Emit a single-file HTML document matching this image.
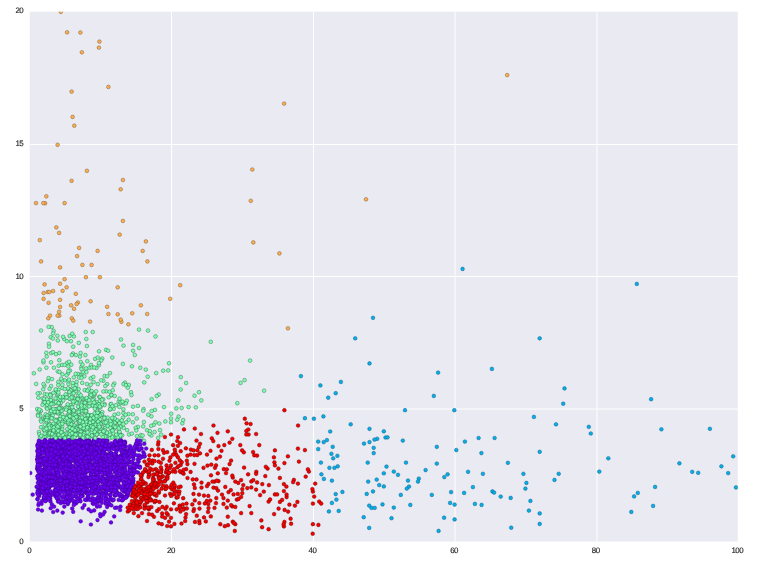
<!DOCTYPE html>
<html><head><meta charset="utf-8"><title>scatter</title>
<style>
html,body{margin:0;padding:0;background:#fff}
svg{display:block}
text{font-family:"Liberation Sans",sans-serif;font-size:7.9px;text-rendering:geometricPrecision;letter-spacing:-0.45px;stroke:#262626;stroke-width:.15px;fill:#262626}
.grid line{stroke:#fff;stroke-width:1}
circle{r:1.85px;stroke-width:.45}
.p{fill:#6e00f4;stroke:#38008c}
.b{fill:#08aee8;stroke:#0a5c82}
.g{fill:#80ffb4;stroke:#256a44}
.o{fill:#ffae4e;stroke:#6e5634}
.r{fill:#fa0000;stroke:#640000}
</style></head><body>
<svg width="763" height="571" viewBox="0 0 763 571">
<rect x="0" y="0" width="763" height="571" fill="#fff"/>
<rect x="29.8" y="11.7" width="708.0" height="529.8" fill="#eaeaf2"/>
<g class="grid"><line x1="171.5" y1="11.7" x2="171.5" y2="541.5"/><line x1="313.5" y1="11.7" x2="313.5" y2="541.5"/><line x1="455.0" y1="11.7" x2="455.0" y2="541.5"/><line x1="597.0" y1="11.7" x2="597.0" y2="541.5"/><line x1="29.8" y1="409.0" x2="737.8" y2="409.0"/><line x1="29.8" y1="276.5" x2="737.8" y2="276.5"/><line x1="29.8" y1="144.5" x2="737.8" y2="144.5"/></g>
<clipPath id="c"><rect x="29.8" y="11.7" width="708.0" height="529.8"/></clipPath>
<g clip-path="url(#c)">
<circle class="p" cx="68.7" cy="477.4" r="1.85"/>
<circle class="p" cx="61.2" cy="466.3" r="1.85"/>
<circle class="p" cx="89.6" cy="441.1" r="1.85"/>
<circle class="g" cx="73.6" cy="413.1" r="1.85"/>
<circle class="g" cx="99.2" cy="416.3" r="1.85"/>
<circle class="r" cx="211.8" cy="438.3" r="1.85"/>
<circle class="o" cx="82.4" cy="264.9" r="1.85"/>
<circle class="p" cx="91.8" cy="465.5" r="1.85"/>
<circle class="p" cx="68.0" cy="469.4" r="1.85"/>
<circle class="p" cx="75.6" cy="486.1" r="1.85"/>
<circle class="p" cx="81.9" cy="443.9" r="1.85"/>
<circle class="p" cx="119.8" cy="446.9" r="1.85"/>
<circle class="p" cx="38.5" cy="487.7" r="1.85"/>
<circle class="g" cx="83.3" cy="398.6" r="1.85"/>
<circle class="g" cx="79.0" cy="413.8" r="1.85"/>
<circle class="g" cx="56.6" cy="419.8" r="1.85"/>
<circle class="p" cx="96.3" cy="479.3" r="1.85"/>
<circle class="r" cx="162.4" cy="476.3" r="1.85"/>
<circle class="p" cx="51.0" cy="453.1" r="1.85"/>
<circle class="r" cx="274.9" cy="494.4" r="1.85"/>
<circle class="r" cx="168.8" cy="472.7" r="1.85"/>
<circle class="p" cx="93.9" cy="480.9" r="1.85"/>
<circle class="p" cx="99.3" cy="448.5" r="1.85"/>
<circle class="p" cx="132.2" cy="474.5" r="1.85"/>
<circle class="g" cx="81.4" cy="405.8" r="1.85"/>
<circle class="r" cx="196.8" cy="515.7" r="1.85"/>
<circle class="g" cx="70.6" cy="437.6" r="1.85"/>
<circle class="p" cx="133.5" cy="467.6" r="1.85"/>
<circle class="p" cx="63.5" cy="478.2" r="1.85"/>
<circle class="p" cx="105.5" cy="490.1" r="1.85"/>
<circle class="g" cx="99.3" cy="396.9" r="1.85"/>
<circle class="p" cx="71.9" cy="482.9" r="1.85"/>
<circle class="p" cx="58.8" cy="499.7" r="1.85"/>
<circle class="p" cx="64.8" cy="479.5" r="1.85"/>
<circle class="p" cx="37.2" cy="468.9" r="1.85"/>
<circle class="p" cx="64.2" cy="482.8" r="1.85"/>
<circle class="g" cx="57.8" cy="371.5" r="1.85"/>
<circle class="p" cx="48.5" cy="496.0" r="1.85"/>
<circle class="p" cx="41.9" cy="442.4" r="1.85"/>
<circle class="p" cx="95.1" cy="459.2" r="1.85"/>
<circle class="g" cx="83.0" cy="417.8" r="1.85"/>
<circle class="p" cx="59.8" cy="442.5" r="1.85"/>
<circle class="g" cx="75.4" cy="430.4" r="1.85"/>
<circle class="o" cx="60.1" cy="267.4" r="1.85"/>
<circle class="p" cx="84.9" cy="477.6" r="1.85"/>
<circle class="r" cx="141.2" cy="488.0" r="1.85"/>
<circle class="r" cx="235.3" cy="524.2" r="1.85"/>
<circle class="p" cx="54.3" cy="466.8" r="1.85"/>
<circle class="p" cx="116.4" cy="481.2" r="1.85"/>
<circle class="p" cx="112.2" cy="446.4" r="1.85"/>
<circle class="g" cx="66.3" cy="434.6" r="1.85"/>
<circle class="g" cx="95.3" cy="426.2" r="1.85"/>
<circle class="p" cx="53.5" cy="454.5" r="1.85"/>
<circle class="o" cx="74.3" cy="125.7" r="1.85"/>
<circle class="r" cx="134.0" cy="508.4" r="1.85"/>
<circle class="g" cx="73.3" cy="427.9" r="1.85"/>
<circle class="g" cx="52.0" cy="379.1" r="1.85"/>
<circle class="p" cx="60.9" cy="486.1" r="1.85"/>
<circle class="p" cx="107.5" cy="464.1" r="1.85"/>
<circle class="g" cx="140.3" cy="367.8" r="1.85"/>
<circle class="p" cx="54.8" cy="441.0" r="1.85"/>
<circle class="g" cx="48.9" cy="423.0" r="1.85"/>
<circle class="p" cx="69.8" cy="483.3" r="1.85"/>
<circle class="p" cx="84.7" cy="487.0" r="1.85"/>
<circle class="p" cx="123.6" cy="464.1" r="1.85"/>
<circle class="p" cx="69.0" cy="478.3" r="1.85"/>
<circle class="p" cx="135.9" cy="464.4" r="1.85"/>
<circle class="r" cx="132.6" cy="492.7" r="1.85"/>
<circle class="p" cx="56.2" cy="486.7" r="1.85"/>
<circle class="r" cx="194.3" cy="455.1" r="1.85"/>
<circle class="r" cx="155.8" cy="469.2" r="1.85"/>
<circle class="g" cx="103.4" cy="380.7" r="1.85"/>
<circle class="g" cx="156.2" cy="373.1" r="1.85"/>
<circle class="g" cx="94.7" cy="394.7" r="1.85"/>
<circle class="o" cx="44.6" cy="284.4" r="1.85"/>
<circle class="p" cx="64.6" cy="497.6" r="1.85"/>
<circle class="p" cx="100.1" cy="440.4" r="1.85"/>
<circle class="p" cx="68.6" cy="449.8" r="1.85"/>
<circle class="g" cx="51.7" cy="327.1" r="1.85"/>
<circle class="g" cx="48.9" cy="435.8" r="1.85"/>
<circle class="p" cx="103.0" cy="455.5" r="1.85"/>
<circle class="p" cx="58.5" cy="462.4" r="1.85"/>
<circle class="p" cx="79.8" cy="480.9" r="1.85"/>
<circle class="g" cx="89.3" cy="428.5" r="1.85"/>
<circle class="p" cx="72.4" cy="457.1" r="1.85"/>
<circle class="p" cx="120.8" cy="443.0" r="1.85"/>
<circle class="g" cx="46.5" cy="407.7" r="1.85"/>
<circle class="g" cx="101.2" cy="380.3" r="1.85"/>
<circle class="o" cx="170.2" cy="298.8" r="1.85"/>
<circle class="p" cx="53.1" cy="474.7" r="1.85"/>
<circle class="p" cx="115.0" cy="507.8" r="1.85"/>
<circle class="p" cx="107.7" cy="476.6" r="1.85"/>
<circle class="g" cx="58.7" cy="428.3" r="1.85"/>
<circle class="p" cx="49.0" cy="487.6" r="1.85"/>
<circle class="g" cx="118.7" cy="401.6" r="1.85"/>
<circle class="g" cx="79.8" cy="436.5" r="1.85"/>
<circle class="p" cx="76.0" cy="447.4" r="1.85"/>
<circle class="r" cx="179.6" cy="505.6" r="1.85"/>
<circle class="g" cx="44.0" cy="436.8" r="1.85"/>
<circle class="p" cx="69.4" cy="478.6" r="1.85"/>
<circle class="p" cx="132.7" cy="451.7" r="1.85"/>
<circle class="p" cx="117.4" cy="486.8" r="1.85"/>
<circle class="g" cx="45.8" cy="436.3" r="1.85"/>
<circle class="r" cx="304.9" cy="450.1" r="1.85"/>
<circle class="p" cx="41.7" cy="458.8" r="1.85"/>
<circle class="g" cx="64.8" cy="380.3" r="1.85"/>
<circle class="p" cx="71.6" cy="444.7" r="1.85"/>
<circle class="p" cx="127.5" cy="478.1" r="1.85"/>
<circle class="g" cx="68.1" cy="373.4" r="1.85"/>
<circle class="p" cx="65.0" cy="483.5" r="1.85"/>
<circle class="g" cx="86.3" cy="339.0" r="1.85"/>
<circle class="p" cx="121.5" cy="446.8" r="1.85"/>
<circle class="g" cx="113.1" cy="419.4" r="1.85"/>
<circle class="p" cx="76.9" cy="446.9" r="1.85"/>
<circle class="g" cx="128.7" cy="419.7" r="1.85"/>
<circle class="g" cx="53.3" cy="423.7" r="1.85"/>
<circle class="p" cx="112.0" cy="477.3" r="1.85"/>
<circle class="p" cx="82.0" cy="483.7" r="1.85"/>
<circle class="p" cx="70.3" cy="442.8" r="1.85"/>
<circle class="p" cx="45.2" cy="471.9" r="1.85"/>
<circle class="g" cx="95.3" cy="429.4" r="1.85"/>
<circle class="g" cx="67.9" cy="424.2" r="1.85"/>
<circle class="p" cx="43.9" cy="457.4" r="1.85"/>
<circle class="r" cx="241.1" cy="496.9" r="1.85"/>
<circle class="r" cx="238.3" cy="482.9" r="1.85"/>
<circle class="p" cx="49.7" cy="486.8" r="1.85"/>
<circle class="p" cx="120.1" cy="494.3" r="1.85"/>
<circle class="r" cx="140.9" cy="491.2" r="1.85"/>
<circle class="p" cx="94.6" cy="453.7" r="1.85"/>
<circle class="r" cx="147.4" cy="502.3" r="1.85"/>
<circle class="b" cx="558.7" cy="473.8" r="1.85"/>
<circle class="p" cx="84.4" cy="443.6" r="1.85"/>
<circle class="g" cx="151.4" cy="416.3" r="1.85"/>
<circle class="p" cx="81.5" cy="447.5" r="1.85"/>
<circle class="p" cx="81.6" cy="459.2" r="1.85"/>
<circle class="p" cx="114.6" cy="454.4" r="1.85"/>
<circle class="p" cx="102.6" cy="463.8" r="1.85"/>
<circle class="b" cx="526.4" cy="482.9" r="1.85"/>
<circle class="p" cx="95.1" cy="442.5" r="1.85"/>
<circle class="p" cx="78.1" cy="500.1" r="1.85"/>
<circle class="p" cx="71.5" cy="453.6" r="1.85"/>
<circle class="g" cx="71.4" cy="405.3" r="1.85"/>
<circle class="g" cx="49.8" cy="408.1" r="1.85"/>
<circle class="b" cx="373.7" cy="453.1" r="1.85"/>
<circle class="p" cx="51.1" cy="447.7" r="1.85"/>
<circle class="p" cx="81.9" cy="469.7" r="1.85"/>
<circle class="r" cx="152.5" cy="460.5" r="1.85"/>
<circle class="p" cx="73.2" cy="511.8" r="1.85"/>
<circle class="g" cx="171.2" cy="413.7" r="1.85"/>
<circle class="g" cx="59.7" cy="418.5" r="1.85"/>
<circle class="p" cx="108.7" cy="504.8" r="1.85"/>
<circle class="r" cx="176.7" cy="509.3" r="1.85"/>
<circle class="g" cx="82.4" cy="421.8" r="1.85"/>
<circle class="o" cx="287.9" cy="328.3" r="1.85"/>
<circle class="p" cx="39.2" cy="441.4" r="1.85"/>
<circle class="r" cx="170.0" cy="467.9" r="1.85"/>
<circle class="r" cx="150.0" cy="498.9" r="1.85"/>
<circle class="p" cx="81.6" cy="491.0" r="1.85"/>
<circle class="r" cx="230.8" cy="490.1" r="1.85"/>
<circle class="r" cx="156.6" cy="487.2" r="1.85"/>
<circle class="g" cx="40.4" cy="411.4" r="1.85"/>
<circle class="p" cx="53.1" cy="477.8" r="1.85"/>
<circle class="r" cx="186.5" cy="503.6" r="1.85"/>
<circle class="g" cx="113.4" cy="433.3" r="1.85"/>
<circle class="p" cx="138.7" cy="444.2" r="1.85"/>
<circle class="p" cx="82.5" cy="481.1" r="1.85"/>
<circle class="p" cx="94.4" cy="467.4" r="1.85"/>
<circle class="g" cx="40.5" cy="415.7" r="1.85"/>
<circle class="p" cx="63.5" cy="442.3" r="1.85"/>
<circle class="p" cx="92.5" cy="449.7" r="1.85"/>
<circle class="p" cx="88.2" cy="498.8" r="1.85"/>
<circle class="p" cx="130.2" cy="489.6" r="1.85"/>
<circle class="p" cx="44.3" cy="481.4" r="1.85"/>
<circle class="p" cx="123.4" cy="496.6" r="1.85"/>
<circle class="r" cx="167.2" cy="452.1" r="1.85"/>
<circle class="g" cx="76.8" cy="430.5" r="1.85"/>
<circle class="p" cx="110.0" cy="447.1" r="1.85"/>
<circle class="p" cx="95.4" cy="479.5" r="1.85"/>
<circle class="g" cx="131.0" cy="392.2" r="1.85"/>
<circle class="r" cx="149.4" cy="486.7" r="1.85"/>
<circle class="p" cx="100.3" cy="468.6" r="1.85"/>
<circle class="g" cx="42.8" cy="419.0" r="1.85"/>
<circle class="p" cx="112.2" cy="482.1" r="1.85"/>
<circle class="p" cx="97.6" cy="466.7" r="1.85"/>
<circle class="p" cx="108.1" cy="503.8" r="1.85"/>
<circle class="b" cx="431.8" cy="494.9" r="1.85"/>
<circle class="p" cx="90.7" cy="470.4" r="1.85"/>
<circle class="b" cx="450.1" cy="502.9" r="1.85"/>
<circle class="g" cx="62.5" cy="388.1" r="1.85"/>
<circle class="p" cx="61.6" cy="482.9" r="1.85"/>
<circle class="p" cx="48.9" cy="467.1" r="1.85"/>
<circle class="p" cx="66.4" cy="478.0" r="1.85"/>
<circle class="g" cx="62.3" cy="429.2" r="1.85"/>
<circle class="g" cx="62.3" cy="426.2" r="1.85"/>
<circle class="r" cx="157.1" cy="470.4" r="1.85"/>
<circle class="g" cx="98.6" cy="418.9" r="1.85"/>
<circle class="p" cx="92.8" cy="503.5" r="1.85"/>
<circle class="p" cx="100.1" cy="466.0" r="1.85"/>
<circle class="g" cx="43.2" cy="389.3" r="1.85"/>
<circle class="p" cx="51.4" cy="478.6" r="1.85"/>
<circle class="p" cx="118.6" cy="447.4" r="1.85"/>
<circle class="g" cx="69.9" cy="389.2" r="1.85"/>
<circle class="g" cx="68.2" cy="414.4" r="1.85"/>
<circle class="g" cx="89.2" cy="424.8" r="1.85"/>
<circle class="p" cx="87.3" cy="461.9" r="1.85"/>
<circle class="g" cx="155.5" cy="336.4" r="1.85"/>
<circle class="g" cx="52.5" cy="431.9" r="1.85"/>
<circle class="p" cx="108.4" cy="481.6" r="1.85"/>
<circle class="p" cx="105.0" cy="479.1" r="1.85"/>
<circle class="r" cx="186.8" cy="508.4" r="1.85"/>
<circle class="g" cx="178.2" cy="400.4" r="1.85"/>
<circle class="p" cx="80.5" cy="487.5" r="1.85"/>
<circle class="g" cx="89.1" cy="426.4" r="1.85"/>
<circle class="p" cx="82.1" cy="472.4" r="1.85"/>
<circle class="r" cx="178.0" cy="437.2" r="1.85"/>
<circle class="g" cx="44.5" cy="430.5" r="1.85"/>
<circle class="r" cx="152.9" cy="482.3" r="1.85"/>
<circle class="r" cx="180.7" cy="465.0" r="1.85"/>
<circle class="p" cx="66.5" cy="488.5" r="1.85"/>
<circle class="p" cx="98.6" cy="468.6" r="1.85"/>
<circle class="p" cx="68.1" cy="454.9" r="1.85"/>
<circle class="p" cx="78.6" cy="470.7" r="1.85"/>
<circle class="o" cx="79.1" cy="247.9" r="1.85"/>
<circle class="p" cx="73.8" cy="502.1" r="1.85"/>
<circle class="p" cx="44.7" cy="442.3" r="1.85"/>
<circle class="p" cx="74.1" cy="475.2" r="1.85"/>
<circle class="g" cx="111.6" cy="395.3" r="1.85"/>
<circle class="p" cx="84.0" cy="454.9" r="1.85"/>
<circle class="r" cx="170.1" cy="487.4" r="1.85"/>
<circle class="p" cx="70.3" cy="443.4" r="1.85"/>
<circle class="g" cx="107.0" cy="434.2" r="1.85"/>
<circle class="p" cx="125.4" cy="485.5" r="1.85"/>
<circle class="p" cx="119.0" cy="459.1" r="1.85"/>
<circle class="p" cx="96.5" cy="499.3" r="1.85"/>
<circle class="p" cx="116.6" cy="491.6" r="1.85"/>
<circle class="r" cx="150.2" cy="468.5" r="1.85"/>
<circle class="p" cx="51.9" cy="448.1" r="1.85"/>
<circle class="p" cx="105.2" cy="488.9" r="1.85"/>
<circle class="p" cx="104.0" cy="468.6" r="1.85"/>
<circle class="p" cx="92.1" cy="489.1" r="1.85"/>
<circle class="p" cx="77.8" cy="480.5" r="1.85"/>
<circle class="p" cx="52.2" cy="485.1" r="1.85"/>
<circle class="p" cx="47.7" cy="465.2" r="1.85"/>
<circle class="r" cx="293.9" cy="479.9" r="1.85"/>
<circle class="p" cx="114.8" cy="461.1" r="1.85"/>
<circle class="p" cx="85.2" cy="482.6" r="1.85"/>
<circle class="r" cx="201.5" cy="482.6" r="1.85"/>
<circle class="p" cx="94.2" cy="510.4" r="1.85"/>
<circle class="p" cx="67.1" cy="451.0" r="1.85"/>
<circle class="r" cx="283.9" cy="484.1" r="1.85"/>
<circle class="r" cx="214.5" cy="481.6" r="1.85"/>
<circle class="b" cx="474.9" cy="503.9" r="1.85"/>
<circle class="p" cx="41.6" cy="444.0" r="1.85"/>
<circle class="o" cx="279.4" cy="253.4" r="1.85"/>
<circle class="o" cx="77.1" cy="256.1" r="1.85"/>
<circle class="b" cx="383.8" cy="486.4" r="1.85"/>
<circle class="p" cx="93.1" cy="443.8" r="1.85"/>
<circle class="p" cx="37.3" cy="468.1" r="1.85"/>
<circle class="g" cx="123.4" cy="413.1" r="1.85"/>
<circle class="p" cx="73.4" cy="481.8" r="1.85"/>
<circle class="p" cx="82.9" cy="459.8" r="1.85"/>
<circle class="r" cx="228.0" cy="525.2" r="1.85"/>
<circle class="p" cx="64.8" cy="454.0" r="1.85"/>
<circle class="g" cx="153.7" cy="424.8" r="1.85"/>
<circle class="g" cx="46.7" cy="416.6" r="1.85"/>
<circle class="p" cx="123.5" cy="474.3" r="1.85"/>
<circle class="p" cx="138.1" cy="472.6" r="1.85"/>
<circle class="p" cx="83.5" cy="478.2" r="1.85"/>
<circle class="g" cx="49.7" cy="424.2" r="1.85"/>
<circle class="o" cx="98.9" cy="47.6" r="1.85"/>
<circle class="p" cx="53.6" cy="454.9" r="1.85"/>
<circle class="p" cx="81.0" cy="448.0" r="1.85"/>
<circle class="p" cx="58.7" cy="453.3" r="1.85"/>
<circle class="r" cx="134.9" cy="501.0" r="1.85"/>
<circle class="p" cx="63.3" cy="449.7" r="1.85"/>
<circle class="p" cx="50.8" cy="475.4" r="1.85"/>
<circle class="g" cx="77.5" cy="416.8" r="1.85"/>
<circle class="p" cx="85.9" cy="491.6" r="1.85"/>
<circle class="p" cx="64.4" cy="442.0" r="1.85"/>
<circle class="p" cx="102.6" cy="487.3" r="1.85"/>
<circle class="g" cx="132.9" cy="422.3" r="1.85"/>
<circle class="p" cx="78.0" cy="447.3" r="1.85"/>
<circle class="r" cx="268.6" cy="529.2" r="1.85"/>
<circle class="r" cx="131.3" cy="505.5" r="1.85"/>
<circle class="g" cx="182.3" cy="423.3" r="1.85"/>
<circle class="p" cx="62.8" cy="467.6" r="1.85"/>
<circle class="r" cx="236.8" cy="499.6" r="1.85"/>
<circle class="p" cx="129.4" cy="480.3" r="1.85"/>
<circle class="r" cx="177.9" cy="457.2" r="1.85"/>
<circle class="b" cx="539.7" cy="513.4" r="1.85"/>
<circle class="p" cx="106.6" cy="448.6" r="1.85"/>
<circle class="p" cx="102.8" cy="464.0" r="1.85"/>
<circle class="p" cx="136.3" cy="444.9" r="1.85"/>
<circle class="p" cx="116.9" cy="463.4" r="1.85"/>
<circle class="r" cx="175.1" cy="452.1" r="1.85"/>
<circle class="r" cx="206.8" cy="500.9" r="1.85"/>
<circle class="p" cx="48.5" cy="487.8" r="1.85"/>
<circle class="p" cx="114.9" cy="495.6" r="1.85"/>
<circle class="p" cx="120.2" cy="480.4" r="1.85"/>
<circle class="p" cx="107.4" cy="448.0" r="1.85"/>
<circle class="p" cx="78.0" cy="486.5" r="1.85"/>
<circle class="r" cx="170.1" cy="493.8" r="1.85"/>
<circle class="b" cx="406.0" cy="462.6" r="1.85"/>
<circle class="p" cx="44.1" cy="499.6" r="1.85"/>
<circle class="p" cx="130.2" cy="448.2" r="1.85"/>
<circle class="g" cx="58.3" cy="381.9" r="1.85"/>
<circle class="g" cx="178.6" cy="416.6" r="1.85"/>
<circle class="r" cx="176.4" cy="454.9" r="1.85"/>
<circle class="r" cx="158.1" cy="444.6" r="1.85"/>
<circle class="p" cx="65.2" cy="477.9" r="1.85"/>
<circle class="p" cx="38.1" cy="444.5" r="1.85"/>
<circle class="g" cx="56.0" cy="390.4" r="1.85"/>
<circle class="p" cx="67.1" cy="482.1" r="1.85"/>
<circle class="p" cx="40.4" cy="449.8" r="1.85"/>
<circle class="p" cx="80.2" cy="443.1" r="1.85"/>
<circle class="r" cx="173.9" cy="503.3" r="1.85"/>
<circle class="g" cx="143.2" cy="426.4" r="1.85"/>
<circle class="p" cx="55.3" cy="450.4" r="1.85"/>
<circle class="r" cx="160.9" cy="462.8" r="1.85"/>
<circle class="p" cx="52.9" cy="440.3" r="1.85"/>
<circle class="p" cx="97.2" cy="461.5" r="1.85"/>
<circle class="p" cx="93.5" cy="441.6" r="1.85"/>
<circle class="g" cx="95.3" cy="402.9" r="1.85"/>
<circle class="g" cx="53.6" cy="418.8" r="1.85"/>
<circle class="p" cx="47.2" cy="452.9" r="1.85"/>
<circle class="p" cx="136.5" cy="472.2" r="1.85"/>
<circle class="p" cx="105.0" cy="440.7" r="1.85"/>
<circle class="b" cx="588.8" cy="426.8" r="1.85"/>
<circle class="p" cx="61.8" cy="440.0" r="1.85"/>
<circle class="r" cx="148.9" cy="509.3" r="1.85"/>
<circle class="p" cx="117.8" cy="442.9" r="1.85"/>
<circle class="b" cx="377.2" cy="438.8" r="1.85"/>
<circle class="p" cx="56.2" cy="458.9" r="1.85"/>
<circle class="g" cx="101.7" cy="429.5" r="1.85"/>
<circle class="p" cx="82.0" cy="468.4" r="1.85"/>
<circle class="p" cx="108.6" cy="487.5" r="1.85"/>
<circle class="r" cx="164.0" cy="452.8" r="1.85"/>
<circle class="p" cx="73.0" cy="466.3" r="1.85"/>
<circle class="p" cx="120.9" cy="440.0" r="1.85"/>
<circle class="p" cx="131.3" cy="470.9" r="1.85"/>
<circle class="g" cx="78.3" cy="433.3" r="1.85"/>
<circle class="g" cx="69.1" cy="410.6" r="1.85"/>
<circle class="g" cx="45.9" cy="418.1" r="1.85"/>
<circle class="p" cx="44.2" cy="469.0" r="1.85"/>
<circle class="p" cx="106.6" cy="482.6" r="1.85"/>
<circle class="o" cx="60.1" cy="307.0" r="1.85"/>
<circle class="p" cx="133.2" cy="456.6" r="1.85"/>
<circle class="b" cx="350.7" cy="424.3" r="1.85"/>
<circle class="r" cx="218.5" cy="446.1" r="1.85"/>
<circle class="r" cx="227.8" cy="516.7" r="1.85"/>
<circle class="r" cx="312.9" cy="491.6" r="1.85"/>
<circle class="g" cx="97.8" cy="429.6" r="1.85"/>
<circle class="p" cx="120.7" cy="443.9" r="1.85"/>
<circle class="p" cx="44.6" cy="464.2" r="1.85"/>
<circle class="p" cx="67.6" cy="493.0" r="1.85"/>
<circle class="p" cx="67.3" cy="469.0" r="1.85"/>
<circle class="g" cx="84.9" cy="425.8" r="1.85"/>
<circle class="p" cx="65.1" cy="458.7" r="1.85"/>
<circle class="p" cx="46.2" cy="483.0" r="1.85"/>
<circle class="p" cx="49.9" cy="442.9" r="1.85"/>
<circle class="p" cx="115.5" cy="486.9" r="1.85"/>
<circle class="g" cx="112.3" cy="357.5" r="1.85"/>
<circle class="p" cx="49.5" cy="486.7" r="1.85"/>
<circle class="p" cx="124.0" cy="491.4" r="1.85"/>
<circle class="p" cx="135.4" cy="448.5" r="1.85"/>
<circle class="r" cx="168.4" cy="473.4" r="1.85"/>
<circle class="g" cx="63.7" cy="422.3" r="1.85"/>
<circle class="p" cx="59.9" cy="463.4" r="1.85"/>
<circle class="p" cx="95.4" cy="477.2" r="1.85"/>
<circle class="g" cx="68.4" cy="384.1" r="1.85"/>
<circle class="p" cx="74.7" cy="441.2" r="1.85"/>
<circle class="p" cx="74.8" cy="472.4" r="1.85"/>
<circle class="g" cx="89.8" cy="415.6" r="1.85"/>
<circle class="g" cx="70.0" cy="370.5" r="1.85"/>
<circle class="o" cx="36.0" cy="203.1" r="1.85"/>
<circle class="p" cx="57.9" cy="464.9" r="1.85"/>
<circle class="p" cx="112.6" cy="500.4" r="1.85"/>
<circle class="p" cx="90.5" cy="492.6" r="1.85"/>
<circle class="p" cx="111.0" cy="488.7" r="1.85"/>
<circle class="g" cx="107.1" cy="432.6" r="1.85"/>
<circle class="p" cx="40.0" cy="479.7" r="1.85"/>
<circle class="b" cx="385.5" cy="437.5" r="1.85"/>
<circle class="p" cx="41.7" cy="462.9" r="1.85"/>
<circle class="p" cx="55.5" cy="475.7" r="1.85"/>
<circle class="p" cx="76.7" cy="443.2" r="1.85"/>
<circle class="p" cx="47.9" cy="479.8" r="1.85"/>
<circle class="o" cx="48.3" cy="318.3" r="1.85"/>
<circle class="g" cx="155.5" cy="422.3" r="1.85"/>
<circle class="g" cx="72.6" cy="438.0" r="1.85"/>
<circle class="g" cx="56.0" cy="428.8" r="1.85"/>
<circle class="p" cx="64.4" cy="465.7" r="1.85"/>
<circle class="p" cx="108.8" cy="489.8" r="1.85"/>
<circle class="g" cx="163.2" cy="370.7" r="1.85"/>
<circle class="p" cx="92.1" cy="498.1" r="1.85"/>
<circle class="r" cx="142.6" cy="491.6" r="1.85"/>
<circle class="p" cx="49.4" cy="484.0" r="1.85"/>
<circle class="p" cx="86.2" cy="479.4" r="1.85"/>
<circle class="p" cx="134.3" cy="451.0" r="1.85"/>
<circle class="r" cx="154.0" cy="516.8" r="1.85"/>
<circle class="p" cx="47.4" cy="480.3" r="1.85"/>
<circle class="p" cx="81.0" cy="444.9" r="1.85"/>
<circle class="p" cx="120.8" cy="455.7" r="1.85"/>
<circle class="b" cx="728.2" cy="473.1" r="1.85"/>
<circle class="p" cx="117.4" cy="473.4" r="1.85"/>
<circle class="r" cx="190.9" cy="449.6" r="1.85"/>
<circle class="p" cx="83.8" cy="478.4" r="1.85"/>
<circle class="b" cx="363.7" cy="517.2" r="1.85"/>
<circle class="p" cx="102.0" cy="450.5" r="1.85"/>
<circle class="p" cx="44.2" cy="460.6" r="1.85"/>
<circle class="p" cx="39.0" cy="459.1" r="1.85"/>
<circle class="p" cx="81.8" cy="488.6" r="1.85"/>
<circle class="p" cx="41.1" cy="450.9" r="1.85"/>
<circle class="p" cx="97.7" cy="451.7" r="1.85"/>
<circle class="o" cx="45.1" cy="203.3" r="1.85"/>
<circle class="p" cx="100.7" cy="449.1" r="1.85"/>
<circle class="p" cx="69.0" cy="500.3" r="1.85"/>
<circle class="p" cx="54.4" cy="464.7" r="1.85"/>
<circle class="r" cx="284.4" cy="410.2" r="1.85"/>
<circle class="g" cx="70.7" cy="423.2" r="1.85"/>
<circle class="g" cx="105.0" cy="426.3" r="1.85"/>
<circle class="p" cx="52.7" cy="440.8" r="1.85"/>
<circle class="r" cx="150.3" cy="486.8" r="1.85"/>
<circle class="p" cx="62.5" cy="482.2" r="1.85"/>
<circle class="p" cx="97.1" cy="478.2" r="1.85"/>
<circle class="b" cx="383.8" cy="431.3" r="1.85"/>
<circle class="g" cx="83.2" cy="408.1" r="1.85"/>
<circle class="p" cx="38.1" cy="509.5" r="1.85"/>
<circle class="p" cx="51.9" cy="474.9" r="1.85"/>
<circle class="p" cx="114.8" cy="476.6" r="1.85"/>
<circle class="r" cx="229.6" cy="464.1" r="1.85"/>
<circle class="p" cx="48.8" cy="462.3" r="1.85"/>
<circle class="p" cx="59.7" cy="456.1" r="1.85"/>
<circle class="g" cx="91.1" cy="405.4" r="1.85"/>
<circle class="p" cx="45.5" cy="484.0" r="1.85"/>
<circle class="p" cx="121.9" cy="445.3" r="1.85"/>
<circle class="p" cx="143.3" cy="452.1" r="1.85"/>
<circle class="p" cx="60.9" cy="449.0" r="1.85"/>
<circle class="p" cx="76.2" cy="469.2" r="1.85"/>
<circle class="p" cx="117.7" cy="473.1" r="1.85"/>
<circle class="g" cx="53.4" cy="392.8" r="1.85"/>
<circle class="g" cx="71.1" cy="426.5" r="1.85"/>
<circle class="g" cx="56.8" cy="412.9" r="1.85"/>
<circle class="p" cx="47.5" cy="486.0" r="1.85"/>
<circle class="g" cx="147.0" cy="430.2" r="1.85"/>
<circle class="r" cx="183.6" cy="473.7" r="1.85"/>
<circle class="p" cx="76.1" cy="490.4" r="1.85"/>
<circle class="g" cx="43.5" cy="402.0" r="1.85"/>
<circle class="g" cx="51.8" cy="415.1" r="1.85"/>
<circle class="p" cx="88.5" cy="446.2" r="1.85"/>
<circle class="p" cx="44.9" cy="440.9" r="1.85"/>
<circle class="g" cx="57.4" cy="335.8" r="1.85"/>
<circle class="p" cx="71.1" cy="473.9" r="1.85"/>
<circle class="p" cx="66.5" cy="457.1" r="1.85"/>
<circle class="p" cx="99.8" cy="494.7" r="1.85"/>
<circle class="g" cx="42.7" cy="398.3" r="1.85"/>
<circle class="b" cx="599.3" cy="471.6" r="1.85"/>
<circle class="p" cx="57.0" cy="462.5" r="1.85"/>
<circle class="g" cx="81.4" cy="367.1" r="1.85"/>
<circle class="p" cx="51.4" cy="477.9" r="1.85"/>
<circle class="b" cx="379.2" cy="485.1" r="1.85"/>
<circle class="g" cx="88.1" cy="425.4" r="1.85"/>
<circle class="p" cx="144.4" cy="456.4" r="1.85"/>
<circle class="p" cx="37.7" cy="462.4" r="1.85"/>
<circle class="g" cx="51.1" cy="353.2" r="1.85"/>
<circle class="p" cx="67.0" cy="449.0" r="1.85"/>
<circle class="p" cx="51.9" cy="504.4" r="1.85"/>
<circle class="g" cx="194.5" cy="395.7" r="1.85"/>
<circle class="p" cx="87.3" cy="493.0" r="1.85"/>
<circle class="g" cx="45.6" cy="415.8" r="1.85"/>
<circle class="p" cx="78.4" cy="444.0" r="1.85"/>
<circle class="p" cx="111.1" cy="453.1" r="1.85"/>
<circle class="g" cx="70.7" cy="413.0" r="1.85"/>
<circle class="r" cx="147.7" cy="496.3" r="1.85"/>
<circle class="p" cx="50.6" cy="484.3" r="1.85"/>
<circle class="g" cx="91.5" cy="427.0" r="1.85"/>
<circle class="p" cx="65.9" cy="491.4" r="1.85"/>
<circle class="g" cx="47.9" cy="400.1" r="1.85"/>
<circle class="g" cx="104.6" cy="404.1" r="1.85"/>
<circle class="r" cx="145.1" cy="483.4" r="1.85"/>
<circle class="p" cx="121.4" cy="456.7" r="1.85"/>
<circle class="p" cx="61.6" cy="458.5" r="1.85"/>
<circle class="o" cx="108.4" cy="314.0" r="1.85"/>
<circle class="p" cx="38.0" cy="449.0" r="1.85"/>
<circle class="r" cx="149.5" cy="455.3" r="1.85"/>
<circle class="p" cx="65.7" cy="484.3" r="1.85"/>
<circle class="p" cx="47.5" cy="443.4" r="1.85"/>
<circle class="p" cx="89.3" cy="442.1" r="1.85"/>
<circle class="p" cx="39.6" cy="442.3" r="1.85"/>
<circle class="p" cx="113.7" cy="499.7" r="1.85"/>
<circle class="p" cx="82.7" cy="475.1" r="1.85"/>
<circle class="p" cx="124.4" cy="472.5" r="1.85"/>
<circle class="p" cx="67.8" cy="457.2" r="1.85"/>
<circle class="p" cx="76.1" cy="496.7" r="1.85"/>
<circle class="p" cx="107.3" cy="464.0" r="1.85"/>
<circle class="p" cx="82.0" cy="485.0" r="1.85"/>
<circle class="p" cx="53.2" cy="512.0" r="1.85"/>
<circle class="p" cx="59.6" cy="463.2" r="1.85"/>
<circle class="p" cx="98.3" cy="500.2" r="1.85"/>
<circle class="g" cx="199.0" cy="392.2" r="1.85"/>
<circle class="p" cx="40.5" cy="442.9" r="1.85"/>
<circle class="p" cx="105.4" cy="456.6" r="1.85"/>
<circle class="g" cx="84.6" cy="434.6" r="1.85"/>
<circle class="g" cx="62.7" cy="432.8" r="1.85"/>
<circle class="p" cx="45.2" cy="468.6" r="1.85"/>
<circle class="p" cx="134.3" cy="454.4" r="1.85"/>
<circle class="g" cx="43.4" cy="362.4" r="1.85"/>
<circle class="g" cx="73.0" cy="422.3" r="1.85"/>
<circle class="r" cx="294.9" cy="505.6" r="1.85"/>
<circle class="g" cx="84.5" cy="431.8" r="1.85"/>
<circle class="p" cx="123.3" cy="443.4" r="1.85"/>
<circle class="p" cx="101.4" cy="469.9" r="1.85"/>
<circle class="p" cx="73.6" cy="480.7" r="1.85"/>
<circle class="g" cx="70.5" cy="430.0" r="1.85"/>
<circle class="p" cx="124.4" cy="446.6" r="1.85"/>
<circle class="g" cx="69.9" cy="420.1" r="1.85"/>
<circle class="p" cx="98.7" cy="497.0" r="1.85"/>
<circle class="r" cx="136.2" cy="502.2" r="1.85"/>
<circle class="r" cx="141.6" cy="498.2" r="1.85"/>
<circle class="g" cx="81.8" cy="423.6" r="1.85"/>
<circle class="g" cx="93.3" cy="395.5" r="1.85"/>
<circle class="p" cx="40.8" cy="470.4" r="1.85"/>
<circle class="g" cx="52.1" cy="426.7" r="1.85"/>
<circle class="p" cx="71.7" cy="445.0" r="1.85"/>
<circle class="p" cx="48.7" cy="480.5" r="1.85"/>
<circle class="p" cx="40.0" cy="449.4" r="1.85"/>
<circle class="g" cx="56.5" cy="390.6" r="1.85"/>
<circle class="b" cx="454.6" cy="504.6" r="1.85"/>
<circle class="p" cx="119.5" cy="460.0" r="1.85"/>
<circle class="p" cx="82.7" cy="473.1" r="1.85"/>
<circle class="g" cx="149.9" cy="431.1" r="1.85"/>
<circle class="g" cx="97.0" cy="415.6" r="1.85"/>
<circle class="p" cx="51.9" cy="457.6" r="1.85"/>
<circle class="g" cx="76.6" cy="381.9" r="1.85"/>
<circle class="p" cx="83.9" cy="466.1" r="1.85"/>
<circle class="p" cx="58.4" cy="456.0" r="1.85"/>
<circle class="p" cx="85.2" cy="466.5" r="1.85"/>
<circle class="r" cx="155.4" cy="482.5" r="1.85"/>
<circle class="r" cx="175.3" cy="471.8" r="1.85"/>
<circle class="p" cx="121.7" cy="452.1" r="1.85"/>
<circle class="p" cx="65.2" cy="446.7" r="1.85"/>
<circle class="g" cx="76.2" cy="428.3" r="1.85"/>
<circle class="r" cx="208.0" cy="511.9" r="1.85"/>
<circle class="g" cx="69.1" cy="423.7" r="1.85"/>
<circle class="p" cx="64.7" cy="457.7" r="1.85"/>
<circle class="p" cx="116.8" cy="477.6" r="1.85"/>
<circle class="g" cx="119.5" cy="426.0" r="1.85"/>
<circle class="p" cx="37.9" cy="482.8" r="1.85"/>
<circle class="p" cx="58.0" cy="501.6" r="1.85"/>
<circle class="r" cx="163.0" cy="450.2" r="1.85"/>
<circle class="p" cx="79.1" cy="450.4" r="1.85"/>
<circle class="p" cx="53.2" cy="453.2" r="1.85"/>
<circle class="p" cx="39.3" cy="496.0" r="1.85"/>
<circle class="g" cx="48.6" cy="326.8" r="1.85"/>
<circle class="p" cx="103.0" cy="456.0" r="1.85"/>
<circle class="g" cx="195.8" cy="407.4" r="1.85"/>
<circle class="p" cx="88.8" cy="457.1" r="1.85"/>
<circle class="r" cx="314.2" cy="496.6" r="1.85"/>
<circle class="g" cx="151.7" cy="399.2" r="1.85"/>
<circle class="p" cx="81.7" cy="466.9" r="1.85"/>
<circle class="r" cx="312.4" cy="489.1" r="1.85"/>
<circle class="g" cx="95.1" cy="430.1" r="1.85"/>
<circle class="p" cx="65.6" cy="481.2" r="1.85"/>
<circle class="o" cx="48.6" cy="302.8" r="1.85"/>
<circle class="r" cx="186.1" cy="469.2" r="1.85"/>
<circle class="r" cx="231.1" cy="460.6" r="1.85"/>
<circle class="p" cx="53.3" cy="441.9" r="1.85"/>
<circle class="p" cx="43.1" cy="461.2" r="1.85"/>
<circle class="g" cx="56.7" cy="433.4" r="1.85"/>
<circle class="p" cx="98.4" cy="478.7" r="1.85"/>
<circle class="r" cx="137.8" cy="490.5" r="1.85"/>
<circle class="g" cx="113.8" cy="429.1" r="1.85"/>
<circle class="g" cx="99.9" cy="413.3" r="1.85"/>
<circle class="g" cx="73.0" cy="353.5" r="1.85"/>
<circle class="p" cx="68.0" cy="493.9" r="1.85"/>
<circle class="p" cx="132.5" cy="475.2" r="1.85"/>
<circle class="p" cx="100.1" cy="471.4" r="1.85"/>
<circle class="g" cx="78.4" cy="421.3" r="1.85"/>
<circle class="p" cx="132.9" cy="481.8" r="1.85"/>
<circle class="g" cx="45.7" cy="414.3" r="1.85"/>
<circle class="b" cx="655.1" cy="486.9" r="1.85"/>
<circle class="p" cx="125.1" cy="487.5" r="1.85"/>
<circle class="p" cx="42.7" cy="457.9" r="1.85"/>
<circle class="p" cx="105.1" cy="457.4" r="1.85"/>
<circle class="g" cx="56.4" cy="428.8" r="1.85"/>
<circle class="p" cx="132.9" cy="483.1" r="1.85"/>
<circle class="g" cx="78.2" cy="395.3" r="1.85"/>
<circle class="g" cx="52.9" cy="352.1" r="1.85"/>
<circle class="p" cx="131.2" cy="486.6" r="1.85"/>
<circle class="p" cx="105.4" cy="453.8" r="1.85"/>
<circle class="p" cx="79.3" cy="454.4" r="1.85"/>
<circle class="o" cx="71.8" cy="318.3" r="1.85"/>
<circle class="p" cx="65.6" cy="462.2" r="1.85"/>
<circle class="g" cx="180.7" cy="389.5" r="1.85"/>
<circle class="g" cx="118.7" cy="430.5" r="1.85"/>
<circle class="o" cx="117.7" cy="287.3" r="1.85"/>
<circle class="g" cx="33.9" cy="373.3" r="1.85"/>
<circle class="p" cx="116.0" cy="442.3" r="1.85"/>
<circle class="g" cx="108.5" cy="424.0" r="1.85"/>
<circle class="r" cx="187.4" cy="464.1" r="1.85"/>
<circle class="r" cx="144.5" cy="490.4" r="1.85"/>
<circle class="p" cx="111.9" cy="491.3" r="1.85"/>
<circle class="r" cx="243.8" cy="452.3" r="1.85"/>
<circle class="p" cx="73.4" cy="467.1" r="1.85"/>
<circle class="p" cx="81.6" cy="488.2" r="1.85"/>
<circle class="r" cx="174.4" cy="523.9" r="1.85"/>
<circle class="p" cx="47.1" cy="447.4" r="1.85"/>
<circle class="r" cx="157.1" cy="510.9" r="1.85"/>
<circle class="g" cx="137.9" cy="405.9" r="1.85"/>
<circle class="p" cx="78.9" cy="489.0" r="1.85"/>
<circle class="p" cx="86.4" cy="500.0" r="1.85"/>
<circle class="g" cx="50.7" cy="337.2" r="1.85"/>
<circle class="p" cx="55.3" cy="459.2" r="1.85"/>
<circle class="p" cx="72.3" cy="483.3" r="1.85"/>
<circle class="r" cx="251.3" cy="481.4" r="1.85"/>
<circle class="p" cx="60.5" cy="453.2" r="1.85"/>
<circle class="g" cx="52.9" cy="412.0" r="1.85"/>
<circle class="g" cx="127.1" cy="430.2" r="1.85"/>
<circle class="r" cx="149.8" cy="492.8" r="1.85"/>
<circle class="r" cx="286.4" cy="486.6" r="1.85"/>
<circle class="p" cx="61.1" cy="444.5" r="1.85"/>
<circle class="g" cx="69.6" cy="335.9" r="1.85"/>
<circle class="g" cx="80.7" cy="362.0" r="1.85"/>
<circle class="g" cx="144.2" cy="382.4" r="1.85"/>
<circle class="p" cx="100.2" cy="458.3" r="1.85"/>
<circle class="p" cx="39.5" cy="465.1" r="1.85"/>
<circle class="g" cx="89.1" cy="415.1" r="1.85"/>
<circle class="g" cx="38.9" cy="432.0" r="1.85"/>
<circle class="g" cx="65.9" cy="395.5" r="1.85"/>
<circle class="p" cx="38.4" cy="504.9" r="1.85"/>
<circle class="p" cx="71.2" cy="481.9" r="1.85"/>
<circle class="p" cx="113.6" cy="462.6" r="1.85"/>
<circle class="p" cx="132.8" cy="463.1" r="1.85"/>
<circle class="g" cx="110.0" cy="373.1" r="1.85"/>
<circle class="g" cx="94.2" cy="421.9" r="1.85"/>
<circle class="p" cx="92.8" cy="450.9" r="1.85"/>
<circle class="p" cx="72.6" cy="480.3" r="1.85"/>
<circle class="p" cx="43.6" cy="471.2" r="1.85"/>
<circle class="g" cx="73.0" cy="404.1" r="1.85"/>
<circle class="p" cx="86.8" cy="453.1" r="1.85"/>
<circle class="r" cx="279.9" cy="477.9" r="1.85"/>
<circle class="p" cx="37.7" cy="476.1" r="1.85"/>
<circle class="g" cx="90.7" cy="378.4" r="1.85"/>
<circle class="g" cx="81.0" cy="374.7" r="1.85"/>
<circle class="p" cx="55.9" cy="443.5" r="1.85"/>
<circle class="r" cx="144.2" cy="489.0" r="1.85"/>
<circle class="p" cx="119.5" cy="444.5" r="1.85"/>
<circle class="p" cx="99.1" cy="493.6" r="1.85"/>
<circle class="p" cx="42.0" cy="500.9" r="1.85"/>
<circle class="g" cx="75.3" cy="434.1" r="1.85"/>
<circle class="p" cx="50.3" cy="463.7" r="1.85"/>
<circle class="r" cx="152.3" cy="463.4" r="1.85"/>
<circle class="p" cx="41.3" cy="449.9" r="1.85"/>
<circle class="p" cx="61.2" cy="452.9" r="1.85"/>
<circle class="p" cx="78.6" cy="485.8" r="1.85"/>
<circle class="g" cx="51.3" cy="432.0" r="1.85"/>
<circle class="p" cx="90.0" cy="465.0" r="1.85"/>
<circle class="g" cx="66.4" cy="416.6" r="1.85"/>
<circle class="o" cx="66.6" cy="287.3" r="1.85"/>
<circle class="g" cx="112.1" cy="429.9" r="1.85"/>
<circle class="p" cx="40.1" cy="493.5" r="1.85"/>
<circle class="r" cx="186.8" cy="460.7" r="1.85"/>
<circle class="b" cx="481.6" cy="504.9" r="1.85"/>
<circle class="p" cx="54.4" cy="464.9" r="1.85"/>
<circle class="p" cx="89.7" cy="462.0" r="1.85"/>
<circle class="r" cx="185.9" cy="448.3" r="1.85"/>
<circle class="r" cx="171.6" cy="484.8" r="1.85"/>
<circle class="p" cx="140.4" cy="444.7" r="1.85"/>
<circle class="p" cx="60.8" cy="503.1" r="1.85"/>
<circle class="p" cx="89.0" cy="445.6" r="1.85"/>
<circle class="p" cx="77.7" cy="479.3" r="1.85"/>
<circle class="g" cx="59.9" cy="434.8" r="1.85"/>
<circle class="p" cx="56.7" cy="448.5" r="1.85"/>
<circle class="g" cx="50.0" cy="431.8" r="1.85"/>
<circle class="g" cx="80.1" cy="430.6" r="1.85"/>
<circle class="g" cx="58.4" cy="413.3" r="1.85"/>
<circle class="p" cx="124.9" cy="442.6" r="1.85"/>
<circle class="r" cx="278.4" cy="468.6" r="1.85"/>
<circle class="p" cx="39.3" cy="470.7" r="1.85"/>
<circle class="p" cx="80.4" cy="467.4" r="1.85"/>
<circle class="p" cx="40.0" cy="457.2" r="1.85"/>
<circle class="p" cx="121.4" cy="473.1" r="1.85"/>
<circle class="p" cx="76.2" cy="449.3" r="1.85"/>
<circle class="p" cx="66.7" cy="450.3" r="1.85"/>
<circle class="p" cx="95.2" cy="442.5" r="1.85"/>
<circle class="r" cx="141.0" cy="479.4" r="1.85"/>
<circle class="g" cx="89.4" cy="367.8" r="1.85"/>
<circle class="g" cx="83.9" cy="424.5" r="1.85"/>
<circle class="p" cx="94.1" cy="498.9" r="1.85"/>
<circle class="p" cx="96.5" cy="487.2" r="1.85"/>
<circle class="r" cx="146.8" cy="464.7" r="1.85"/>
<circle class="p" cx="130.1" cy="483.7" r="1.85"/>
<circle class="p" cx="42.5" cy="448.9" r="1.85"/>
<circle class="r" cx="177.3" cy="491.5" r="1.85"/>
<circle class="g" cx="55.8" cy="435.8" r="1.85"/>
<circle class="p" cx="49.2" cy="455.9" r="1.85"/>
<circle class="g" cx="139.0" cy="348.0" r="1.85"/>
<circle class="p" cx="83.5" cy="472.9" r="1.85"/>
<circle class="p" cx="71.5" cy="499.6" r="1.85"/>
<circle class="p" cx="36.6" cy="486.8" r="1.85"/>
<circle class="p" cx="108.6" cy="454.2" r="1.85"/>
<circle class="g" cx="50.2" cy="394.2" r="1.85"/>
<circle class="p" cx="41.8" cy="448.6" r="1.85"/>
<circle class="p" cx="77.4" cy="446.1" r="1.85"/>
<circle class="g" cx="90.3" cy="395.1" r="1.85"/>
<circle class="r" cx="166.4" cy="486.2" r="1.85"/>
<circle class="p" cx="99.9" cy="459.3" r="1.85"/>
<circle class="g" cx="60.2" cy="431.9" r="1.85"/>
<circle class="r" cx="166.0" cy="472.4" r="1.85"/>
<circle class="p" cx="133.1" cy="469.8" r="1.85"/>
<circle class="p" cx="103.2" cy="493.0" r="1.85"/>
<circle class="g" cx="62.4" cy="384.8" r="1.85"/>
<circle class="p" cx="70.4" cy="443.0" r="1.85"/>
<circle class="r" cx="141.9" cy="474.3" r="1.85"/>
<circle class="g" cx="58.1" cy="421.9" r="1.85"/>
<circle class="g" cx="86.6" cy="423.5" r="1.85"/>
<circle class="g" cx="46.1" cy="430.3" r="1.85"/>
<circle class="p" cx="63.6" cy="444.1" r="1.85"/>
<circle class="g" cx="118.1" cy="421.8" r="1.85"/>
<circle class="r" cx="227.8" cy="431.3" r="1.85"/>
<circle class="g" cx="94.9" cy="432.2" r="1.85"/>
<circle class="g" cx="85.5" cy="430.3" r="1.85"/>
<circle class="p" cx="82.1" cy="457.1" r="1.85"/>
<circle class="g" cx="169.0" cy="363.3" r="1.85"/>
<circle class="p" cx="103.2" cy="451.4" r="1.85"/>
<circle class="b" cx="472.9" cy="487.1" r="1.85"/>
<circle class="g" cx="72.7" cy="429.5" r="1.85"/>
<circle class="g" cx="65.3" cy="437.9" r="1.85"/>
<circle class="g" cx="171.0" cy="418.5" r="1.85"/>
<circle class="p" cx="56.3" cy="457.6" r="1.85"/>
<circle class="p" cx="98.8" cy="501.6" r="1.85"/>
<circle class="p" cx="78.4" cy="492.1" r="1.85"/>
<circle class="p" cx="85.9" cy="492.8" r="1.85"/>
<circle class="p" cx="89.7" cy="482.8" r="1.85"/>
<circle class="g" cx="67.9" cy="435.8" r="1.85"/>
<circle class="r" cx="135.0" cy="505.4" r="1.85"/>
<circle class="r" cx="166.7" cy="506.8" r="1.85"/>
<circle class="p" cx="50.3" cy="463.9" r="1.85"/>
<circle class="g" cx="79.0" cy="421.6" r="1.85"/>
<circle class="g" cx="90.0" cy="418.2" r="1.85"/>
<circle class="p" cx="75.7" cy="469.1" r="1.85"/>
<circle class="p" cx="67.6" cy="485.1" r="1.85"/>
<circle class="p" cx="121.7" cy="496.1" r="1.85"/>
<circle class="g" cx="91.8" cy="434.5" r="1.85"/>
<circle class="p" cx="85.0" cy="499.7" r="1.85"/>
<circle class="g" cx="70.4" cy="420.3" r="1.85"/>
<circle class="p" cx="78.1" cy="491.3" r="1.85"/>
<circle class="g" cx="90.9" cy="435.2" r="1.85"/>
<circle class="p" cx="146.2" cy="448.5" r="1.85"/>
<circle class="p" cx="119.4" cy="473.0" r="1.85"/>
<circle class="p" cx="84.4" cy="485.1" r="1.85"/>
<circle class="g" cx="86.4" cy="430.7" r="1.85"/>
<circle class="r" cx="145.8" cy="483.6" r="1.85"/>
<circle class="p" cx="53.6" cy="478.7" r="1.85"/>
<circle class="p" cx="115.3" cy="485.1" r="1.85"/>
<circle class="o" cx="250.8" cy="200.8" r="1.85"/>
<circle class="g" cx="73.8" cy="410.8" r="1.85"/>
<circle class="b" cx="523.4" cy="473.8" r="1.85"/>
<circle class="p" cx="106.2" cy="480.8" r="1.85"/>
<circle class="p" cx="49.2" cy="486.9" r="1.85"/>
<circle class="r" cx="154.7" cy="494.7" r="1.85"/>
<circle class="g" cx="53.0" cy="431.9" r="1.85"/>
<circle class="r" cx="127.7" cy="507.7" r="1.85"/>
<circle class="g" cx="107.2" cy="384.1" r="1.85"/>
<circle class="g" cx="101.1" cy="414.5" r="1.85"/>
<circle class="r" cx="152.2" cy="493.5" r="1.85"/>
<circle class="r" cx="154.5" cy="502.0" r="1.85"/>
<circle class="p" cx="73.6" cy="484.2" r="1.85"/>
<circle class="p" cx="82.6" cy="463.0" r="1.85"/>
<circle class="r" cx="167.5" cy="471.8" r="1.85"/>
<circle class="p" cx="111.7" cy="483.7" r="1.85"/>
<circle class="p" cx="63.6" cy="443.3" r="1.85"/>
<circle class="p" cx="75.9" cy="441.3" r="1.85"/>
<circle class="g" cx="119.9" cy="421.6" r="1.85"/>
<circle class="p" cx="92.0" cy="483.4" r="1.85"/>
<circle class="g" cx="123.0" cy="417.6" r="1.85"/>
<circle class="g" cx="105.4" cy="428.0" r="1.85"/>
<circle class="p" cx="58.4" cy="451.5" r="1.85"/>
<circle class="r" cx="267.6" cy="468.6" r="1.85"/>
<circle class="p" cx="76.9" cy="482.3" r="1.85"/>
<circle class="g" cx="56.1" cy="409.0" r="1.85"/>
<circle class="g" cx="109.9" cy="409.6" r="1.85"/>
<circle class="g" cx="61.5" cy="398.7" r="1.85"/>
<circle class="p" cx="46.5" cy="475.9" r="1.85"/>
<circle class="r" cx="263.8" cy="491.6" r="1.85"/>
<circle class="g" cx="176.3" cy="408.4" r="1.85"/>
<circle class="p" cx="134.6" cy="467.9" r="1.85"/>
<circle class="p" cx="82.4" cy="481.0" r="1.85"/>
<circle class="p" cx="72.3" cy="451.8" r="1.85"/>
<circle class="g" cx="58.3" cy="434.7" r="1.85"/>
<circle class="p" cx="55.1" cy="479.9" r="1.85"/>
<circle class="p" cx="129.3" cy="488.4" r="1.85"/>
<circle class="p" cx="142.9" cy="456.2" r="1.85"/>
<circle class="p" cx="105.7" cy="449.2" r="1.85"/>
<circle class="r" cx="298.9" cy="461.6" r="1.85"/>
<circle class="r" cx="204.0" cy="517.4" r="1.85"/>
<circle class="p" cx="51.2" cy="440.8" r="1.85"/>
<circle class="p" cx="117.7" cy="480.6" r="1.85"/>
<circle class="r" cx="152.0" cy="491.0" r="1.85"/>
<circle class="p" cx="102.6" cy="476.7" r="1.85"/>
<circle class="p" cx="97.3" cy="447.3" r="1.85"/>
<circle class="p" cx="120.9" cy="467.8" r="1.85"/>
<circle class="g" cx="145.8" cy="369.6" r="1.85"/>
<circle class="p" cx="74.5" cy="470.0" r="1.85"/>
<circle class="r" cx="131.2" cy="505.4" r="1.85"/>
<circle class="g" cx="71.5" cy="413.6" r="1.85"/>
<circle class="p" cx="59.0" cy="479.6" r="1.85"/>
<circle class="g" cx="90.1" cy="424.0" r="1.85"/>
<circle class="p" cx="72.9" cy="447.6" r="1.85"/>
<circle class="p" cx="40.1" cy="455.1" r="1.85"/>
<circle class="p" cx="67.7" cy="471.1" r="1.85"/>
<circle class="p" cx="67.9" cy="446.0" r="1.85"/>
<circle class="p" cx="107.5" cy="490.1" r="1.85"/>
<circle class="o" cx="145.9" cy="241.4" r="1.85"/>
<circle class="p" cx="56.2" cy="488.3" r="1.85"/>
<circle class="g" cx="128.8" cy="385.0" r="1.85"/>
<circle class="g" cx="41.0" cy="410.6" r="1.85"/>
<circle class="p" cx="87.5" cy="454.1" r="1.85"/>
<circle class="g" cx="87.3" cy="361.2" r="1.85"/>
<circle class="g" cx="104.3" cy="417.1" r="1.85"/>
<circle class="r" cx="156.4" cy="495.7" r="1.85"/>
<circle class="r" cx="135.1" cy="485.6" r="1.85"/>
<circle class="p" cx="88.9" cy="462.4" r="1.85"/>
<circle class="r" cx="220.3" cy="524.2" r="1.85"/>
<circle class="b" cx="692.2" cy="471.8" r="1.85"/>
<circle class="p" cx="86.9" cy="440.0" r="1.85"/>
<circle class="p" cx="90.4" cy="446.3" r="1.85"/>
<circle class="g" cx="68.4" cy="366.5" r="1.85"/>
<circle class="g" cx="95.1" cy="407.4" r="1.85"/>
<circle class="b" cx="323.9" cy="478.9" r="1.85"/>
<circle class="o" cx="119.7" cy="234.6" r="1.85"/>
<circle class="p" cx="97.0" cy="457.2" r="1.85"/>
<circle class="p" cx="103.8" cy="440.6" r="1.85"/>
<circle class="r" cx="207.0" cy="454.6" r="1.85"/>
<circle class="p" cx="55.2" cy="449.7" r="1.85"/>
<circle class="r" cx="220.0" cy="456.6" r="1.85"/>
<circle class="p" cx="84.7" cy="485.7" r="1.85"/>
<circle class="p" cx="56.7" cy="490.5" r="1.85"/>
<circle class="p" cx="30.3" cy="473.0" r="1.85"/>
<circle class="p" cx="100.0" cy="459.9" r="1.85"/>
<circle class="p" cx="101.3" cy="459.5" r="1.85"/>
<circle class="p" cx="54.2" cy="469.0" r="1.85"/>
<circle class="p" cx="37.2" cy="451.0" r="1.85"/>
<circle class="p" cx="129.6" cy="470.5" r="1.85"/>
<circle class="p" cx="115.2" cy="457.1" r="1.85"/>
<circle class="g" cx="45.2" cy="418.0" r="1.85"/>
<circle class="p" cx="48.9" cy="469.1" r="1.85"/>
<circle class="p" cx="64.2" cy="475.8" r="1.85"/>
<circle class="g" cx="53.9" cy="432.1" r="1.85"/>
<circle class="g" cx="61.8" cy="417.0" r="1.85"/>
<circle class="p" cx="126.8" cy="492.7" r="1.85"/>
<circle class="p" cx="88.4" cy="467.0" r="1.85"/>
<circle class="p" cx="50.4" cy="501.3" r="1.85"/>
<circle class="p" cx="43.0" cy="464.5" r="1.85"/>
<circle class="p" cx="73.5" cy="449.0" r="1.85"/>
<circle class="p" cx="89.8" cy="469.1" r="1.85"/>
<circle class="p" cx="64.0" cy="454.9" r="1.85"/>
<circle class="g" cx="102.2" cy="358.6" r="1.85"/>
<circle class="g" cx="88.3" cy="420.8" r="1.85"/>
<circle class="p" cx="122.0" cy="500.3" r="1.85"/>
<circle class="g" cx="60.7" cy="435.0" r="1.85"/>
<circle class="r" cx="286.6" cy="497.1" r="1.85"/>
<circle class="r" cx="274.4" cy="462.3" r="1.85"/>
<circle class="p" cx="56.6" cy="483.3" r="1.85"/>
<circle class="p" cx="130.9" cy="489.2" r="1.85"/>
<circle class="p" cx="80.7" cy="521.3" r="1.85"/>
<circle class="p" cx="72.4" cy="491.8" r="1.85"/>
<circle class="p" cx="110.2" cy="494.6" r="1.85"/>
<circle class="p" cx="87.3" cy="463.4" r="1.85"/>
<circle class="r" cx="187.4" cy="455.7" r="1.85"/>
<circle class="p" cx="115.6" cy="462.0" r="1.85"/>
<circle class="g" cx="104.5" cy="405.0" r="1.85"/>
<circle class="p" cx="97.5" cy="457.4" r="1.85"/>
<circle class="p" cx="107.7" cy="478.9" r="1.85"/>
<circle class="p" cx="74.4" cy="454.5" r="1.85"/>
<circle class="g" cx="56.2" cy="425.6" r="1.85"/>
<circle class="p" cx="63.5" cy="454.4" r="1.85"/>
<circle class="g" cx="71.3" cy="415.9" r="1.85"/>
<circle class="p" cx="44.0" cy="477.4" r="1.85"/>
<circle class="p" cx="68.0" cy="466.9" r="1.85"/>
<circle class="p" cx="79.7" cy="457.5" r="1.85"/>
<circle class="r" cx="192.3" cy="504.4" r="1.85"/>
<circle class="p" cx="60.0" cy="491.9" r="1.85"/>
<circle class="g" cx="86.9" cy="384.1" r="1.85"/>
<circle class="g" cx="64.8" cy="389.1" r="1.85"/>
<circle class="p" cx="121.9" cy="475.9" r="1.85"/>
<circle class="p" cx="56.1" cy="446.1" r="1.85"/>
<circle class="b" cx="564.5" cy="388.4" r="1.85"/>
<circle class="g" cx="76.3" cy="385.1" r="1.85"/>
<circle class="r" cx="226.0" cy="473.1" r="1.85"/>
<circle class="p" cx="133.4" cy="480.8" r="1.85"/>
<circle class="g" cx="82.0" cy="412.7" r="1.85"/>
<circle class="p" cx="106.4" cy="462.0" r="1.85"/>
<circle class="p" cx="112.9" cy="468.9" r="1.85"/>
<circle class="r" cx="218.5" cy="481.1" r="1.85"/>
<circle class="p" cx="76.0" cy="472.1" r="1.85"/>
<circle class="p" cx="78.1" cy="465.7" r="1.85"/>
<circle class="p" cx="102.3" cy="492.6" r="1.85"/>
<circle class="p" cx="94.5" cy="477.9" r="1.85"/>
<circle class="r" cx="131.9" cy="501.1" r="1.85"/>
<circle class="b" cx="653.1" cy="505.9" r="1.85"/>
<circle class="p" cx="50.7" cy="459.1" r="1.85"/>
<circle class="g" cx="50.9" cy="426.3" r="1.85"/>
<circle class="g" cx="59.6" cy="437.5" r="1.85"/>
<circle class="p" cx="65.4" cy="463.9" r="1.85"/>
<circle class="p" cx="101.0" cy="467.2" r="1.85"/>
<circle class="p" cx="125.8" cy="474.7" r="1.85"/>
<circle class="p" cx="57.3" cy="491.4" r="1.85"/>
<circle class="g" cx="49.7" cy="417.1" r="1.85"/>
<circle class="r" cx="283.9" cy="491.1" r="1.85"/>
<circle class="g" cx="86.4" cy="408.1" r="1.85"/>
<circle class="p" cx="90.5" cy="460.2" r="1.85"/>
<circle class="p" cx="112.3" cy="467.4" r="1.85"/>
<circle class="p" cx="122.1" cy="447.3" r="1.85"/>
<circle class="g" cx="45.0" cy="402.9" r="1.85"/>
<circle class="g" cx="48.3" cy="428.6" r="1.85"/>
<circle class="o" cx="60.8" cy="11.8" r="1.85"/>
<circle class="r" cx="253.1" cy="452.1" r="1.85"/>
<circle class="p" cx="128.4" cy="462.6" r="1.85"/>
<circle class="g" cx="83.3" cy="420.9" r="1.85"/>
<circle class="p" cx="65.1" cy="445.2" r="1.85"/>
<circle class="b" cx="418.8" cy="478.6" r="1.85"/>
<circle class="p" cx="67.3" cy="482.4" r="1.85"/>
<circle class="p" cx="63.1" cy="458.5" r="1.85"/>
<circle class="g" cx="91.6" cy="421.6" r="1.85"/>
<circle class="p" cx="86.2" cy="453.6" r="1.85"/>
<circle class="p" cx="128.4" cy="451.4" r="1.85"/>
<circle class="p" cx="141.4" cy="457.1" r="1.85"/>
<circle class="g" cx="107.6" cy="435.2" r="1.85"/>
<circle class="p" cx="73.4" cy="482.0" r="1.85"/>
<circle class="g" cx="89.7" cy="437.0" r="1.85"/>
<circle class="r" cx="167.8" cy="514.7" r="1.85"/>
<circle class="g" cx="104.9" cy="436.5" r="1.85"/>
<circle class="p" cx="111.1" cy="447.7" r="1.85"/>
<circle class="p" cx="117.4" cy="468.4" r="1.85"/>
<circle class="g" cx="129.1" cy="434.5" r="1.85"/>
<circle class="p" cx="64.3" cy="506.6" r="1.85"/>
<circle class="p" cx="53.5" cy="465.3" r="1.85"/>
<circle class="g" cx="73.8" cy="392.7" r="1.85"/>
<circle class="g" cx="107.6" cy="422.9" r="1.85"/>
<circle class="r" cx="201.0" cy="434.0" r="1.85"/>
<circle class="r" cx="148.9" cy="473.1" r="1.85"/>
<circle class="p" cx="58.7" cy="449.9" r="1.85"/>
<circle class="r" cx="274.9" cy="465.3" r="1.85"/>
<circle class="g" cx="115.3" cy="436.8" r="1.85"/>
<circle class="p" cx="79.7" cy="479.7" r="1.85"/>
<circle class="g" cx="136.7" cy="418.5" r="1.85"/>
<circle class="b" cx="393.8" cy="471.6" r="1.85"/>
<circle class="r" cx="157.4" cy="473.4" r="1.85"/>
<circle class="g" cx="183.2" cy="420.1" r="1.85"/>
<circle class="g" cx="95.9" cy="414.6" r="1.85"/>
<circle class="r" cx="256.3" cy="471.8" r="1.85"/>
<circle class="p" cx="66.2" cy="471.2" r="1.85"/>
<circle class="p" cx="64.9" cy="442.9" r="1.85"/>
<circle class="b" cx="332.7" cy="446.8" r="1.85"/>
<circle class="b" cx="408.0" cy="480.6" r="1.85"/>
<circle class="p" cx="66.0" cy="498.9" r="1.85"/>
<circle class="p" cx="88.1" cy="457.0" r="1.85"/>
<circle class="p" cx="101.3" cy="499.0" r="1.85"/>
<circle class="o" cx="121.4" cy="321.8" r="1.85"/>
<circle class="p" cx="42.3" cy="479.2" r="1.85"/>
<circle class="p" cx="79.7" cy="492.6" r="1.85"/>
<circle class="g" cx="72.1" cy="436.9" r="1.85"/>
<circle class="p" cx="83.5" cy="468.4" r="1.85"/>
<circle class="p" cx="119.8" cy="441.3" r="1.85"/>
<circle class="p" cx="88.1" cy="454.0" r="1.85"/>
<circle class="g" cx="136.9" cy="436.1" r="1.85"/>
<circle class="p" cx="101.0" cy="466.4" r="1.85"/>
<circle class="r" cx="185.2" cy="521.0" r="1.85"/>
<circle class="p" cx="61.9" cy="466.0" r="1.85"/>
<circle class="p" cx="43.7" cy="450.5" r="1.85"/>
<circle class="p" cx="66.4" cy="445.3" r="1.85"/>
<circle class="p" cx="106.0" cy="455.6" r="1.85"/>
<circle class="g" cx="84.8" cy="416.0" r="1.85"/>
<circle class="p" cx="121.7" cy="446.1" r="1.85"/>
<circle class="p" cx="60.7" cy="464.7" r="1.85"/>
<circle class="g" cx="72.3" cy="411.5" r="1.85"/>
<circle class="p" cx="39.1" cy="448.0" r="1.85"/>
<circle class="p" cx="71.1" cy="457.6" r="1.85"/>
<circle class="p" cx="133.2" cy="478.3" r="1.85"/>
<circle class="r" cx="143.0" cy="493.8" r="1.85"/>
<circle class="b" cx="320.4" cy="385.4" r="1.85"/>
<circle class="p" cx="62.0" cy="483.2" r="1.85"/>
<circle class="p" cx="120.8" cy="441.2" r="1.85"/>
<circle class="g" cx="78.1" cy="429.9" r="1.85"/>
<circle class="g" cx="95.1" cy="358.9" r="1.85"/>
<circle class="p" cx="68.3" cy="474.4" r="1.85"/>
<circle class="r" cx="129.8" cy="504.7" r="1.85"/>
<circle class="p" cx="70.7" cy="461.2" r="1.85"/>
<circle class="p" cx="66.7" cy="484.3" r="1.85"/>
<circle class="b" cx="376.7" cy="479.6" r="1.85"/>
<circle class="p" cx="58.9" cy="443.5" r="1.85"/>
<circle class="r" cx="138.6" cy="485.8" r="1.85"/>
<circle class="p" cx="44.5" cy="457.5" r="1.85"/>
<circle class="g" cx="93.0" cy="419.8" r="1.85"/>
<circle class="g" cx="99.6" cy="401.2" r="1.85"/>
<circle class="g" cx="88.3" cy="424.9" r="1.85"/>
<circle class="p" cx="94.1" cy="469.1" r="1.85"/>
<circle class="p" cx="55.1" cy="462.5" r="1.85"/>
<circle class="p" cx="113.5" cy="444.7" r="1.85"/>
<circle class="r" cx="177.3" cy="467.3" r="1.85"/>
<circle class="p" cx="98.8" cy="491.7" r="1.85"/>
<circle class="r" cx="152.1" cy="514.7" r="1.85"/>
<circle class="p" cx="91.1" cy="511.3" r="1.85"/>
<circle class="p" cx="80.1" cy="465.0" r="1.85"/>
<circle class="g" cx="52.3" cy="433.1" r="1.85"/>
<circle class="p" cx="128.3" cy="490.3" r="1.85"/>
<circle class="g" cx="60.0" cy="411.3" r="1.85"/>
<circle class="p" cx="70.5" cy="472.9" r="1.85"/>
<circle class="p" cx="60.1" cy="483.7" r="1.85"/>
<circle class="r" cx="208.3" cy="495.9" r="1.85"/>
<circle class="p" cx="115.7" cy="440.7" r="1.85"/>
<circle class="g" cx="39.3" cy="434.3" r="1.85"/>
<circle class="p" cx="62.7" cy="512.6" r="1.85"/>
<circle class="g" cx="71.9" cy="435.6" r="1.85"/>
<circle class="r" cx="204.8" cy="503.4" r="1.85"/>
<circle class="g" cx="82.7" cy="430.5" r="1.85"/>
<circle class="g" cx="52.5" cy="401.2" r="1.85"/>
<circle class="p" cx="47.6" cy="469.4" r="1.85"/>
<circle class="g" cx="96.6" cy="402.3" r="1.85"/>
<circle class="p" cx="75.4" cy="445.1" r="1.85"/>
<circle class="p" cx="37.4" cy="466.0" r="1.85"/>
<circle class="r" cx="171.0" cy="517.8" r="1.85"/>
<circle class="r" cx="149.5" cy="462.8" r="1.85"/>
<circle class="g" cx="58.8" cy="432.9" r="1.85"/>
<circle class="p" cx="110.9" cy="445.8" r="1.85"/>
<circle class="g" cx="85.2" cy="424.9" r="1.85"/>
<circle class="p" cx="126.9" cy="450.0" r="1.85"/>
<circle class="p" cx="66.6" cy="442.6" r="1.85"/>
<circle class="p" cx="58.4" cy="453.6" r="1.85"/>
<circle class="p" cx="77.7" cy="453.7" r="1.85"/>
<circle class="p" cx="97.7" cy="440.8" r="1.85"/>
<circle class="p" cx="138.8" cy="458.8" r="1.85"/>
<circle class="p" cx="132.3" cy="451.7" r="1.85"/>
<circle class="g" cx="91.9" cy="429.3" r="1.85"/>
<circle class="r" cx="284.4" cy="521.9" r="1.85"/>
<circle class="g" cx="82.0" cy="398.4" r="1.85"/>
<circle class="p" cx="92.3" cy="455.9" r="1.85"/>
<circle class="p" cx="114.2" cy="516.4" r="1.85"/>
<circle class="p" cx="45.4" cy="486.7" r="1.85"/>
<circle class="p" cx="53.7" cy="457.1" r="1.85"/>
<circle class="o" cx="122.9" cy="220.9" r="1.85"/>
<circle class="r" cx="142.8" cy="483.9" r="1.85"/>
<circle class="p" cx="86.5" cy="471.1" r="1.85"/>
<circle class="g" cx="67.9" cy="405.2" r="1.85"/>
<circle class="p" cx="124.9" cy="474.7" r="1.85"/>
<circle class="p" cx="93.7" cy="467.2" r="1.85"/>
<circle class="r" cx="160.9" cy="472.3" r="1.85"/>
<circle class="g" cx="98.9" cy="365.2" r="1.85"/>
<circle class="r" cx="246.3" cy="431.0" r="1.85"/>
<circle class="p" cx="75.0" cy="458.2" r="1.85"/>
<circle class="p" cx="39.1" cy="464.2" r="1.85"/>
<circle class="p" cx="93.8" cy="483.1" r="1.85"/>
<circle class="p" cx="76.3" cy="444.1" r="1.85"/>
<circle class="r" cx="143.2" cy="498.9" r="1.85"/>
<circle class="p" cx="67.3" cy="471.1" r="1.85"/>
<circle class="b" cx="371.5" cy="507.9" r="1.85"/>
<circle class="p" cx="71.4" cy="490.5" r="1.85"/>
<circle class="p" cx="49.8" cy="481.6" r="1.85"/>
<circle class="o" cx="60.1" cy="283.7" r="1.85"/>
<circle class="p" cx="43.6" cy="490.3" r="1.85"/>
<circle class="p" cx="42.2" cy="477.5" r="1.85"/>
<circle class="r" cx="318.4" cy="524.9" r="1.85"/>
<circle class="g" cx="80.0" cy="356.6" r="1.85"/>
<circle class="p" cx="79.6" cy="499.3" r="1.85"/>
<circle class="g" cx="51.1" cy="386.0" r="1.85"/>
<circle class="g" cx="78.2" cy="410.3" r="1.85"/>
<circle class="p" cx="88.0" cy="447.8" r="1.85"/>
<circle class="p" cx="47.3" cy="497.5" r="1.85"/>
<circle class="g" cx="86.0" cy="368.4" r="1.85"/>
<circle class="r" cx="235.3" cy="481.6" r="1.85"/>
<circle class="p" cx="126.1" cy="482.1" r="1.85"/>
<circle class="p" cx="109.4" cy="488.3" r="1.85"/>
<circle class="p" cx="88.1" cy="469.3" r="1.85"/>
<circle class="g" cx="109.3" cy="432.3" r="1.85"/>
<circle class="g" cx="41.0" cy="427.2" r="1.85"/>
<circle class="p" cx="97.9" cy="483.1" r="1.85"/>
<circle class="p" cx="63.9" cy="502.4" r="1.85"/>
<circle class="g" cx="97.4" cy="412.9" r="1.85"/>
<circle class="g" cx="133.1" cy="344.9" r="1.85"/>
<circle class="p" cx="99.2" cy="477.4" r="1.85"/>
<circle class="p" cx="106.4" cy="493.9" r="1.85"/>
<circle class="p" cx="38.8" cy="463.6" r="1.85"/>
<circle class="g" cx="47.7" cy="435.5" r="1.85"/>
<circle class="p" cx="73.5" cy="441.9" r="1.85"/>
<circle class="p" cx="115.6" cy="445.2" r="1.85"/>
<circle class="g" cx="37.2" cy="409.0" r="1.85"/>
<circle class="r" cx="142.0" cy="513.1" r="1.85"/>
<circle class="p" cx="66.6" cy="446.8" r="1.85"/>
<circle class="o" cx="97.6" cy="250.9" r="1.85"/>
<circle class="b" cx="436.8" cy="446.8" r="1.85"/>
<circle class="p" cx="103.2" cy="488.1" r="1.85"/>
<circle class="p" cx="87.1" cy="446.6" r="1.85"/>
<circle class="g" cx="57.2" cy="395.2" r="1.85"/>
<circle class="p" cx="97.2" cy="440.2" r="1.85"/>
<circle class="p" cx="52.9" cy="460.4" r="1.85"/>
<circle class="p" cx="108.0" cy="485.6" r="1.85"/>
<circle class="p" cx="94.7" cy="443.5" r="1.85"/>
<circle class="g" cx="81.1" cy="423.3" r="1.85"/>
<circle class="o" cx="43.6" cy="298.8" r="1.85"/>
<circle class="o" cx="71.1" cy="305.3" r="1.85"/>
<circle class="p" cx="46.0" cy="482.1" r="1.85"/>
<circle class="p" cx="81.3" cy="450.5" r="1.85"/>
<circle class="g" cx="87.9" cy="415.2" r="1.85"/>
<circle class="g" cx="89.4" cy="433.9" r="1.85"/>
<circle class="r" cx="282.1" cy="499.9" r="1.85"/>
<circle class="r" cx="148.3" cy="493.7" r="1.85"/>
<circle class="r" cx="150.3" cy="490.2" r="1.85"/>
<circle class="p" cx="37.6" cy="456.3" r="1.85"/>
<circle class="g" cx="70.2" cy="425.7" r="1.85"/>
<circle class="p" cx="74.1" cy="471.8" r="1.85"/>
<circle class="p" cx="130.8" cy="448.4" r="1.85"/>
<circle class="r" cx="134.3" cy="488.4" r="1.85"/>
<circle class="g" cx="70.6" cy="405.2" r="1.85"/>
<circle class="g" cx="48.2" cy="426.1" r="1.85"/>
<circle class="p" cx="121.0" cy="477.6" r="1.85"/>
<circle class="p" cx="104.8" cy="483.5" r="1.85"/>
<circle class="p" cx="64.8" cy="450.4" r="1.85"/>
<circle class="r" cx="185.5" cy="517.5" r="1.85"/>
<circle class="p" cx="60.1" cy="486.1" r="1.85"/>
<circle class="p" cx="124.0" cy="491.4" r="1.85"/>
<circle class="p" cx="120.8" cy="447.4" r="1.85"/>
<circle class="r" cx="283.9" cy="526.4" r="1.85"/>
<circle class="r" cx="194.8" cy="500.4" r="1.85"/>
<circle class="p" cx="46.5" cy="490.8" r="1.85"/>
<circle class="g" cx="94.0" cy="399.1" r="1.85"/>
<circle class="p" cx="97.1" cy="506.6" r="1.85"/>
<circle class="p" cx="59.1" cy="447.3" r="1.85"/>
<circle class="p" cx="117.8" cy="484.0" r="1.85"/>
<circle class="p" cx="63.1" cy="444.6" r="1.85"/>
<circle class="p" cx="61.1" cy="490.3" r="1.85"/>
<circle class="p" cx="125.6" cy="484.3" r="1.85"/>
<circle class="p" cx="79.7" cy="454.5" r="1.85"/>
<circle class="p" cx="84.9" cy="470.0" r="1.85"/>
<circle class="p" cx="103.7" cy="470.3" r="1.85"/>
<circle class="r" cx="158.6" cy="461.6" r="1.85"/>
<circle class="p" cx="117.9" cy="459.3" r="1.85"/>
<circle class="g" cx="53.6" cy="330.9" r="1.85"/>
<circle class="g" cx="45.1" cy="420.4" r="1.85"/>
<circle class="p" cx="96.5" cy="444.6" r="1.85"/>
<circle class="p" cx="85.4" cy="442.3" r="1.85"/>
<circle class="o" cx="507.2" cy="75.1" r="1.85"/>
<circle class="g" cx="84.7" cy="390.2" r="1.85"/>
<circle class="p" cx="104.2" cy="456.0" r="1.85"/>
<circle class="p" cx="67.5" cy="502.8" r="1.85"/>
<circle class="p" cx="123.2" cy="453.1" r="1.85"/>
<circle class="p" cx="63.4" cy="463.9" r="1.85"/>
<circle class="g" cx="91.7" cy="395.7" r="1.85"/>
<circle class="p" cx="38.9" cy="480.7" r="1.85"/>
<circle class="p" cx="104.0" cy="443.3" r="1.85"/>
<circle class="b" cx="335.7" cy="393.2" r="1.85"/>
<circle class="p" cx="76.9" cy="459.4" r="1.85"/>
<circle class="p" cx="85.9" cy="477.3" r="1.85"/>
<circle class="g" cx="59.3" cy="360.2" r="1.85"/>
<circle class="p" cx="70.5" cy="447.2" r="1.85"/>
<circle class="p" cx="43.1" cy="463.1" r="1.85"/>
<circle class="g" cx="102.3" cy="412.1" r="1.85"/>
<circle class="p" cx="49.1" cy="450.1" r="1.85"/>
<circle class="p" cx="81.6" cy="448.9" r="1.85"/>
<circle class="g" cx="62.1" cy="380.3" r="1.85"/>
<circle class="g" cx="90.4" cy="422.5" r="1.85"/>
<circle class="g" cx="84.4" cy="429.6" r="1.85"/>
<circle class="p" cx="45.1" cy="466.6" r="1.85"/>
<circle class="r" cx="221.5" cy="450.8" r="1.85"/>
<circle class="g" cx="68.4" cy="381.2" r="1.85"/>
<circle class="r" cx="149.2" cy="487.7" r="1.85"/>
<circle class="p" cx="89.2" cy="459.7" r="1.85"/>
<circle class="p" cx="32.7" cy="494.6" r="1.85"/>
<circle class="p" cx="54.2" cy="480.1" r="1.85"/>
<circle class="g" cx="90.1" cy="392.2" r="1.85"/>
<circle class="g" cx="63.2" cy="400.6" r="1.85"/>
<circle class="p" cx="67.9" cy="456.5" r="1.85"/>
<circle class="g" cx="58.1" cy="413.2" r="1.85"/>
<circle class="p" cx="113.1" cy="467.2" r="1.85"/>
<circle class="g" cx="82.2" cy="382.9" r="1.85"/>
<circle class="p" cx="50.2" cy="442.4" r="1.85"/>
<circle class="p" cx="41.9" cy="510.6" r="1.85"/>
<circle class="p" cx="84.9" cy="451.4" r="1.85"/>
<circle class="p" cx="87.5" cy="468.8" r="1.85"/>
<circle class="p" cx="65.0" cy="488.0" r="1.85"/>
<circle class="r" cx="195.0" cy="521.9" r="1.85"/>
<circle class="g" cx="95.1" cy="403.7" r="1.85"/>
<circle class="p" cx="59.2" cy="449.6" r="1.85"/>
<circle class="b" cx="337.4" cy="455.8" r="1.85"/>
<circle class="p" cx="72.9" cy="471.6" r="1.85"/>
<circle class="o" cx="59.3" cy="315.6" r="1.85"/>
<circle class="b" cx="634.1" cy="496.4" r="1.85"/>
<circle class="p" cx="51.3" cy="477.0" r="1.85"/>
<circle class="p" cx="119.7" cy="461.7" r="1.85"/>
<circle class="p" cx="58.4" cy="482.6" r="1.85"/>
<circle class="p" cx="69.4" cy="470.6" r="1.85"/>
<circle class="g" cx="115.8" cy="422.9" r="1.85"/>
<circle class="p" cx="92.4" cy="456.2" r="1.85"/>
<circle class="p" cx="86.2" cy="479.9" r="1.85"/>
<circle class="p" cx="107.0" cy="465.5" r="1.85"/>
<circle class="p" cx="48.2" cy="495.5" r="1.85"/>
<circle class="g" cx="46.0" cy="425.8" r="1.85"/>
<circle class="b" cx="444.1" cy="517.7" r="1.85"/>
<circle class="b" cx="369.5" cy="428.8" r="1.85"/>
<circle class="b" cx="318.2" cy="441.6" r="1.85"/>
<circle class="b" cx="335.7" cy="494.1" r="1.85"/>
<circle class="p" cx="102.2" cy="448.5" r="1.85"/>
<circle class="r" cx="162.2" cy="513.4" r="1.85"/>
<circle class="p" cx="124.1" cy="497.0" r="1.85"/>
<circle class="g" cx="50.9" cy="400.8" r="1.85"/>
<circle class="p" cx="48.1" cy="481.8" r="1.85"/>
<circle class="p" cx="39.2" cy="490.0" r="1.85"/>
<circle class="p" cx="62.9" cy="488.6" r="1.85"/>
<circle class="p" cx="70.6" cy="486.6" r="1.85"/>
<circle class="g" cx="50.7" cy="399.9" r="1.85"/>
<circle class="p" cx="101.2" cy="454.7" r="1.85"/>
<circle class="p" cx="123.8" cy="469.3" r="1.85"/>
<circle class="p" cx="126.4" cy="463.8" r="1.85"/>
<circle class="g" cx="155.0" cy="409.9" r="1.85"/>
<circle class="p" cx="93.1" cy="489.1" r="1.85"/>
<circle class="g" cx="73.8" cy="416.3" r="1.85"/>
<circle class="p" cx="59.5" cy="483.0" r="1.85"/>
<circle class="g" cx="120.6" cy="435.2" r="1.85"/>
<circle class="g" cx="102.1" cy="404.6" r="1.85"/>
<circle class="p" cx="93.2" cy="449.2" r="1.85"/>
<circle class="g" cx="250.1" cy="360.6" r="1.85"/>
<circle class="p" cx="124.5" cy="476.9" r="1.85"/>
<circle class="g" cx="90.9" cy="420.5" r="1.85"/>
<circle class="p" cx="71.8" cy="485.0" r="1.85"/>
<circle class="p" cx="57.1" cy="472.7" r="1.85"/>
<circle class="g" cx="59.3" cy="353.0" r="1.85"/>
<circle class="p" cx="80.5" cy="501.3" r="1.85"/>
<circle class="o" cx="43.6" cy="293.0" r="1.85"/>
<circle class="p" cx="78.6" cy="456.4" r="1.85"/>
<circle class="p" cx="53.5" cy="450.7" r="1.85"/>
<circle class="p" cx="64.3" cy="484.0" r="1.85"/>
<circle class="o" cx="140.9" cy="305.3" r="1.85"/>
<circle class="g" cx="63.2" cy="409.2" r="1.85"/>
<circle class="g" cx="86.3" cy="418.3" r="1.85"/>
<circle class="g" cx="48.6" cy="378.1" r="1.85"/>
<circle class="g" cx="119.3" cy="432.7" r="1.85"/>
<circle class="g" cx="100.5" cy="414.8" r="1.85"/>
<circle class="g" cx="99.9" cy="407.3" r="1.85"/>
<circle class="p" cx="56.6" cy="476.2" r="1.85"/>
<circle class="b" cx="528.9" cy="510.6" r="1.85"/>
<circle class="g" cx="55.2" cy="411.6" r="1.85"/>
<circle class="r" cx="144.7" cy="505.7" r="1.85"/>
<circle class="p" cx="67.6" cy="463.0" r="1.85"/>
<circle class="g" cx="168.2" cy="370.4" r="1.85"/>
<circle class="g" cx="84.9" cy="435.5" r="1.85"/>
<circle class="r" cx="193.5" cy="493.9" r="1.85"/>
<circle class="g" cx="114.5" cy="421.6" r="1.85"/>
<circle class="g" cx="52.7" cy="415.2" r="1.85"/>
<circle class="p" cx="84.2" cy="457.4" r="1.85"/>
<circle class="r" cx="196.5" cy="479.4" r="1.85"/>
<circle class="p" cx="53.1" cy="448.8" r="1.85"/>
<circle class="p" cx="92.4" cy="464.5" r="1.85"/>
<circle class="g" cx="114.8" cy="422.7" r="1.85"/>
<circle class="g" cx="58.1" cy="436.1" r="1.85"/>
<circle class="g" cx="49.4" cy="406.9" r="1.85"/>
<circle class="p" cx="97.7" cy="463.6" r="1.85"/>
<circle class="g" cx="59.5" cy="433.3" r="1.85"/>
<circle class="g" cx="74.4" cy="432.1" r="1.85"/>
<circle class="p" cx="50.9" cy="495.4" r="1.85"/>
<circle class="p" cx="45.2" cy="478.3" r="1.85"/>
<circle class="p" cx="49.5" cy="445.0" r="1.85"/>
<circle class="p" cx="115.9" cy="487.4" r="1.85"/>
<circle class="r" cx="183.8" cy="508.3" r="1.85"/>
<circle class="p" cx="82.8" cy="478.8" r="1.85"/>
<circle class="b" cx="481.4" cy="453.1" r="1.85"/>
<circle class="g" cx="71.5" cy="390.8" r="1.85"/>
<circle class="g" cx="73.1" cy="397.2" r="1.85"/>
<circle class="p" cx="90.9" cy="524.5" r="1.85"/>
<circle class="p" cx="59.8" cy="486.9" r="1.85"/>
<circle class="p" cx="108.6" cy="447.2" r="1.85"/>
<circle class="p" cx="96.9" cy="453.7" r="1.85"/>
<circle class="p" cx="144.6" cy="456.2" r="1.85"/>
<circle class="r" cx="173.3" cy="482.6" r="1.85"/>
<circle class="g" cx="240.6" cy="382.9" r="1.85"/>
<circle class="g" cx="68.3" cy="430.5" r="1.85"/>
<circle class="p" cx="137.9" cy="459.6" r="1.85"/>
<circle class="p" cx="40.5" cy="456.1" r="1.85"/>
<circle class="b" cx="391.5" cy="518.2" r="1.85"/>
<circle class="r" cx="197.3" cy="455.1" r="1.85"/>
<circle class="g" cx="69.4" cy="398.6" r="1.85"/>
<circle class="p" cx="85.8" cy="483.0" r="1.85"/>
<circle class="p" cx="61.2" cy="441.5" r="1.85"/>
<circle class="p" cx="118.1" cy="471.6" r="1.85"/>
<circle class="r" cx="144.5" cy="508.6" r="1.85"/>
<circle class="p" cx="54.7" cy="494.4" r="1.85"/>
<circle class="p" cx="85.1" cy="465.8" r="1.85"/>
<circle class="p" cx="70.9" cy="480.2" r="1.85"/>
<circle class="p" cx="68.0" cy="490.1" r="1.85"/>
<circle class="p" cx="41.4" cy="472.4" r="1.85"/>
<circle class="r" cx="287.9" cy="456.3" r="1.85"/>
<circle class="p" cx="102.8" cy="486.4" r="1.85"/>
<circle class="p" cx="86.4" cy="450.6" r="1.85"/>
<circle class="g" cx="40.0" cy="437.5" r="1.85"/>
<circle class="o" cx="72.6" cy="116.9" r="1.85"/>
<circle class="b" cx="313.9" cy="418.7" r="1.85"/>
<circle class="p" cx="106.1" cy="497.3" r="1.85"/>
<circle class="b" cx="608.3" cy="458.3" r="1.85"/>
<circle class="p" cx="48.1" cy="483.3" r="1.85"/>
<circle class="p" cx="109.9" cy="486.3" r="1.85"/>
<circle class="p" cx="76.4" cy="444.4" r="1.85"/>
<circle class="p" cx="137.0" cy="446.5" r="1.85"/>
<circle class="p" cx="69.3" cy="501.4" r="1.85"/>
<circle class="b" cx="320.9" cy="462.6" r="1.85"/>
<circle class="p" cx="52.1" cy="441.1" r="1.85"/>
<circle class="g" cx="78.9" cy="406.7" r="1.85"/>
<circle class="p" cx="128.8" cy="482.5" r="1.85"/>
<circle class="p" cx="109.8" cy="473.4" r="1.85"/>
<circle class="p" cx="110.1" cy="495.0" r="1.85"/>
<circle class="p" cx="66.2" cy="447.3" r="1.85"/>
<circle class="p" cx="71.1" cy="460.5" r="1.85"/>
<circle class="p" cx="94.9" cy="466.8" r="1.85"/>
<circle class="p" cx="76.2" cy="472.6" r="1.85"/>
<circle class="r" cx="149.3" cy="507.6" r="1.85"/>
<circle class="p" cx="65.9" cy="482.6" r="1.85"/>
<circle class="b" cx="398.0" cy="474.8" r="1.85"/>
<circle class="g" cx="48.9" cy="425.5" r="1.85"/>
<circle class="g" cx="113.7" cy="408.8" r="1.85"/>
<circle class="r" cx="151.4" cy="507.1" r="1.85"/>
<circle class="g" cx="91.8" cy="432.3" r="1.85"/>
<circle class="p" cx="116.6" cy="466.7" r="1.85"/>
<circle class="p" cx="112.5" cy="455.2" r="1.85"/>
<circle class="p" cx="51.4" cy="467.5" r="1.85"/>
<circle class="g" cx="95.9" cy="422.8" r="1.85"/>
<circle class="g" cx="99.9" cy="431.8" r="1.85"/>
<circle class="g" cx="50.2" cy="412.7" r="1.85"/>
<circle class="p" cx="127.2" cy="474.8" r="1.85"/>
<circle class="p" cx="115.1" cy="495.1" r="1.85"/>
<circle class="g" cx="67.1" cy="362.9" r="1.85"/>
<circle class="g" cx="85.7" cy="426.8" r="1.85"/>
<circle class="g" cx="123.7" cy="403.7" r="1.85"/>
<circle class="g" cx="55.6" cy="409.4" r="1.85"/>
<circle class="p" cx="98.2" cy="439.8" r="1.85"/>
<circle class="p" cx="79.0" cy="474.5" r="1.85"/>
<circle class="p" cx="73.9" cy="450.6" r="1.85"/>
<circle class="p" cx="79.7" cy="457.9" r="1.85"/>
<circle class="p" cx="83.7" cy="459.4" r="1.85"/>
<circle class="p" cx="42.0" cy="481.5" r="1.85"/>
<circle class="p" cx="54.1" cy="460.8" r="1.85"/>
<circle class="p" cx="90.2" cy="457.4" r="1.85"/>
<circle class="r" cx="134.9" cy="487.0" r="1.85"/>
<circle class="p" cx="122.2" cy="500.1" r="1.85"/>
<circle class="p" cx="101.5" cy="498.0" r="1.85"/>
<circle class="g" cx="65.3" cy="407.8" r="1.85"/>
<circle class="g" cx="98.7" cy="404.3" r="1.85"/>
<circle class="p" cx="77.9" cy="470.4" r="1.85"/>
<circle class="p" cx="80.4" cy="494.6" r="1.85"/>
<circle class="p" cx="123.7" cy="487.4" r="1.85"/>
<circle class="p" cx="128.9" cy="475.4" r="1.85"/>
<circle class="p" cx="45.4" cy="463.8" r="1.85"/>
<circle class="g" cx="49.6" cy="388.8" r="1.85"/>
<circle class="p" cx="50.7" cy="467.0" r="1.85"/>
<circle class="p" cx="88.4" cy="452.9" r="1.85"/>
<circle class="g" cx="102.9" cy="422.1" r="1.85"/>
<circle class="p" cx="65.3" cy="456.2" r="1.85"/>
<circle class="p" cx="56.2" cy="461.7" r="1.85"/>
<circle class="p" cx="125.4" cy="491.2" r="1.85"/>
<circle class="p" cx="93.1" cy="464.8" r="1.85"/>
<circle class="g" cx="43.5" cy="360.5" r="1.85"/>
<circle class="g" cx="110.6" cy="404.2" r="1.85"/>
<circle class="p" cx="38.2" cy="470.6" r="1.85"/>
<circle class="g" cx="72.2" cy="431.0" r="1.85"/>
<circle class="b" cx="464.9" cy="441.6" r="1.85"/>
<circle class="g" cx="77.2" cy="425.6" r="1.85"/>
<circle class="o" cx="64.6" cy="203.1" r="1.85"/>
<circle class="p" cx="98.9" cy="470.1" r="1.85"/>
<circle class="p" cx="65.1" cy="502.1" r="1.85"/>
<circle class="r" cx="138.6" cy="506.3" r="1.85"/>
<circle class="p" cx="120.8" cy="487.8" r="1.85"/>
<circle class="p" cx="37.8" cy="490.5" r="1.85"/>
<circle class="p" cx="123.4" cy="499.3" r="1.85"/>
<circle class="r" cx="158.4" cy="449.0" r="1.85"/>
<circle class="g" cx="67.1" cy="421.1" r="1.85"/>
<circle class="p" cx="93.6" cy="449.9" r="1.85"/>
<circle class="p" cx="124.0" cy="488.0" r="1.85"/>
<circle class="p" cx="61.3" cy="459.3" r="1.85"/>
<circle class="p" cx="70.3" cy="458.9" r="1.85"/>
<circle class="p" cx="38.5" cy="467.4" r="1.85"/>
<circle class="r" cx="180.6" cy="486.6" r="1.85"/>
<circle class="g" cx="88.7" cy="403.4" r="1.85"/>
<circle class="p" cx="117.8" cy="449.1" r="1.85"/>
<circle class="p" cx="94.9" cy="489.8" r="1.85"/>
<circle class="g" cx="53.4" cy="428.9" r="1.85"/>
<circle class="p" cx="45.9" cy="487.1" r="1.85"/>
<circle class="p" cx="66.5" cy="441.6" r="1.85"/>
<circle class="g" cx="101.8" cy="414.5" r="1.85"/>
<circle class="g" cx="125.0" cy="382.6" r="1.85"/>
<circle class="p" cx="109.7" cy="464.6" r="1.85"/>
<circle class="p" cx="112.2" cy="462.0" r="1.85"/>
<circle class="g" cx="131.9" cy="433.6" r="1.85"/>
<circle class="g" cx="120.4" cy="403.2" r="1.85"/>
<circle class="p" cx="110.1" cy="488.6" r="1.85"/>
<circle class="p" cx="63.1" cy="453.3" r="1.85"/>
<circle class="p" cx="124.4" cy="466.8" r="1.85"/>
<circle class="p" cx="105.3" cy="481.0" r="1.85"/>
<circle class="p" cx="41.2" cy="474.3" r="1.85"/>
<circle class="p" cx="114.6" cy="455.5" r="1.85"/>
<circle class="p" cx="83.5" cy="477.8" r="1.85"/>
<circle class="p" cx="38.7" cy="486.3" r="1.85"/>
<circle class="p" cx="53.3" cy="476.4" r="1.85"/>
<circle class="p" cx="89.2" cy="483.7" r="1.85"/>
<circle class="p" cx="44.8" cy="470.5" r="1.85"/>
<circle class="p" cx="95.0" cy="487.0" r="1.85"/>
<circle class="p" cx="37.9" cy="459.0" r="1.85"/>
<circle class="p" cx="40.6" cy="473.9" r="1.85"/>
<circle class="p" cx="107.6" cy="477.4" r="1.85"/>
<circle class="p" cx="97.0" cy="452.8" r="1.85"/>
<circle class="g" cx="82.3" cy="428.7" r="1.85"/>
<circle class="r" cx="173.8" cy="489.7" r="1.85"/>
<circle class="p" cx="60.1" cy="463.6" r="1.85"/>
<circle class="r" cx="140.2" cy="491.7" r="1.85"/>
<circle class="g" cx="57.4" cy="411.8" r="1.85"/>
<circle class="p" cx="105.7" cy="503.7" r="1.85"/>
<circle class="b" cx="409.0" cy="486.6" r="1.85"/>
<circle class="r" cx="277.1" cy="494.4" r="1.85"/>
<circle class="p" cx="103.7" cy="478.8" r="1.85"/>
<circle class="p" cx="114.0" cy="481.7" r="1.85"/>
<circle class="o" cx="117.7" cy="314.3" r="1.85"/>
<circle class="r" cx="148.5" cy="488.6" r="1.85"/>
<circle class="g" cx="104.6" cy="376.0" r="1.85"/>
<circle class="p" cx="80.6" cy="466.0" r="1.85"/>
<circle class="g" cx="82.9" cy="434.6" r="1.85"/>
<circle class="p" cx="110.7" cy="474.6" r="1.85"/>
<circle class="r" cx="140.3" cy="485.6" r="1.85"/>
<circle class="p" cx="61.2" cy="447.3" r="1.85"/>
<circle class="p" cx="62.4" cy="497.8" r="1.85"/>
<circle class="p" cx="89.5" cy="466.4" r="1.85"/>
<circle class="p" cx="87.3" cy="443.5" r="1.85"/>
<circle class="g" cx="60.8" cy="402.9" r="1.85"/>
<circle class="r" cx="158.6" cy="523.3" r="1.85"/>
<circle class="p" cx="39.8" cy="465.9" r="1.85"/>
<circle class="p" cx="84.1" cy="491.5" r="1.85"/>
<circle class="g" cx="81.9" cy="405.7" r="1.85"/>
<circle class="p" cx="85.2" cy="443.2" r="1.85"/>
<circle class="o" cx="132.2" cy="313.3" r="1.85"/>
<circle class="g" cx="95.1" cy="424.5" r="1.85"/>
<circle class="p" cx="109.5" cy="474.8" r="1.85"/>
<circle class="g" cx="62.9" cy="435.4" r="1.85"/>
<circle class="p" cx="39.9" cy="452.0" r="1.85"/>
<circle class="r" cx="171.1" cy="495.9" r="1.85"/>
<circle class="r" cx="165.3" cy="480.4" r="1.85"/>
<circle class="r" cx="147.2" cy="491.2" r="1.85"/>
<circle class="p" cx="110.1" cy="470.8" r="1.85"/>
<circle class="r" cx="232.3" cy="438.8" r="1.85"/>
<circle class="p" cx="63.4" cy="482.3" r="1.85"/>
<circle class="p" cx="84.2" cy="445.4" r="1.85"/>
<circle class="p" cx="126.4" cy="492.0" r="1.85"/>
<circle class="r" cx="312.9" cy="524.2" r="1.85"/>
<circle class="g" cx="86.9" cy="346.0" r="1.85"/>
<circle class="g" cx="92.8" cy="400.0" r="1.85"/>
<circle class="g" cx="99.4" cy="425.6" r="1.85"/>
<circle class="p" cx="88.5" cy="481.6" r="1.85"/>
<circle class="p" cx="53.9" cy="448.5" r="1.85"/>
<circle class="b" cx="525.4" cy="488.6" r="1.85"/>
<circle class="b" cx="507.9" cy="462.8" r="1.85"/>
<circle class="g" cx="141.1" cy="438.7" r="1.85"/>
<circle class="p" cx="79.7" cy="483.0" r="1.85"/>
<circle class="g" cx="84.5" cy="422.5" r="1.85"/>
<circle class="p" cx="107.6" cy="455.6" r="1.85"/>
<circle class="r" cx="167.1" cy="477.2" r="1.85"/>
<circle class="p" cx="115.8" cy="480.3" r="1.85"/>
<circle class="p" cx="46.2" cy="443.8" r="1.85"/>
<circle class="p" cx="60.9" cy="462.9" r="1.85"/>
<circle class="r" cx="262.1" cy="527.2" r="1.85"/>
<circle class="p" cx="89.6" cy="456.6" r="1.85"/>
<circle class="p" cx="125.4" cy="464.5" r="1.85"/>
<circle class="r" cx="181.7" cy="462.2" r="1.85"/>
<circle class="p" cx="92.3" cy="488.4" r="1.85"/>
<circle class="p" cx="82.6" cy="452.5" r="1.85"/>
<circle class="p" cx="64.7" cy="483.4" r="1.85"/>
<circle class="g" cx="119.7" cy="437.8" r="1.85"/>
<circle class="p" cx="121.1" cy="443.8" r="1.85"/>
<circle class="g" cx="121.0" cy="339.5" r="1.85"/>
<circle class="g" cx="143.6" cy="409.0" r="1.85"/>
<circle class="g" cx="72.0" cy="399.9" r="1.85"/>
<circle class="g" cx="62.3" cy="414.4" r="1.85"/>
<circle class="g" cx="151.1" cy="425.8" r="1.85"/>
<circle class="p" cx="52.6" cy="466.6" r="1.85"/>
<circle class="r" cx="210.8" cy="516.4" r="1.85"/>
<circle class="g" cx="57.5" cy="430.5" r="1.85"/>
<circle class="p" cx="70.1" cy="455.7" r="1.85"/>
<circle class="b" cx="383.8" cy="473.3" r="1.85"/>
<circle class="r" cx="153.3" cy="487.0" r="1.85"/>
<circle class="p" cx="132.2" cy="469.9" r="1.85"/>
<circle class="p" cx="78.4" cy="469.6" r="1.85"/>
<circle class="o" cx="74.1" cy="308.8" r="1.85"/>
<circle class="p" cx="73.7" cy="455.3" r="1.85"/>
<circle class="p" cx="95.1" cy="453.0" r="1.85"/>
<circle class="g" cx="111.8" cy="423.4" r="1.85"/>
<circle class="g" cx="64.8" cy="421.6" r="1.85"/>
<circle class="p" cx="81.7" cy="480.8" r="1.85"/>
<circle class="r" cx="194.5" cy="463.8" r="1.85"/>
<circle class="p" cx="47.7" cy="474.1" r="1.85"/>
<circle class="p" cx="47.9" cy="478.7" r="1.85"/>
<circle class="p" cx="95.7" cy="441.3" r="1.85"/>
<circle class="p" cx="66.6" cy="494.9" r="1.85"/>
<circle class="p" cx="53.5" cy="493.1" r="1.85"/>
<circle class="p" cx="110.7" cy="498.0" r="1.85"/>
<circle class="p" cx="80.5" cy="474.2" r="1.85"/>
<circle class="p" cx="68.0" cy="477.7" r="1.85"/>
<circle class="r" cx="170.4" cy="457.4" r="1.85"/>
<circle class="g" cx="58.7" cy="408.3" r="1.85"/>
<circle class="o" cx="147.2" cy="314.0" r="1.85"/>
<circle class="p" cx="41.7" cy="464.7" r="1.85"/>
<circle class="r" cx="183.2" cy="498.2" r="1.85"/>
<circle class="r" cx="165.4" cy="508.7" r="1.85"/>
<circle class="p" cx="80.2" cy="483.9" r="1.85"/>
<circle class="g" cx="97.8" cy="357.6" r="1.85"/>
<circle class="p" cx="129.6" cy="468.9" r="1.85"/>
<circle class="r" cx="289.4" cy="504.6" r="1.85"/>
<circle class="p" cx="114.2" cy="460.3" r="1.85"/>
<circle class="p" cx="68.7" cy="455.5" r="1.85"/>
<circle class="g" cx="140.7" cy="435.1" r="1.85"/>
<circle class="p" cx="67.2" cy="460.3" r="1.85"/>
<circle class="p" cx="106.4" cy="448.2" r="1.85"/>
<circle class="p" cx="109.3" cy="503.7" r="1.85"/>
<circle class="p" cx="123.1" cy="452.4" r="1.85"/>
<circle class="r" cx="154.4" cy="485.1" r="1.85"/>
<circle class="p" cx="69.2" cy="478.0" r="1.85"/>
<circle class="g" cx="92.4" cy="423.6" r="1.85"/>
<circle class="r" cx="154.3" cy="474.4" r="1.85"/>
<circle class="p" cx="127.1" cy="462.7" r="1.85"/>
<circle class="p" cx="68.3" cy="489.7" r="1.85"/>
<circle class="p" cx="59.0" cy="453.3" r="1.85"/>
<circle class="p" cx="76.6" cy="443.7" r="1.85"/>
<circle class="b" cx="539.7" cy="338.3" r="1.85"/>
<circle class="p" cx="67.1" cy="473.5" r="1.85"/>
<circle class="g" cx="95.4" cy="415.6" r="1.85"/>
<circle class="b" cx="369.2" cy="527.9" r="1.85"/>
<circle class="r" cx="257.1" cy="482.4" r="1.85"/>
<circle class="g" cx="60.2" cy="407.0" r="1.85"/>
<circle class="g" cx="72.0" cy="438.0" r="1.85"/>
<circle class="g" cx="106.0" cy="349.8" r="1.85"/>
<circle class="p" cx="53.0" cy="485.3" r="1.85"/>
<circle class="p" cx="69.4" cy="467.3" r="1.85"/>
<circle class="p" cx="119.9" cy="476.1" r="1.85"/>
<circle class="p" cx="96.0" cy="442.6" r="1.85"/>
<circle class="p" cx="40.8" cy="487.9" r="1.85"/>
<circle class="g" cx="48.7" cy="433.3" r="1.85"/>
<circle class="g" cx="119.0" cy="433.9" r="1.85"/>
<circle class="r" cx="217.5" cy="432.8" r="1.85"/>
<circle class="o" cx="57.6" cy="144.8" r="1.85"/>
<circle class="g" cx="126.8" cy="400.8" r="1.85"/>
<circle class="p" cx="136.5" cy="467.1" r="1.85"/>
<circle class="p" cx="81.0" cy="467.5" r="1.85"/>
<circle class="g" cx="74.9" cy="433.9" r="1.85"/>
<circle class="g" cx="119.4" cy="407.1" r="1.85"/>
<circle class="b" cx="331.9" cy="480.6" r="1.85"/>
<circle class="p" cx="116.2" cy="454.5" r="1.85"/>
<circle class="p" cx="76.3" cy="471.0" r="1.85"/>
<circle class="p" cx="44.2" cy="472.1" r="1.85"/>
<circle class="p" cx="63.0" cy="472.4" r="1.85"/>
<circle class="r" cx="174.4" cy="486.9" r="1.85"/>
<circle class="p" cx="104.5" cy="456.1" r="1.85"/>
<circle class="r" cx="161.7" cy="481.8" r="1.85"/>
<circle class="p" cx="69.1" cy="443.4" r="1.85"/>
<circle class="p" cx="47.5" cy="487.9" r="1.85"/>
<circle class="b" cx="482.9" cy="473.8" r="1.85"/>
<circle class="r" cx="138.5" cy="502.6" r="1.85"/>
<circle class="g" cx="76.6" cy="402.8" r="1.85"/>
<circle class="p" cx="68.6" cy="491.8" r="1.85"/>
<circle class="g" cx="47.3" cy="415.6" r="1.85"/>
<circle class="p" cx="110.6" cy="480.1" r="1.85"/>
<circle class="p" cx="105.6" cy="472.1" r="1.85"/>
<circle class="g" cx="109.2" cy="436.5" r="1.85"/>
<circle class="p" cx="60.2" cy="440.9" r="1.85"/>
<circle class="g" cx="48.8" cy="436.8" r="1.85"/>
<circle class="r" cx="138.6" cy="494.1" r="1.85"/>
<circle class="p" cx="106.8" cy="445.8" r="1.85"/>
<circle class="p" cx="84.6" cy="491.0" r="1.85"/>
<circle class="r" cx="133.8" cy="513.1" r="1.85"/>
<circle class="r" cx="136.1" cy="508.9" r="1.85"/>
<circle class="p" cx="128.5" cy="492.8" r="1.85"/>
<circle class="p" cx="73.3" cy="449.0" r="1.85"/>
<circle class="p" cx="39.7" cy="454.1" r="1.85"/>
<circle class="r" cx="213.5" cy="425.5" r="1.85"/>
<circle class="p" cx="76.4" cy="472.4" r="1.85"/>
<circle class="p" cx="126.6" cy="477.5" r="1.85"/>
<circle class="g" cx="101.1" cy="424.5" r="1.85"/>
<circle class="g" cx="64.3" cy="418.0" r="1.85"/>
<circle class="g" cx="58.2" cy="432.6" r="1.85"/>
<circle class="p" cx="81.3" cy="441.1" r="1.85"/>
<circle class="g" cx="144.1" cy="440.9" r="1.85"/>
<circle class="p" cx="98.6" cy="479.7" r="1.85"/>
<circle class="p" cx="53.7" cy="456.2" r="1.85"/>
<circle class="p" cx="118.3" cy="484.1" r="1.85"/>
<circle class="p" cx="93.9" cy="471.5" r="1.85"/>
<circle class="p" cx="96.9" cy="458.7" r="1.85"/>
<circle class="p" cx="98.6" cy="489.3" r="1.85"/>
<circle class="p" cx="95.7" cy="477.8" r="1.85"/>
<circle class="r" cx="179.9" cy="507.7" r="1.85"/>
<circle class="g" cx="73.9" cy="336.4" r="1.85"/>
<circle class="b" cx="328.2" cy="397.7" r="1.85"/>
<circle class="p" cx="56.9" cy="449.2" r="1.85"/>
<circle class="g" cx="40.8" cy="420.0" r="1.85"/>
<circle class="b" cx="492.4" cy="491.4" r="1.85"/>
<circle class="r" cx="213.5" cy="487.6" r="1.85"/>
<circle class="p" cx="95.5" cy="493.2" r="1.85"/>
<circle class="o" cx="47.6" cy="292.0" r="1.85"/>
<circle class="r" cx="238.6" cy="498.9" r="1.85"/>
<circle class="p" cx="66.3" cy="471.7" r="1.85"/>
<circle class="p" cx="123.6" cy="442.2" r="1.85"/>
<circle class="p" cx="104.1" cy="466.5" r="1.85"/>
<circle class="p" cx="122.8" cy="451.5" r="1.85"/>
<circle class="p" cx="45.4" cy="452.0" r="1.85"/>
<circle class="p" cx="109.4" cy="475.3" r="1.85"/>
<circle class="p" cx="37.3" cy="459.0" r="1.85"/>
<circle class="p" cx="38.8" cy="465.2" r="1.85"/>
<circle class="g" cx="116.6" cy="437.3" r="1.85"/>
<circle class="g" cx="75.7" cy="391.1" r="1.85"/>
<circle class="p" cx="66.9" cy="442.1" r="1.85"/>
<circle class="p" cx="55.9" cy="455.2" r="1.85"/>
<circle class="r" cx="133.8" cy="504.2" r="1.85"/>
<circle class="g" cx="105.2" cy="436.6" r="1.85"/>
<circle class="p" cx="79.2" cy="460.7" r="1.85"/>
<circle class="p" cx="63.5" cy="481.7" r="1.85"/>
<circle class="p" cx="117.7" cy="483.9" r="1.85"/>
<circle class="p" cx="47.9" cy="493.0" r="1.85"/>
<circle class="r" cx="208.3" cy="504.1" r="1.85"/>
<circle class="p" cx="120.2" cy="456.4" r="1.85"/>
<circle class="g" cx="53.9" cy="367.7" r="1.85"/>
<circle class="p" cx="84.7" cy="450.4" r="1.85"/>
<circle class="p" cx="47.4" cy="458.0" r="1.85"/>
<circle class="p" cx="46.1" cy="500.5" r="1.85"/>
<circle class="p" cx="72.0" cy="489.8" r="1.85"/>
<circle class="p" cx="58.2" cy="464.4" r="1.85"/>
<circle class="g" cx="99.7" cy="419.9" r="1.85"/>
<circle class="g" cx="109.8" cy="434.7" r="1.85"/>
<circle class="g" cx="66.7" cy="436.9" r="1.85"/>
<circle class="p" cx="67.6" cy="472.0" r="1.85"/>
<circle class="p" cx="91.4" cy="442.9" r="1.85"/>
<circle class="p" cx="50.1" cy="498.5" r="1.85"/>
<circle class="r" cx="166.6" cy="513.1" r="1.85"/>
<circle class="g" cx="98.8" cy="422.2" r="1.85"/>
<circle class="r" cx="216.3" cy="488.1" r="1.85"/>
<circle class="p" cx="63.1" cy="440.4" r="1.85"/>
<circle class="g" cx="64.2" cy="339.0" r="1.85"/>
<circle class="g" cx="69.0" cy="361.8" r="1.85"/>
<circle class="b" cx="340.9" cy="381.9" r="1.85"/>
<circle class="r" cx="171.0" cy="434.5" r="1.85"/>
<circle class="p" cx="97.7" cy="482.9" r="1.85"/>
<circle class="r" cx="143.0" cy="481.6" r="1.85"/>
<circle class="r" cx="171.0" cy="526.3" r="1.85"/>
<circle class="p" cx="110.1" cy="469.1" r="1.85"/>
<circle class="p" cx="77.4" cy="466.8" r="1.85"/>
<circle class="p" cx="81.8" cy="461.5" r="1.85"/>
<circle class="r" cx="286.6" cy="494.6" r="1.85"/>
<circle class="g" cx="82.9" cy="371.9" r="1.85"/>
<circle class="r" cx="153.1" cy="478.1" r="1.85"/>
<circle class="r" cx="251.3" cy="513.1" r="1.85"/>
<circle class="p" cx="55.4" cy="496.2" r="1.85"/>
<circle class="p" cx="43.5" cy="477.2" r="1.85"/>
<circle class="p" cx="86.1" cy="457.4" r="1.85"/>
<circle class="r" cx="179.8" cy="460.3" r="1.85"/>
<circle class="r" cx="216.8" cy="480.6" r="1.85"/>
<circle class="g" cx="55.5" cy="436.5" r="1.85"/>
<circle class="g" cx="131.9" cy="366.3" r="1.85"/>
<circle class="r" cx="228.5" cy="492.1" r="1.85"/>
<circle class="g" cx="127.8" cy="387.7" r="1.85"/>
<circle class="g" cx="51.8" cy="412.4" r="1.85"/>
<circle class="g" cx="72.6" cy="429.8" r="1.85"/>
<circle class="b" cx="369.5" cy="363.4" r="1.85"/>
<circle class="p" cx="124.7" cy="468.0" r="1.85"/>
<circle class="p" cx="124.9" cy="451.1" r="1.85"/>
<circle class="p" cx="105.1" cy="471.5" r="1.85"/>
<circle class="g" cx="78.6" cy="389.1" r="1.85"/>
<circle class="p" cx="91.8" cy="450.3" r="1.85"/>
<circle class="p" cx="88.0" cy="448.4" r="1.85"/>
<circle class="g" cx="93.3" cy="376.9" r="1.85"/>
<circle class="p" cx="93.5" cy="481.9" r="1.85"/>
<circle class="p" cx="65.9" cy="452.0" r="1.85"/>
<circle class="r" cx="315.2" cy="483.6" r="1.85"/>
<circle class="b" cx="333.2" cy="458.3" r="1.85"/>
<circle class="o" cx="284.1" cy="103.6" r="1.85"/>
<circle class="p" cx="41.6" cy="443.4" r="1.85"/>
<circle class="p" cx="48.5" cy="476.4" r="1.85"/>
<circle class="r" cx="177.3" cy="441.0" r="1.85"/>
<circle class="g" cx="55.1" cy="435.0" r="1.85"/>
<circle class="g" cx="79.6" cy="430.7" r="1.85"/>
<circle class="r" cx="140.9" cy="497.9" r="1.85"/>
<circle class="p" cx="115.9" cy="480.9" r="1.85"/>
<circle class="b" cx="330.2" cy="431.5" r="1.85"/>
<circle class="g" cx="66.7" cy="417.4" r="1.85"/>
<circle class="p" cx="77.4" cy="450.2" r="1.85"/>
<circle class="g" cx="110.7" cy="406.5" r="1.85"/>
<circle class="r" cx="134.3" cy="492.8" r="1.85"/>
<circle class="r" cx="133.4" cy="509.0" r="1.85"/>
<circle class="p" cx="44.0" cy="472.9" r="1.85"/>
<circle class="g" cx="78.8" cy="342.9" r="1.85"/>
<circle class="g" cx="119.4" cy="423.1" r="1.85"/>
<circle class="p" cx="74.0" cy="455.0" r="1.85"/>
<circle class="p" cx="96.4" cy="477.3" r="1.85"/>
<circle class="p" cx="56.0" cy="453.2" r="1.85"/>
<circle class="g" cx="70.4" cy="431.1" r="1.85"/>
<circle class="r" cx="180.7" cy="451.2" r="1.85"/>
<circle class="g" cx="161.1" cy="434.6" r="1.85"/>
<circle class="p" cx="49.3" cy="475.1" r="1.85"/>
<circle class="g" cx="81.4" cy="402.8" r="1.85"/>
<circle class="g" cx="80.8" cy="431.7" r="1.85"/>
<circle class="r" cx="167.4" cy="476.5" r="1.85"/>
<circle class="p" cx="56.4" cy="454.1" r="1.85"/>
<circle class="p" cx="44.0" cy="497.6" r="1.85"/>
<circle class="p" cx="89.9" cy="485.9" r="1.85"/>
<circle class="p" cx="95.2" cy="467.9" r="1.85"/>
<circle class="p" cx="84.5" cy="484.1" r="1.85"/>
<circle class="g" cx="87.6" cy="436.8" r="1.85"/>
<circle class="p" cx="39.2" cy="493.3" r="1.85"/>
<circle class="p" cx="61.4" cy="442.5" r="1.85"/>
<circle class="r" cx="148.9" cy="514.1" r="1.85"/>
<circle class="g" cx="53.0" cy="410.3" r="1.85"/>
<circle class="r" cx="233.6" cy="494.4" r="1.85"/>
<circle class="p" cx="94.4" cy="468.2" r="1.85"/>
<circle class="g" cx="74.9" cy="435.7" r="1.85"/>
<circle class="g" cx="79.3" cy="374.7" r="1.85"/>
<circle class="p" cx="50.8" cy="476.6" r="1.85"/>
<circle class="g" cx="79.3" cy="401.2" r="1.85"/>
<circle class="g" cx="128.5" cy="414.1" r="1.85"/>
<circle class="o" cx="85.9" cy="277.2" r="1.85"/>
<circle class="p" cx="127.3" cy="457.8" r="1.85"/>
<circle class="g" cx="80.2" cy="409.6" r="1.85"/>
<circle class="p" cx="120.2" cy="479.1" r="1.85"/>
<circle class="p" cx="126.0" cy="464.8" r="1.85"/>
<circle class="p" cx="79.0" cy="442.2" r="1.85"/>
<circle class="g" cx="91.1" cy="364.9" r="1.85"/>
<circle class="r" cx="142.5" cy="499.6" r="1.85"/>
<circle class="r" cx="146.3" cy="494.9" r="1.85"/>
<circle class="g" cx="123.7" cy="427.9" r="1.85"/>
<circle class="p" cx="37.4" cy="445.1" r="1.85"/>
<circle class="g" cx="85.0" cy="403.8" r="1.85"/>
<circle class="r" cx="248.1" cy="474.3" r="1.85"/>
<circle class="r" cx="141.1" cy="484.3" r="1.85"/>
<circle class="r" cx="200.0" cy="453.3" r="1.85"/>
<circle class="p" cx="116.6" cy="450.8" r="1.85"/>
<circle class="r" cx="203.5" cy="467.8" r="1.85"/>
<circle class="g" cx="78.0" cy="426.6" r="1.85"/>
<circle class="b" cx="556.0" cy="424.3" r="1.85"/>
<circle class="p" cx="61.8" cy="462.9" r="1.85"/>
<circle class="p" cx="120.0" cy="496.0" r="1.85"/>
<circle class="p" cx="76.9" cy="489.4" r="1.85"/>
<circle class="r" cx="319.2" cy="501.6" r="1.85"/>
<circle class="r" cx="262.3" cy="484.1" r="1.85"/>
<circle class="g" cx="71.8" cy="355.1" r="1.85"/>
<circle class="p" cx="113.3" cy="488.6" r="1.85"/>
<circle class="r" cx="242.1" cy="450.3" r="1.85"/>
<circle class="p" cx="70.6" cy="457.9" r="1.85"/>
<circle class="g" cx="51.1" cy="396.6" r="1.85"/>
<circle class="p" cx="100.4" cy="446.7" r="1.85"/>
<circle class="g" cx="54.2" cy="412.0" r="1.85"/>
<circle class="p" cx="37.5" cy="493.4" r="1.85"/>
<circle class="p" cx="57.3" cy="491.0" r="1.85"/>
<circle class="g" cx="158.1" cy="437.8" r="1.85"/>
<circle class="g" cx="71.6" cy="393.8" r="1.85"/>
<circle class="g" cx="69.6" cy="398.6" r="1.85"/>
<circle class="p" cx="99.5" cy="472.4" r="1.85"/>
<circle class="g" cx="84.2" cy="428.7" r="1.85"/>
<circle class="g" cx="96.5" cy="435.0" r="1.85"/>
<circle class="g" cx="75.7" cy="388.7" r="1.85"/>
<circle class="g" cx="85.8" cy="422.4" r="1.85"/>
<circle class="r" cx="210.5" cy="450.8" r="1.85"/>
<circle class="r" cx="207.5" cy="465.6" r="1.85"/>
<circle class="o" cx="53.1" cy="291.0" r="1.85"/>
<circle class="g" cx="120.5" cy="426.7" r="1.85"/>
<circle class="p" cx="84.5" cy="481.1" r="1.85"/>
<circle class="p" cx="79.0" cy="469.6" r="1.85"/>
<circle class="p" cx="52.7" cy="441.2" r="1.85"/>
<circle class="g" cx="181.7" cy="408.0" r="1.85"/>
<circle class="p" cx="110.2" cy="484.6" r="1.85"/>
<circle class="r" cx="164.9" cy="437.0" r="1.85"/>
<circle class="p" cx="75.3" cy="447.8" r="1.85"/>
<circle class="b" cx="456.3" cy="450.1" r="1.85"/>
<circle class="r" cx="154.6" cy="461.0" r="1.85"/>
<circle class="p" cx="75.9" cy="503.4" r="1.85"/>
<circle class="g" cx="60.1" cy="437.1" r="1.85"/>
<circle class="p" cx="40.9" cy="445.9" r="1.85"/>
<circle class="p" cx="131.0" cy="482.5" r="1.85"/>
<circle class="g" cx="148.3" cy="414.7" r="1.85"/>
<circle class="p" cx="76.1" cy="496.6" r="1.85"/>
<circle class="p" cx="45.3" cy="440.2" r="1.85"/>
<circle class="p" cx="80.1" cy="477.2" r="1.85"/>
<circle class="g" cx="49.6" cy="427.8" r="1.85"/>
<circle class="p" cx="101.4" cy="479.8" r="1.85"/>
<circle class="r" cx="141.7" cy="492.7" r="1.85"/>
<circle class="p" cx="127.8" cy="495.5" r="1.85"/>
<circle class="p" cx="74.7" cy="444.1" r="1.85"/>
<circle class="p" cx="100.9" cy="487.2" r="1.85"/>
<circle class="p" cx="95.0" cy="472.7" r="1.85"/>
<circle class="r" cx="179.9" cy="507.4" r="1.85"/>
<circle class="p" cx="124.9" cy="450.9" r="1.85"/>
<circle class="r" cx="159.5" cy="501.9" r="1.85"/>
<circle class="p" cx="56.0" cy="489.0" r="1.85"/>
<circle class="p" cx="37.4" cy="499.1" r="1.85"/>
<circle class="g" cx="68.9" cy="389.9" r="1.85"/>
<circle class="r" cx="181.5" cy="523.5" r="1.85"/>
<circle class="p" cx="111.6" cy="486.9" r="1.85"/>
<circle class="p" cx="54.8" cy="465.8" r="1.85"/>
<circle class="p" cx="67.8" cy="504.1" r="1.85"/>
<circle class="p" cx="44.9" cy="462.2" r="1.85"/>
<circle class="p" cx="52.1" cy="474.4" r="1.85"/>
<circle class="b" cx="336.4" cy="499.6" r="1.85"/>
<circle class="p" cx="44.0" cy="444.4" r="1.85"/>
<circle class="p" cx="117.2" cy="470.8" r="1.85"/>
<circle class="p" cx="113.4" cy="444.7" r="1.85"/>
<circle class="p" cx="76.8" cy="501.6" r="1.85"/>
<circle class="p" cx="106.4" cy="491.4" r="1.85"/>
<circle class="r" cx="146.8" cy="471.5" r="1.85"/>
<circle class="p" cx="84.4" cy="479.7" r="1.85"/>
<circle class="p" cx="40.3" cy="478.8" r="1.85"/>
<circle class="p" cx="85.0" cy="470.5" r="1.85"/>
<circle class="g" cx="73.0" cy="385.8" r="1.85"/>
<circle class="g" cx="92.1" cy="429.5" r="1.85"/>
<circle class="g" cx="46.4" cy="367.7" r="1.85"/>
<circle class="o" cx="107.1" cy="306.8" r="1.85"/>
<circle class="p" cx="90.9" cy="443.0" r="1.85"/>
<circle class="p" cx="94.7" cy="491.9" r="1.85"/>
<circle class="b" cx="447.6" cy="474.3" r="1.85"/>
<circle class="p" cx="59.2" cy="467.5" r="1.85"/>
<circle class="r" cx="242.3" cy="493.1" r="1.85"/>
<circle class="p" cx="125.4" cy="451.8" r="1.85"/>
<circle class="p" cx="65.4" cy="488.6" r="1.85"/>
<circle class="p" cx="80.3" cy="440.9" r="1.85"/>
<circle class="g" cx="86.7" cy="426.9" r="1.85"/>
<circle class="p" cx="73.1" cy="486.7" r="1.85"/>
<circle class="p" cx="108.4" cy="463.3" r="1.85"/>
<circle class="g" cx="39.7" cy="393.2" r="1.85"/>
<circle class="p" cx="52.7" cy="475.7" r="1.85"/>
<circle class="p" cx="55.0" cy="480.7" r="1.85"/>
<circle class="p" cx="62.1" cy="459.5" r="1.85"/>
<circle class="p" cx="113.9" cy="465.1" r="1.85"/>
<circle class="o" cx="120.7" cy="319.6" r="1.85"/>
<circle class="r" cx="181.0" cy="472.2" r="1.85"/>
<circle class="p" cx="124.5" cy="484.2" r="1.85"/>
<circle class="p" cx="85.8" cy="479.1" r="1.85"/>
<circle class="r" cx="165.4" cy="488.9" r="1.85"/>
<circle class="p" cx="91.8" cy="477.4" r="1.85"/>
<circle class="g" cx="58.6" cy="429.4" r="1.85"/>
<circle class="r" cx="141.4" cy="476.2" r="1.85"/>
<circle class="p" cx="112.0" cy="468.7" r="1.85"/>
<circle class="r" cx="127.8" cy="511.5" r="1.85"/>
<circle class="g" cx="111.3" cy="427.3" r="1.85"/>
<circle class="p" cx="45.3" cy="501.2" r="1.85"/>
<circle class="p" cx="62.8" cy="461.4" r="1.85"/>
<circle class="p" cx="97.1" cy="450.0" r="1.85"/>
<circle class="r" cx="278.6" cy="508.6" r="1.85"/>
<circle class="p" cx="65.1" cy="459.0" r="1.85"/>
<circle class="p" cx="126.9" cy="495.4" r="1.85"/>
<circle class="p" cx="64.3" cy="476.8" r="1.85"/>
<circle class="g" cx="42.5" cy="404.8" r="1.85"/>
<circle class="p" cx="100.2" cy="514.2" r="1.85"/>
<circle class="p" cx="124.3" cy="474.6" r="1.85"/>
<circle class="p" cx="110.2" cy="463.0" r="1.85"/>
<circle class="p" cx="101.4" cy="489.0" r="1.85"/>
<circle class="p" cx="49.1" cy="458.4" r="1.85"/>
<circle class="g" cx="55.7" cy="398.3" r="1.85"/>
<circle class="g" cx="164.0" cy="407.1" r="1.85"/>
<circle class="p" cx="46.9" cy="443.6" r="1.85"/>
<circle class="p" cx="52.0" cy="456.3" r="1.85"/>
<circle class="p" cx="50.3" cy="477.9" r="1.85"/>
<circle class="p" cx="89.4" cy="447.6" r="1.85"/>
<circle class="p" cx="97.6" cy="475.2" r="1.85"/>
<circle class="p" cx="123.1" cy="459.6" r="1.85"/>
<circle class="b" cx="405.0" cy="410.2" r="1.85"/>
<circle class="g" cx="79.7" cy="426.3" r="1.85"/>
<circle class="p" cx="90.1" cy="483.2" r="1.85"/>
<circle class="r" cx="158.7" cy="476.6" r="1.85"/>
<circle class="r" cx="163.0" cy="485.5" r="1.85"/>
<circle class="p" cx="60.2" cy="451.8" r="1.85"/>
<circle class="p" cx="94.3" cy="464.6" r="1.85"/>
<circle class="p" cx="60.6" cy="462.2" r="1.85"/>
<circle class="b" cx="425.6" cy="470.1" r="1.85"/>
<circle class="p" cx="85.0" cy="441.4" r="1.85"/>
<circle class="r" cx="179.4" cy="491.5" r="1.85"/>
<circle class="o" cx="77.9" cy="302.5" r="1.85"/>
<circle class="p" cx="128.3" cy="454.5" r="1.85"/>
<circle class="p" cx="86.5" cy="453.6" r="1.85"/>
<circle class="p" cx="80.8" cy="449.0" r="1.85"/>
<circle class="p" cx="86.0" cy="472.3" r="1.85"/>
<circle class="p" cx="85.4" cy="466.8" r="1.85"/>
<circle class="g" cx="82.8" cy="428.1" r="1.85"/>
<circle class="g" cx="74.1" cy="425.2" r="1.85"/>
<circle class="p" cx="44.2" cy="477.0" r="1.85"/>
<circle class="g" cx="71.4" cy="423.6" r="1.85"/>
<circle class="p" cx="71.0" cy="446.3" r="1.85"/>
<circle class="p" cx="121.7" cy="461.2" r="1.85"/>
<circle class="p" cx="90.6" cy="478.9" r="1.85"/>
<circle class="p" cx="44.8" cy="448.9" r="1.85"/>
<circle class="g" cx="87.9" cy="390.2" r="1.85"/>
<circle class="r" cx="224.8" cy="526.2" r="1.85"/>
<circle class="r" cx="190.6" cy="471.9" r="1.85"/>
<circle class="p" cx="85.2" cy="488.7" r="1.85"/>
<circle class="p" cx="107.4" cy="485.3" r="1.85"/>
<circle class="p" cx="93.6" cy="503.8" r="1.85"/>
<circle class="r" cx="261.3" cy="520.4" r="1.85"/>
<circle class="p" cx="60.5" cy="477.3" r="1.85"/>
<circle class="p" cx="105.4" cy="443.0" r="1.85"/>
<circle class="p" cx="120.0" cy="440.3" r="1.85"/>
<circle class="p" cx="119.0" cy="466.6" r="1.85"/>
<circle class="p" cx="77.1" cy="450.3" r="1.85"/>
<circle class="p" cx="112.2" cy="481.0" r="1.85"/>
<circle class="g" cx="117.2" cy="420.2" r="1.85"/>
<circle class="p" cx="81.1" cy="461.8" r="1.85"/>
<circle class="p" cx="127.4" cy="487.9" r="1.85"/>
<circle class="g" cx="85.7" cy="421.0" r="1.85"/>
<circle class="o" cx="108.4" cy="86.9" r="1.85"/>
<circle class="o" cx="142.7" cy="250.9" r="1.85"/>
<circle class="r" cx="151.4" cy="500.1" r="1.85"/>
<circle class="p" cx="111.0" cy="522.4" r="1.85"/>
<circle class="p" cx="74.8" cy="502.2" r="1.85"/>
<circle class="p" cx="72.2" cy="508.5" r="1.85"/>
<circle class="p" cx="109.0" cy="500.0" r="1.85"/>
<circle class="p" cx="56.0" cy="454.5" r="1.85"/>
<circle class="p" cx="102.6" cy="469.2" r="1.85"/>
<circle class="b" cx="451.1" cy="492.1" r="1.85"/>
<circle class="o" cx="73.3" cy="320.6" r="1.85"/>
<circle class="p" cx="68.2" cy="502.6" r="1.85"/>
<circle class="p" cx="95.0" cy="451.5" r="1.85"/>
<circle class="r" cx="139.8" cy="503.8" r="1.85"/>
<circle class="r" cx="227.8" cy="500.6" r="1.85"/>
<circle class="p" cx="111.6" cy="446.1" r="1.85"/>
<circle class="p" cx="120.5" cy="506.6" r="1.85"/>
<circle class="p" cx="119.0" cy="458.5" r="1.85"/>
<circle class="p" cx="87.7" cy="497.2" r="1.85"/>
<circle class="p" cx="50.6" cy="455.4" r="1.85"/>
<circle class="p" cx="89.4" cy="462.2" r="1.85"/>
<circle class="g" cx="74.7" cy="398.7" r="1.85"/>
<circle class="p" cx="77.8" cy="480.7" r="1.85"/>
<circle class="r" cx="162.8" cy="476.4" r="1.85"/>
<circle class="p" cx="54.0" cy="466.9" r="1.85"/>
<circle class="p" cx="45.0" cy="494.8" r="1.85"/>
<circle class="p" cx="68.4" cy="476.0" r="1.85"/>
<circle class="r" cx="225.3" cy="486.9" r="1.85"/>
<circle class="r" cx="158.4" cy="442.0" r="1.85"/>
<circle class="p" cx="109.6" cy="464.9" r="1.85"/>
<circle class="g" cx="118.6" cy="434.8" r="1.85"/>
<circle class="p" cx="92.0" cy="467.5" r="1.85"/>
<circle class="r" cx="197.3" cy="450.3" r="1.85"/>
<circle class="p" cx="66.7" cy="470.3" r="1.85"/>
<circle class="p" cx="115.0" cy="479.3" r="1.85"/>
<circle class="p" cx="50.0" cy="499.2" r="1.85"/>
<circle class="p" cx="107.5" cy="468.0" r="1.85"/>
<circle class="p" cx="61.1" cy="467.2" r="1.85"/>
<circle class="p" cx="111.3" cy="505.3" r="1.85"/>
<circle class="p" cx="130.4" cy="488.1" r="1.85"/>
<circle class="p" cx="78.6" cy="441.7" r="1.85"/>
<circle class="r" cx="165.0" cy="495.5" r="1.85"/>
<circle class="r" cx="172.2" cy="489.5" r="1.85"/>
<circle class="p" cx="77.2" cy="449.2" r="1.85"/>
<circle class="r" cx="212.5" cy="481.6" r="1.85"/>
<circle class="p" cx="50.7" cy="508.2" r="1.85"/>
<circle class="p" cx="120.1" cy="510.0" r="1.85"/>
<circle class="p" cx="74.9" cy="460.8" r="1.85"/>
<circle class="r" cx="208.5" cy="483.9" r="1.85"/>
<circle class="r" cx="308.9" cy="471.6" r="1.85"/>
<circle class="p" cx="124.7" cy="472.1" r="1.85"/>
<circle class="p" cx="84.4" cy="505.1" r="1.85"/>
<circle class="p" cx="57.4" cy="498.8" r="1.85"/>
<circle class="p" cx="117.0" cy="492.8" r="1.85"/>
<circle class="g" cx="107.7" cy="425.9" r="1.85"/>
<circle class="p" cx="84.2" cy="444.3" r="1.85"/>
<circle class="p" cx="93.8" cy="452.8" r="1.85"/>
<circle class="g" cx="83.8" cy="437.2" r="1.85"/>
<circle class="g" cx="92.8" cy="405.5" r="1.85"/>
<circle class="p" cx="112.6" cy="445.2" r="1.85"/>
<circle class="g" cx="188.6" cy="407.1" r="1.85"/>
<circle class="g" cx="82.4" cy="420.5" r="1.85"/>
<circle class="p" cx="111.1" cy="453.2" r="1.85"/>
<circle class="p" cx="48.8" cy="477.1" r="1.85"/>
<circle class="r" cx="297.4" cy="501.9" r="1.85"/>
<circle class="p" cx="58.8" cy="472.2" r="1.85"/>
<circle class="p" cx="46.5" cy="453.1" r="1.85"/>
<circle class="p" cx="105.0" cy="460.3" r="1.85"/>
<circle class="g" cx="72.2" cy="333.7" r="1.85"/>
<circle class="g" cx="104.2" cy="422.4" r="1.85"/>
<circle class="p" cx="40.5" cy="485.0" r="1.85"/>
<circle class="p" cx="118.7" cy="485.2" r="1.85"/>
<circle class="g" cx="107.1" cy="420.8" r="1.85"/>
<circle class="p" cx="116.6" cy="492.5" r="1.85"/>
<circle class="g" cx="54.4" cy="411.5" r="1.85"/>
<circle class="r" cx="138.1" cy="486.8" r="1.85"/>
<circle class="p" cx="42.1" cy="444.7" r="1.85"/>
<circle class="p" cx="79.3" cy="460.3" r="1.85"/>
<circle class="g" cx="72.0" cy="416.8" r="1.85"/>
<circle class="p" cx="100.7" cy="460.2" r="1.85"/>
<circle class="p" cx="92.0" cy="493.3" r="1.85"/>
<circle class="g" cx="100.1" cy="419.3" r="1.85"/>
<circle class="p" cx="70.5" cy="462.5" r="1.85"/>
<circle class="p" cx="126.9" cy="486.8" r="1.85"/>
<circle class="b" cx="342.4" cy="491.9" r="1.85"/>
<circle class="p" cx="96.2" cy="444.2" r="1.85"/>
<circle class="g" cx="78.0" cy="434.5" r="1.85"/>
<circle class="p" cx="68.0" cy="481.4" r="1.85"/>
<circle class="r" cx="140.8" cy="475.3" r="1.85"/>
<circle class="r" cx="223.8" cy="469.1" r="1.85"/>
<circle class="g" cx="111.4" cy="395.0" r="1.85"/>
<circle class="g" cx="111.2" cy="404.0" r="1.85"/>
<circle class="p" cx="76.5" cy="480.8" r="1.85"/>
<circle class="p" cx="91.5" cy="478.2" r="1.85"/>
<circle class="b" cx="563.2" cy="403.7" r="1.85"/>
<circle class="b" cx="326.9" cy="440.1" r="1.85"/>
<circle class="g" cx="44.4" cy="385.8" r="1.85"/>
<circle class="p" cx="88.2" cy="496.4" r="1.85"/>
<circle class="g" cx="62.7" cy="397.0" r="1.85"/>
<circle class="p" cx="90.6" cy="482.5" r="1.85"/>
<circle class="p" cx="58.7" cy="462.5" r="1.85"/>
<circle class="p" cx="41.5" cy="453.3" r="1.85"/>
<circle class="p" cx="94.3" cy="440.0" r="1.85"/>
<circle class="p" cx="56.0" cy="442.0" r="1.85"/>
<circle class="p" cx="82.2" cy="442.3" r="1.85"/>
<circle class="b" cx="500.7" cy="496.6" r="1.85"/>
<circle class="p" cx="68.8" cy="444.3" r="1.85"/>
<circle class="p" cx="68.9" cy="496.9" r="1.85"/>
<circle class="r" cx="138.9" cy="493.3" r="1.85"/>
<circle class="p" cx="71.8" cy="483.3" r="1.85"/>
<circle class="p" cx="110.2" cy="472.4" r="1.85"/>
<circle class="r" cx="168.9" cy="472.5" r="1.85"/>
<circle class="p" cx="39.4" cy="459.9" r="1.85"/>
<circle class="p" cx="41.3" cy="453.3" r="1.85"/>
<circle class="g" cx="57.6" cy="424.9" r="1.85"/>
<circle class="g" cx="114.2" cy="383.5" r="1.85"/>
<circle class="p" cx="58.2" cy="456.6" r="1.85"/>
<circle class="p" cx="71.2" cy="457.1" r="1.85"/>
<circle class="g" cx="105.3" cy="386.0" r="1.85"/>
<circle class="g" cx="97.4" cy="434.0" r="1.85"/>
<circle class="p" cx="88.9" cy="464.1" r="1.85"/>
<circle class="p" cx="93.6" cy="442.3" r="1.85"/>
<circle class="p" cx="90.1" cy="455.0" r="1.85"/>
<circle class="o" cx="71.6" cy="91.6" r="1.85"/>
<circle class="r" cx="173.1" cy="454.6" r="1.85"/>
<circle class="g" cx="41.2" cy="421.6" r="1.85"/>
<circle class="p" cx="42.1" cy="470.3" r="1.85"/>
<circle class="p" cx="78.3" cy="493.0" r="1.85"/>
<circle class="g" cx="57.1" cy="431.9" r="1.85"/>
<circle class="p" cx="44.8" cy="487.5" r="1.85"/>
<circle class="r" cx="135.9" cy="507.5" r="1.85"/>
<circle class="p" cx="92.9" cy="452.3" r="1.85"/>
<circle class="g" cx="143.9" cy="422.0" r="1.85"/>
<circle class="g" cx="68.4" cy="371.1" r="1.85"/>
<circle class="b" cx="533.9" cy="416.9" r="1.85"/>
<circle class="b" cx="355.2" cy="338.3" r="1.85"/>
<circle class="p" cx="67.4" cy="480.3" r="1.85"/>
<circle class="p" cx="119.6" cy="459.5" r="1.85"/>
<circle class="p" cx="108.5" cy="485.8" r="1.85"/>
<circle class="p" cx="128.4" cy="484.0" r="1.85"/>
<circle class="p" cx="138.9" cy="449.5" r="1.85"/>
<circle class="r" cx="151.8" cy="449.9" r="1.85"/>
<circle class="p" cx="42.6" cy="488.5" r="1.85"/>
<circle class="p" cx="51.9" cy="468.4" r="1.85"/>
<circle class="g" cx="80.4" cy="417.6" r="1.85"/>
<circle class="r" cx="148.9" cy="459.7" r="1.85"/>
<circle class="p" cx="94.5" cy="465.6" r="1.85"/>
<circle class="p" cx="51.3" cy="456.8" r="1.85"/>
<circle class="p" cx="37.9" cy="453.9" r="1.85"/>
<circle class="p" cx="97.6" cy="470.2" r="1.85"/>
<circle class="p" cx="96.3" cy="483.7" r="1.85"/>
<circle class="p" cx="39.4" cy="448.3" r="1.85"/>
<circle class="g" cx="41.0" cy="330.5" r="1.85"/>
<circle class="p" cx="49.4" cy="457.0" r="1.85"/>
<circle class="p" cx="87.0" cy="457.8" r="1.85"/>
<circle class="p" cx="121.1" cy="442.1" r="1.85"/>
<circle class="g" cx="76.6" cy="427.7" r="1.85"/>
<circle class="g" cx="60.6" cy="416.8" r="1.85"/>
<circle class="p" cx="96.4" cy="492.5" r="1.85"/>
<circle class="p" cx="77.1" cy="478.3" r="1.85"/>
<circle class="r" cx="141.0" cy="501.7" r="1.85"/>
<circle class="p" cx="140.3" cy="440.9" r="1.85"/>
<circle class="b" cx="328.9" cy="511.4" r="1.85"/>
<circle class="g" cx="121.8" cy="420.4" r="1.85"/>
<circle class="g" cx="74.6" cy="401.0" r="1.85"/>
<circle class="p" cx="69.9" cy="494.6" r="1.85"/>
<circle class="g" cx="68.4" cy="438.2" r="1.85"/>
<circle class="p" cx="76.3" cy="469.3" r="1.85"/>
<circle class="p" cx="64.7" cy="442.4" r="1.85"/>
<circle class="r" cx="171.0" cy="509.3" r="1.85"/>
<circle class="p" cx="37.8" cy="459.4" r="1.85"/>
<circle class="p" cx="82.6" cy="507.8" r="1.85"/>
<circle class="p" cx="53.2" cy="477.4" r="1.85"/>
<circle class="p" cx="61.1" cy="479.5" r="1.85"/>
<circle class="r" cx="131.9" cy="495.8" r="1.85"/>
<circle class="p" cx="129.5" cy="466.8" r="1.85"/>
<circle class="p" cx="40.6" cy="490.2" r="1.85"/>
<circle class="g" cx="171.0" cy="422.3" r="1.85"/>
<circle class="p" cx="127.7" cy="456.2" r="1.85"/>
<circle class="p" cx="38.9" cy="440.7" r="1.85"/>
<circle class="g" cx="67.7" cy="404.3" r="1.85"/>
<circle class="r" cx="180.4" cy="511.5" r="1.85"/>
<circle class="r" cx="214.5" cy="507.9" r="1.85"/>
<circle class="p" cx="66.0" cy="460.3" r="1.85"/>
<circle class="p" cx="78.2" cy="473.8" r="1.85"/>
<circle class="p" cx="98.8" cy="460.3" r="1.85"/>
<circle class="b" cx="331.4" cy="453.8" r="1.85"/>
<circle class="r" cx="229.6" cy="442.6" r="1.85"/>
<circle class="p" cx="69.8" cy="465.9" r="1.85"/>
<circle class="p" cx="80.7" cy="476.3" r="1.85"/>
<circle class="p" cx="72.9" cy="500.4" r="1.85"/>
<circle class="p" cx="121.6" cy="465.2" r="1.85"/>
<circle class="r" cx="139.3" cy="490.3" r="1.85"/>
<circle class="p" cx="144.3" cy="443.7" r="1.85"/>
<circle class="g" cx="79.6" cy="422.3" r="1.85"/>
<circle class="p" cx="84.0" cy="447.4" r="1.85"/>
<circle class="g" cx="43.5" cy="384.1" r="1.85"/>
<circle class="p" cx="88.0" cy="484.0" r="1.85"/>
<circle class="r" cx="178.9" cy="493.9" r="1.85"/>
<circle class="g" cx="91.9" cy="415.5" r="1.85"/>
<circle class="p" cx="126.8" cy="479.8" r="1.85"/>
<circle class="p" cx="54.2" cy="445.5" r="1.85"/>
<circle class="g" cx="237.3" cy="403.2" r="1.85"/>
<circle class="g" cx="58.6" cy="389.6" r="1.85"/>
<circle class="p" cx="54.7" cy="477.0" r="1.85"/>
<circle class="p" cx="122.7" cy="476.4" r="1.85"/>
<circle class="p" cx="108.2" cy="490.0" r="1.85"/>
<circle class="p" cx="66.1" cy="471.1" r="1.85"/>
<circle class="p" cx="126.0" cy="446.5" r="1.85"/>
<circle class="g" cx="96.8" cy="434.6" r="1.85"/>
<circle class="p" cx="50.2" cy="450.7" r="1.85"/>
<circle class="p" cx="58.0" cy="469.1" r="1.85"/>
<circle class="r" cx="232.8" cy="521.7" r="1.85"/>
<circle class="p" cx="130.4" cy="479.1" r="1.85"/>
<circle class="g" cx="134.8" cy="355.0" r="1.85"/>
<circle class="g" cx="68.8" cy="437.2" r="1.85"/>
<circle class="g" cx="68.1" cy="388.3" r="1.85"/>
<circle class="p" cx="60.2" cy="448.4" r="1.85"/>
<circle class="p" cx="87.1" cy="447.6" r="1.85"/>
<circle class="g" cx="110.4" cy="427.7" r="1.85"/>
<circle class="b" cx="386.5" cy="466.6" r="1.85"/>
<circle class="g" cx="80.5" cy="398.7" r="1.85"/>
<circle class="p" cx="45.5" cy="491.5" r="1.85"/>
<circle class="r" cx="153.9" cy="479.6" r="1.85"/>
<circle class="p" cx="97.4" cy="473.6" r="1.85"/>
<circle class="o" cx="86.9" cy="170.8" r="1.85"/>
<circle class="p" cx="114.8" cy="466.5" r="1.85"/>
<circle class="g" cx="94.1" cy="402.4" r="1.85"/>
<circle class="p" cx="84.2" cy="471.0" r="1.85"/>
<circle class="p" cx="66.7" cy="474.6" r="1.85"/>
<circle class="g" cx="114.0" cy="426.5" r="1.85"/>
<circle class="p" cx="56.9" cy="439.9" r="1.85"/>
<circle class="p" cx="88.1" cy="453.5" r="1.85"/>
<circle class="g" cx="70.7" cy="410.4" r="1.85"/>
<circle class="p" cx="72.0" cy="443.4" r="1.85"/>
<circle class="o" cx="67.1" cy="32.3" r="1.85"/>
<circle class="p" cx="49.1" cy="451.3" r="1.85"/>
<circle class="p" cx="126.5" cy="456.0" r="1.85"/>
<circle class="r" cx="284.6" cy="509.9" r="1.85"/>
<circle class="p" cx="112.8" cy="458.5" r="1.85"/>
<circle class="p" cx="117.7" cy="470.2" r="1.85"/>
<circle class="g" cx="55.6" cy="389.4" r="1.85"/>
<circle class="b" cx="400.8" cy="494.9" r="1.85"/>
<circle class="p" cx="55.9" cy="445.2" r="1.85"/>
<circle class="p" cx="75.6" cy="452.4" r="1.85"/>
<circle class="g" cx="65.4" cy="434.6" r="1.85"/>
<circle class="o" cx="90.1" cy="321.6" r="1.85"/>
<circle class="p" cx="111.8" cy="486.4" r="1.85"/>
<circle class="r" cx="150.3" cy="500.3" r="1.85"/>
<circle class="g" cx="59.2" cy="425.2" r="1.85"/>
<circle class="g" cx="86.7" cy="400.1" r="1.85"/>
<circle class="p" cx="82.3" cy="493.1" r="1.85"/>
<circle class="p" cx="72.2" cy="479.9" r="1.85"/>
<circle class="p" cx="125.3" cy="461.7" r="1.85"/>
<circle class="p" cx="63.1" cy="470.7" r="1.85"/>
<circle class="r" cx="152.7" cy="469.8" r="1.85"/>
<circle class="g" cx="78.1" cy="406.7" r="1.85"/>
<circle class="p" cx="43.4" cy="461.9" r="1.85"/>
<circle class="p" cx="85.9" cy="477.9" r="1.85"/>
<circle class="r" cx="175.4" cy="462.8" r="1.85"/>
<circle class="g" cx="61.2" cy="407.8" r="1.85"/>
<circle class="g" cx="37.7" cy="393.4" r="1.85"/>
<circle class="g" cx="56.0" cy="354.2" r="1.85"/>
<circle class="g" cx="107.6" cy="417.6" r="1.85"/>
<circle class="g" cx="44.3" cy="398.8" r="1.85"/>
<circle class="r" cx="134.0" cy="490.1" r="1.85"/>
<circle class="g" cx="46.3" cy="419.3" r="1.85"/>
<circle class="g" cx="84.8" cy="422.9" r="1.85"/>
<circle class="p" cx="94.1" cy="450.6" r="1.85"/>
<circle class="p" cx="37.6" cy="486.5" r="1.85"/>
<circle class="g" cx="77.3" cy="398.7" r="1.85"/>
<circle class="o" cx="147.4" cy="261.4" r="1.85"/>
<circle class="p" cx="61.1" cy="485.2" r="1.85"/>
<circle class="p" cx="60.1" cy="452.6" r="1.85"/>
<circle class="g" cx="84.4" cy="433.1" r="1.85"/>
<circle class="p" cx="48.8" cy="452.5" r="1.85"/>
<circle class="p" cx="97.8" cy="448.1" r="1.85"/>
<circle class="p" cx="82.7" cy="495.8" r="1.85"/>
<circle class="g" cx="94.7" cy="413.3" r="1.85"/>
<circle class="g" cx="53.7" cy="403.9" r="1.85"/>
<circle class="p" cx="113.2" cy="483.5" r="1.85"/>
<circle class="p" cx="43.0" cy="462.1" r="1.85"/>
<circle class="p" cx="87.5" cy="453.9" r="1.85"/>
<circle class="p" cx="59.4" cy="492.4" r="1.85"/>
<circle class="p" cx="62.9" cy="469.8" r="1.85"/>
<circle class="p" cx="70.3" cy="474.3" r="1.85"/>
<circle class="b" cx="406.8" cy="488.6" r="1.85"/>
<circle class="p" cx="66.0" cy="447.9" r="1.85"/>
<circle class="g" cx="83.1" cy="434.8" r="1.85"/>
<circle class="p" cx="110.5" cy="454.8" r="1.85"/>
<circle class="p" cx="81.1" cy="440.5" r="1.85"/>
<circle class="p" cx="97.8" cy="441.2" r="1.85"/>
<circle class="p" cx="49.6" cy="449.3" r="1.85"/>
<circle class="p" cx="60.0" cy="495.7" r="1.85"/>
<circle class="p" cx="96.4" cy="471.0" r="1.85"/>
<circle class="g" cx="79.7" cy="434.4" r="1.85"/>
<circle class="g" cx="68.0" cy="433.6" r="1.85"/>
<circle class="p" cx="62.3" cy="482.0" r="1.85"/>
<circle class="p" cx="44.2" cy="494.1" r="1.85"/>
<circle class="p" cx="118.8" cy="479.7" r="1.85"/>
<circle class="p" cx="55.0" cy="459.4" r="1.85"/>
<circle class="g" cx="38.0" cy="414.6" r="1.85"/>
<circle class="g" cx="86.0" cy="412.4" r="1.85"/>
<circle class="p" cx="98.7" cy="487.0" r="1.85"/>
<circle class="p" cx="101.7" cy="464.2" r="1.85"/>
<circle class="r" cx="178.4" cy="487.3" r="1.85"/>
<circle class="g" cx="49.0" cy="434.7" r="1.85"/>
<circle class="g" cx="91.6" cy="391.0" r="1.85"/>
<circle class="p" cx="101.4" cy="445.1" r="1.85"/>
<circle class="p" cx="50.5" cy="468.0" r="1.85"/>
<circle class="b" cx="329.4" cy="467.8" r="1.85"/>
<circle class="r" cx="167.4" cy="478.6" r="1.85"/>
<circle class="p" cx="126.5" cy="486.6" r="1.85"/>
<circle class="p" cx="79.5" cy="450.9" r="1.85"/>
<circle class="g" cx="71.2" cy="424.2" r="1.85"/>
<circle class="p" cx="106.5" cy="474.0" r="1.85"/>
<circle class="p" cx="83.5" cy="489.7" r="1.85"/>
<circle class="o" cx="64.6" cy="279.2" r="1.85"/>
<circle class="p" cx="104.6" cy="444.7" r="1.85"/>
<circle class="g" cx="94.3" cy="393.5" r="1.85"/>
<circle class="r" cx="169.5" cy="460.7" r="1.85"/>
<circle class="r" cx="251.3" cy="487.4" r="1.85"/>
<circle class="p" cx="73.6" cy="483.2" r="1.85"/>
<circle class="g" cx="60.2" cy="425.9" r="1.85"/>
<circle class="r" cx="199.0" cy="494.6" r="1.85"/>
<circle class="b" cx="709.9" cy="428.8" r="1.85"/>
<circle class="g" cx="48.9" cy="343.8" r="1.85"/>
<circle class="g" cx="80.3" cy="428.2" r="1.85"/>
<circle class="p" cx="121.6" cy="495.4" r="1.85"/>
<circle class="p" cx="129.4" cy="461.4" r="1.85"/>
<circle class="p" cx="38.8" cy="459.1" r="1.85"/>
<circle class="g" cx="66.8" cy="394.6" r="1.85"/>
<circle class="p" cx="82.1" cy="456.4" r="1.85"/>
<circle class="g" cx="59.8" cy="434.0" r="1.85"/>
<circle class="p" cx="59.2" cy="469.7" r="1.85"/>
<circle class="g" cx="88.9" cy="388.8" r="1.85"/>
<circle class="p" cx="84.9" cy="483.7" r="1.85"/>
<circle class="p" cx="92.3" cy="500.8" r="1.85"/>
<circle class="p" cx="88.4" cy="445.2" r="1.85"/>
<circle class="p" cx="56.7" cy="445.1" r="1.85"/>
<circle class="p" cx="96.5" cy="447.7" r="1.85"/>
<circle class="p" cx="63.1" cy="475.6" r="1.85"/>
<circle class="p" cx="94.4" cy="477.0" r="1.85"/>
<circle class="r" cx="135.5" cy="496.5" r="1.85"/>
<circle class="p" cx="60.6" cy="462.9" r="1.85"/>
<circle class="g" cx="117.7" cy="427.0" r="1.85"/>
<circle class="p" cx="130.1" cy="466.5" r="1.85"/>
<circle class="g" cx="68.0" cy="421.9" r="1.85"/>
<circle class="g" cx="47.1" cy="404.8" r="1.85"/>
<circle class="g" cx="47.8" cy="381.2" r="1.85"/>
<circle class="b" cx="478.6" cy="438.0" r="1.85"/>
<circle class="p" cx="69.9" cy="492.9" r="1.85"/>
<circle class="o" cx="49.3" cy="292.0" r="1.85"/>
<circle class="p" cx="49.5" cy="483.4" r="1.85"/>
<circle class="p" cx="105.4" cy="466.6" r="1.85"/>
<circle class="p" cx="123.2" cy="465.2" r="1.85"/>
<circle class="p" cx="55.4" cy="472.9" r="1.85"/>
<circle class="g" cx="96.2" cy="391.3" r="1.85"/>
<circle class="p" cx="141.7" cy="448.4" r="1.85"/>
<circle class="b" cx="494.6" cy="438.0" r="1.85"/>
<circle class="p" cx="85.6" cy="452.5" r="1.85"/>
<circle class="r" cx="222.0" cy="494.6" r="1.85"/>
<circle class="o" cx="41.1" cy="261.4" r="1.85"/>
<circle class="p" cx="81.5" cy="455.0" r="1.85"/>
<circle class="g" cx="73.5" cy="410.5" r="1.85"/>
<circle class="p" cx="77.6" cy="473.2" r="1.85"/>
<circle class="g" cx="91.3" cy="426.4" r="1.85"/>
<circle class="p" cx="122.5" cy="444.7" r="1.85"/>
<circle class="p" cx="90.7" cy="454.5" r="1.85"/>
<circle class="g" cx="93.6" cy="382.0" r="1.85"/>
<circle class="p" cx="55.3" cy="486.2" r="1.85"/>
<circle class="p" cx="85.5" cy="485.8" r="1.85"/>
<circle class="b" cx="736.0" cy="487.4" r="1.85"/>
<circle class="p" cx="111.5" cy="483.9" r="1.85"/>
<circle class="r" cx="171.0" cy="465.4" r="1.85"/>
<circle class="p" cx="73.7" cy="476.4" r="1.85"/>
<circle class="p" cx="71.7" cy="441.6" r="1.85"/>
<circle class="p" cx="76.5" cy="463.6" r="1.85"/>
<circle class="g" cx="58.7" cy="434.8" r="1.85"/>
<circle class="r" cx="133.1" cy="506.1" r="1.85"/>
<circle class="g" cx="69.2" cy="413.1" r="1.85"/>
<circle class="g" cx="70.1" cy="420.7" r="1.85"/>
<circle class="g" cx="106.2" cy="391.3" r="1.85"/>
<circle class="p" cx="114.7" cy="472.0" r="1.85"/>
<circle class="p" cx="42.4" cy="448.9" r="1.85"/>
<circle class="p" cx="139.4" cy="455.4" r="1.85"/>
<circle class="p" cx="85.5" cy="475.3" r="1.85"/>
<circle class="p" cx="44.8" cy="487.7" r="1.85"/>
<circle class="p" cx="75.3" cy="462.5" r="1.85"/>
<circle class="p" cx="57.1" cy="465.5" r="1.85"/>
<circle class="g" cx="84.4" cy="406.5" r="1.85"/>
<circle class="b" cx="318.2" cy="449.1" r="1.85"/>
<circle class="p" cx="67.3" cy="497.0" r="1.85"/>
<circle class="p" cx="60.5" cy="482.1" r="1.85"/>
<circle class="p" cx="92.7" cy="476.6" r="1.85"/>
<circle class="p" cx="76.3" cy="448.9" r="1.85"/>
<circle class="p" cx="93.1" cy="494.0" r="1.85"/>
<circle class="g" cx="68.4" cy="423.3" r="1.85"/>
<circle class="p" cx="100.5" cy="516.3" r="1.85"/>
<circle class="p" cx="124.9" cy="441.7" r="1.85"/>
<circle class="p" cx="66.4" cy="487.0" r="1.85"/>
<circle class="p" cx="68.2" cy="492.1" r="1.85"/>
<circle class="g" cx="101.2" cy="360.5" r="1.85"/>
<circle class="p" cx="42.1" cy="460.0" r="1.85"/>
<circle class="p" cx="124.5" cy="490.1" r="1.85"/>
<circle class="g" cx="50.1" cy="404.4" r="1.85"/>
<circle class="p" cx="84.2" cy="478.7" r="1.85"/>
<circle class="p" cx="61.5" cy="447.7" r="1.85"/>
<circle class="r" cx="244.1" cy="467.6" r="1.85"/>
<circle class="p" cx="81.4" cy="495.5" r="1.85"/>
<circle class="r" cx="157.3" cy="485.4" r="1.85"/>
<circle class="p" cx="43.9" cy="453.0" r="1.85"/>
<circle class="g" cx="81.8" cy="411.0" r="1.85"/>
<circle class="p" cx="122.0" cy="470.1" r="1.85"/>
<circle class="r" cx="268.6" cy="501.6" r="1.85"/>
<circle class="p" cx="40.3" cy="479.0" r="1.85"/>
<circle class="b" cx="373.0" cy="491.4" r="1.85"/>
<circle class="p" cx="108.5" cy="471.9" r="1.85"/>
<circle class="p" cx="57.3" cy="456.9" r="1.85"/>
<circle class="p" cx="105.2" cy="467.1" r="1.85"/>
<circle class="g" cx="71.6" cy="407.2" r="1.85"/>
<circle class="p" cx="74.9" cy="487.6" r="1.85"/>
<circle class="r" cx="210.3" cy="500.6" r="1.85"/>
<circle class="p" cx="138.7" cy="461.6" r="1.85"/>
<circle class="b" cx="374.7" cy="507.9" r="1.85"/>
<circle class="p" cx="131.7" cy="473.4" r="1.85"/>
<circle class="g" cx="49.3" cy="417.7" r="1.85"/>
<circle class="p" cx="48.0" cy="446.6" r="1.85"/>
<circle class="g" cx="77.8" cy="374.0" r="1.85"/>
<circle class="p" cx="63.0" cy="459.9" r="1.85"/>
<circle class="p" cx="94.3" cy="459.7" r="1.85"/>
<circle class="p" cx="39.6" cy="458.8" r="1.85"/>
<circle class="p" cx="80.9" cy="457.7" r="1.85"/>
<circle class="r" cx="284.4" cy="463.1" r="1.85"/>
<circle class="p" cx="52.2" cy="478.9" r="1.85"/>
<circle class="o" cx="252.3" cy="169.5" r="1.85"/>
<circle class="p" cx="70.9" cy="465.6" r="1.85"/>
<circle class="r" cx="297.9" cy="448.6" r="1.85"/>
<circle class="g" cx="97.6" cy="411.0" r="1.85"/>
<circle class="p" cx="58.5" cy="453.4" r="1.85"/>
<circle class="p" cx="44.6" cy="484.2" r="1.85"/>
<circle class="p" cx="115.5" cy="443.8" r="1.85"/>
<circle class="g" cx="89.6" cy="403.2" r="1.85"/>
<circle class="p" cx="102.6" cy="469.7" r="1.85"/>
<circle class="p" cx="99.0" cy="460.6" r="1.85"/>
<circle class="r" cx="201.5" cy="487.6" r="1.85"/>
<circle class="p" cx="99.4" cy="479.3" r="1.85"/>
<circle class="b" cx="366.7" cy="493.9" r="1.85"/>
<circle class="r" cx="139.7" cy="484.8" r="1.85"/>
<circle class="g" cx="113.2" cy="385.4" r="1.85"/>
<circle class="r" cx="136.6" cy="495.7" r="1.85"/>
<circle class="p" cx="121.5" cy="471.7" r="1.85"/>
<circle class="p" cx="69.2" cy="487.0" r="1.85"/>
<circle class="p" cx="55.6" cy="465.5" r="1.85"/>
<circle class="p" cx="98.0" cy="490.4" r="1.85"/>
<circle class="b" cx="554.5" cy="479.9" r="1.85"/>
<circle class="p" cx="48.2" cy="472.7" r="1.85"/>
<circle class="p" cx="64.8" cy="468.1" r="1.85"/>
<circle class="g" cx="86.6" cy="397.9" r="1.85"/>
<circle class="p" cx="94.3" cy="440.7" r="1.85"/>
<circle class="r" cx="194.8" cy="487.9" r="1.85"/>
<circle class="r" cx="159.0" cy="509.0" r="1.85"/>
<circle class="p" cx="125.2" cy="475.1" r="1.85"/>
<circle class="p" cx="49.3" cy="459.1" r="1.85"/>
<circle class="g" cx="38.0" cy="415.7" r="1.85"/>
<circle class="b" cx="337.7" cy="466.3" r="1.85"/>
<circle class="r" cx="182.4" cy="472.5" r="1.85"/>
<circle class="r" cx="164.7" cy="481.4" r="1.85"/>
<circle class="g" cx="158.7" cy="394.5" r="1.85"/>
<circle class="r" cx="178.6" cy="466.0" r="1.85"/>
<circle class="p" cx="69.0" cy="469.5" r="1.85"/>
<circle class="p" cx="49.4" cy="473.6" r="1.85"/>
<circle class="p" cx="74.5" cy="487.8" r="1.85"/>
<circle class="r" cx="196.5" cy="440.6" r="1.85"/>
<circle class="g" cx="77.6" cy="429.4" r="1.85"/>
<circle class="p" cx="108.2" cy="474.6" r="1.85"/>
<circle class="p" cx="80.5" cy="451.8" r="1.85"/>
<circle class="p" cx="80.4" cy="487.2" r="1.85"/>
<circle class="p" cx="54.4" cy="479.0" r="1.85"/>
<circle class="r" cx="174.4" cy="489.8" r="1.85"/>
<circle class="p" cx="48.0" cy="475.8" r="1.85"/>
<circle class="p" cx="91.2" cy="485.5" r="1.85"/>
<circle class="p" cx="88.9" cy="469.9" r="1.85"/>
<circle class="p" cx="73.8" cy="505.0" r="1.85"/>
<circle class="o" cx="180.2" cy="285.2" r="1.85"/>
<circle class="p" cx="64.2" cy="483.3" r="1.85"/>
<circle class="p" cx="88.6" cy="509.4" r="1.85"/>
<circle class="r" cx="216.5" cy="458.6" r="1.85"/>
<circle class="p" cx="78.1" cy="476.6" r="1.85"/>
<circle class="p" cx="91.4" cy="452.0" r="1.85"/>
<circle class="p" cx="46.8" cy="459.5" r="1.85"/>
<circle class="p" cx="77.8" cy="487.7" r="1.85"/>
<circle class="p" cx="117.0" cy="456.8" r="1.85"/>
<circle class="o" cx="128.4" cy="324.3" r="1.85"/>
<circle class="p" cx="39.3" cy="471.8" r="1.85"/>
<circle class="g" cx="74.9" cy="417.2" r="1.85"/>
<circle class="p" cx="47.7" cy="457.5" r="1.85"/>
<circle class="r" cx="274.9" cy="450.3" r="1.85"/>
<circle class="o" cx="91.6" cy="264.9" r="1.85"/>
<circle class="g" cx="81.4" cy="369.1" r="1.85"/>
<circle class="p" cx="130.0" cy="446.0" r="1.85"/>
<circle class="p" cx="81.6" cy="472.1" r="1.85"/>
<circle class="g" cx="81.1" cy="427.3" r="1.85"/>
<circle class="g" cx="72.9" cy="409.7" r="1.85"/>
<circle class="p" cx="97.8" cy="500.5" r="1.85"/>
<circle class="p" cx="72.3" cy="468.1" r="1.85"/>
<circle class="p" cx="59.1" cy="501.4" r="1.85"/>
<circle class="g" cx="73.8" cy="427.8" r="1.85"/>
<circle class="p" cx="111.3" cy="482.3" r="1.85"/>
<circle class="o" cx="253.3" cy="242.4" r="1.85"/>
<circle class="p" cx="88.2" cy="441.1" r="1.85"/>
<circle class="p" cx="75.9" cy="442.5" r="1.85"/>
<circle class="p" cx="78.2" cy="452.4" r="1.85"/>
<circle class="p" cx="53.4" cy="454.1" r="1.85"/>
<circle class="g" cx="36.2" cy="383.9" r="1.85"/>
<circle class="g" cx="85.3" cy="419.3" r="1.85"/>
<circle class="p" cx="43.5" cy="449.4" r="1.85"/>
<circle class="p" cx="92.4" cy="477.8" r="1.85"/>
<circle class="p" cx="105.1" cy="459.0" r="1.85"/>
<circle class="g" cx="52.5" cy="437.7" r="1.85"/>
<circle class="p" cx="43.1" cy="462.4" r="1.85"/>
<circle class="r" cx="211.3" cy="464.6" r="1.85"/>
<circle class="p" cx="119.6" cy="467.4" r="1.85"/>
<circle class="g" cx="58.8" cy="426.8" r="1.85"/>
<circle class="r" cx="244.8" cy="418.7" r="1.85"/>
<circle class="g" cx="92.0" cy="436.0" r="1.85"/>
<circle class="g" cx="79.4" cy="399.9" r="1.85"/>
<circle class="g" cx="96.8" cy="410.5" r="1.85"/>
<circle class="p" cx="72.3" cy="496.4" r="1.85"/>
<circle class="g" cx="81.7" cy="407.5" r="1.85"/>
<circle class="r" cx="137.8" cy="508.9" r="1.85"/>
<circle class="g" cx="100.5" cy="423.9" r="1.85"/>
<circle class="p" cx="60.5" cy="462.8" r="1.85"/>
<circle class="r" cx="216.3" cy="498.1" r="1.85"/>
<circle class="g" cx="60.0" cy="399.8" r="1.85"/>
<circle class="p" cx="114.9" cy="460.0" r="1.85"/>
<circle class="g" cx="66.7" cy="407.9" r="1.85"/>
<circle class="p" cx="88.1" cy="471.1" r="1.85"/>
<circle class="g" cx="57.9" cy="422.4" r="1.85"/>
<circle class="p" cx="104.5" cy="446.3" r="1.85"/>
<circle class="r" cx="156.1" cy="501.1" r="1.85"/>
<circle class="r" cx="133.0" cy="495.4" r="1.85"/>
<circle class="g" cx="65.4" cy="419.5" r="1.85"/>
<circle class="p" cx="91.2" cy="475.7" r="1.85"/>
<circle class="p" cx="58.1" cy="491.8" r="1.85"/>
<circle class="g" cx="123.5" cy="384.1" r="1.85"/>
<circle class="p" cx="49.6" cy="451.2" r="1.85"/>
<circle class="r" cx="138.4" cy="516.2" r="1.85"/>
<circle class="p" cx="116.2" cy="495.1" r="1.85"/>
<circle class="g" cx="38.4" cy="397.7" r="1.85"/>
<circle class="p" cx="78.6" cy="464.7" r="1.85"/>
<circle class="p" cx="47.8" cy="486.1" r="1.85"/>
<circle class="r" cx="240.3" cy="445.1" r="1.85"/>
<circle class="r" cx="144.9" cy="498.1" r="1.85"/>
<circle class="b" cx="637.8" cy="492.9" r="1.85"/>
<circle class="p" cx="50.5" cy="477.6" r="1.85"/>
<circle class="p" cx="114.9" cy="456.3" r="1.85"/>
<circle class="g" cx="82.8" cy="437.7" r="1.85"/>
<circle class="r" cx="155.6" cy="482.9" r="1.85"/>
<circle class="r" cx="166.6" cy="470.4" r="1.85"/>
<circle class="p" cx="108.9" cy="476.1" r="1.85"/>
<circle class="g" cx="154.6" cy="432.0" r="1.85"/>
<circle class="p" cx="66.3" cy="467.0" r="1.85"/>
<circle class="p" cx="80.0" cy="448.3" r="1.85"/>
<circle class="p" cx="96.3" cy="475.8" r="1.85"/>
<circle class="p" cx="127.8" cy="490.3" r="1.85"/>
<circle class="g" cx="114.8" cy="418.5" r="1.85"/>
<circle class="p" cx="73.4" cy="454.9" r="1.85"/>
<circle class="p" cx="50.0" cy="495.2" r="1.85"/>
<circle class="g" cx="44.8" cy="394.1" r="1.85"/>
<circle class="p" cx="98.6" cy="500.3" r="1.85"/>
<circle class="g" cx="177.3" cy="419.7" r="1.85"/>
<circle class="p" cx="77.6" cy="444.8" r="1.85"/>
<circle class="p" cx="44.0" cy="496.8" r="1.85"/>
<circle class="p" cx="69.6" cy="448.9" r="1.85"/>
<circle class="p" cx="88.4" cy="477.7" r="1.85"/>
<circle class="g" cx="58.2" cy="421.8" r="1.85"/>
<circle class="p" cx="75.4" cy="449.8" r="1.85"/>
<circle class="g" cx="103.2" cy="399.2" r="1.85"/>
<circle class="p" cx="37.5" cy="492.5" r="1.85"/>
<circle class="p" cx="116.2" cy="482.7" r="1.85"/>
<circle class="r" cx="176.5" cy="497.6" r="1.85"/>
<circle class="p" cx="116.4" cy="468.9" r="1.85"/>
<circle class="p" cx="37.7" cy="499.1" r="1.85"/>
<circle class="p" cx="104.2" cy="464.0" r="1.85"/>
<circle class="p" cx="124.3" cy="455.4" r="1.85"/>
<circle class="p" cx="41.6" cy="503.8" r="1.85"/>
<circle class="r" cx="200.0" cy="443.8" r="1.85"/>
<circle class="g" cx="99.0" cy="427.3" r="1.85"/>
<circle class="g" cx="117.8" cy="437.1" r="1.85"/>
<circle class="g" cx="57.3" cy="430.3" r="1.85"/>
<circle class="g" cx="56.2" cy="403.2" r="1.85"/>
<circle class="b" cx="373.0" cy="317.8" r="1.85"/>
<circle class="p" cx="84.4" cy="488.8" r="1.85"/>
<circle class="r" cx="232.3" cy="506.4" r="1.85"/>
<circle class="g" cx="74.7" cy="420.1" r="1.85"/>
<circle class="p" cx="97.1" cy="458.3" r="1.85"/>
<circle class="g" cx="110.3" cy="409.1" r="1.85"/>
<circle class="p" cx="82.3" cy="464.0" r="1.85"/>
<circle class="g" cx="62.1" cy="364.9" r="1.85"/>
<circle class="g" cx="74.3" cy="430.6" r="1.85"/>
<circle class="p" cx="83.8" cy="482.1" r="1.85"/>
<circle class="r" cx="146.5" cy="499.0" r="1.85"/>
<circle class="g" cx="133.1" cy="406.7" r="1.85"/>
<circle class="r" cx="234.8" cy="530.9" r="1.85"/>
<circle class="r" cx="307.9" cy="469.3" r="1.85"/>
<circle class="r" cx="233.8" cy="522.9" r="1.85"/>
<circle class="p" cx="86.3" cy="444.5" r="1.85"/>
<circle class="p" cx="46.7" cy="464.4" r="1.85"/>
<circle class="r" cx="274.1" cy="514.1" r="1.85"/>
<circle class="p" cx="88.2" cy="448.6" r="1.85"/>
<circle class="g" cx="72.2" cy="407.2" r="1.85"/>
<circle class="p" cx="50.4" cy="441.4" r="1.85"/>
<circle class="r" cx="158.4" cy="455.3" r="1.85"/>
<circle class="p" cx="116.9" cy="488.3" r="1.85"/>
<circle class="p" cx="60.6" cy="483.2" r="1.85"/>
<circle class="g" cx="52.7" cy="428.3" r="1.85"/>
<circle class="p" cx="53.6" cy="443.6" r="1.85"/>
<circle class="g" cx="47.1" cy="399.3" r="1.85"/>
<circle class="g" cx="97.2" cy="405.7" r="1.85"/>
<circle class="p" cx="69.1" cy="458.5" r="1.85"/>
<circle class="g" cx="109.6" cy="391.7" r="1.85"/>
<circle class="p" cx="128.3" cy="481.5" r="1.85"/>
<circle class="g" cx="69.7" cy="416.1" r="1.85"/>
<circle class="p" cx="103.2" cy="462.6" r="1.85"/>
<circle class="p" cx="106.4" cy="458.9" r="1.85"/>
<circle class="b" cx="300.9" cy="376.1" r="1.85"/>
<circle class="b" cx="494.1" cy="492.6" r="1.85"/>
<circle class="o" cx="90.6" cy="301.3" r="1.85"/>
<circle class="g" cx="91.5" cy="422.4" r="1.85"/>
<circle class="p" cx="100.4" cy="466.0" r="1.85"/>
<circle class="g" cx="70.9" cy="341.2" r="1.85"/>
<circle class="p" cx="44.0" cy="474.5" r="1.85"/>
<circle class="g" cx="137.9" cy="426.9" r="1.85"/>
<circle class="p" cx="135.7" cy="463.6" r="1.85"/>
<circle class="p" cx="101.3" cy="488.4" r="1.85"/>
<circle class="r" cx="154.6" cy="455.3" r="1.85"/>
<circle class="p" cx="56.8" cy="477.7" r="1.85"/>
<circle class="b" cx="321.4" cy="474.3" r="1.85"/>
<circle class="g" cx="79.2" cy="393.4" r="1.85"/>
<circle class="p" cx="91.5" cy="466.7" r="1.85"/>
<circle class="r" cx="211.0" cy="475.3" r="1.85"/>
<circle class="r" cx="218.0" cy="490.6" r="1.85"/>
<circle class="r" cx="163.0" cy="458.8" r="1.85"/>
<circle class="p" cx="92.9" cy="468.0" r="1.85"/>
<circle class="r" cx="256.1" cy="489.6" r="1.85"/>
<circle class="g" cx="126.2" cy="422.3" r="1.85"/>
<circle class="p" cx="107.7" cy="461.8" r="1.85"/>
<circle class="g" cx="72.3" cy="396.5" r="1.85"/>
<circle class="g" cx="65.9" cy="433.6" r="1.85"/>
<circle class="g" cx="66.1" cy="397.6" r="1.85"/>
<circle class="p" cx="130.2" cy="471.2" r="1.85"/>
<circle class="p" cx="46.9" cy="451.9" r="1.85"/>
<circle class="p" cx="89.6" cy="465.0" r="1.85"/>
<circle class="p" cx="80.2" cy="447.4" r="1.85"/>
<circle class="p" cx="96.5" cy="472.5" r="1.85"/>
<circle class="p" cx="92.3" cy="453.0" r="1.85"/>
<circle class="p" cx="93.3" cy="487.2" r="1.85"/>
<circle class="g" cx="48.1" cy="402.3" r="1.85"/>
<circle class="g" cx="91.7" cy="367.5" r="1.85"/>
<circle class="p" cx="127.3" cy="472.9" r="1.85"/>
<circle class="p" cx="48.9" cy="466.8" r="1.85"/>
<circle class="r" cx="166.6" cy="465.4" r="1.85"/>
<circle class="b" cx="369.5" cy="442.1" r="1.85"/>
<circle class="g" cx="51.1" cy="418.2" r="1.85"/>
<circle class="g" cx="66.9" cy="341.2" r="1.85"/>
<circle class="b" cx="698.2" cy="472.8" r="1.85"/>
<circle class="p" cx="123.4" cy="481.6" r="1.85"/>
<circle class="r" cx="184.0" cy="429.4" r="1.85"/>
<circle class="b" cx="433.8" cy="395.9" r="1.85"/>
<circle class="p" cx="95.7" cy="456.7" r="1.85"/>
<circle class="p" cx="136.9" cy="455.3" r="1.85"/>
<circle class="p" cx="133.6" cy="468.1" r="1.85"/>
<circle class="p" cx="101.3" cy="455.1" r="1.85"/>
<circle class="p" cx="124.9" cy="470.4" r="1.85"/>
<circle class="p" cx="49.6" cy="455.1" r="1.85"/>
<circle class="p" cx="42.0" cy="449.9" r="1.85"/>
<circle class="b" cx="661.4" cy="429.3" r="1.85"/>
<circle class="p" cx="118.6" cy="457.0" r="1.85"/>
<circle class="p" cx="96.5" cy="468.2" r="1.85"/>
<circle class="p" cx="97.9" cy="467.8" r="1.85"/>
<circle class="p" cx="87.4" cy="445.0" r="1.85"/>
<circle class="p" cx="66.7" cy="485.1" r="1.85"/>
<circle class="g" cx="120.7" cy="402.1" r="1.85"/>
<circle class="p" cx="61.5" cy="449.3" r="1.85"/>
<circle class="p" cx="124.1" cy="446.0" r="1.85"/>
<circle class="g" cx="102.8" cy="436.9" r="1.85"/>
<circle class="r" cx="173.1" cy="445.2" r="1.85"/>
<circle class="p" cx="86.5" cy="488.7" r="1.85"/>
<circle class="p" cx="131.3" cy="462.1" r="1.85"/>
<circle class="p" cx="50.9" cy="470.8" r="1.85"/>
<circle class="p" cx="115.9" cy="443.8" r="1.85"/>
<circle class="p" cx="45.9" cy="491.3" r="1.85"/>
<circle class="p" cx="55.3" cy="461.3" r="1.85"/>
<circle class="p" cx="72.2" cy="452.3" r="1.85"/>
<circle class="p" cx="90.2" cy="448.9" r="1.85"/>
<circle class="p" cx="110.5" cy="466.8" r="1.85"/>
<circle class="p" cx="85.6" cy="442.4" r="1.85"/>
<circle class="g" cx="73.3" cy="434.1" r="1.85"/>
<circle class="p" cx="43.5" cy="481.9" r="1.85"/>
<circle class="p" cx="89.6" cy="446.3" r="1.85"/>
<circle class="g" cx="143.2" cy="410.7" r="1.85"/>
<circle class="g" cx="82.2" cy="417.5" r="1.85"/>
<circle class="r" cx="139.0" cy="485.6" r="1.85"/>
<circle class="p" cx="80.1" cy="449.3" r="1.85"/>
<circle class="p" cx="95.8" cy="463.5" r="1.85"/>
<circle class="p" cx="42.2" cy="485.2" r="1.85"/>
<circle class="b" cx="733.2" cy="456.3" r="1.85"/>
<circle class="g" cx="76.0" cy="428.8" r="1.85"/>
<circle class="p" cx="63.4" cy="492.1" r="1.85"/>
<circle class="r" cx="146.9" cy="498.2" r="1.85"/>
<circle class="g" cx="83.7" cy="428.1" r="1.85"/>
<circle class="r" cx="217.8" cy="473.3" r="1.85"/>
<circle class="r" cx="288.1" cy="511.6" r="1.85"/>
<circle class="p" cx="58.4" cy="488.4" r="1.85"/>
<circle class="p" cx="98.7" cy="488.0" r="1.85"/>
<circle class="r" cx="161.8" cy="524.2" r="1.85"/>
<circle class="p" cx="128.0" cy="480.6" r="1.85"/>
<circle class="b" cx="334.4" cy="467.8" r="1.85"/>
<circle class="r" cx="305.7" cy="476.6" r="1.85"/>
<circle class="g" cx="70.2" cy="434.2" r="1.85"/>
<circle class="p" cx="53.7" cy="454.6" r="1.85"/>
<circle class="p" cx="104.7" cy="473.9" r="1.85"/>
<circle class="r" cx="268.9" cy="485.1" r="1.85"/>
<circle class="p" cx="64.1" cy="454.5" r="1.85"/>
<circle class="p" cx="128.1" cy="481.9" r="1.85"/>
<circle class="p" cx="51.0" cy="477.4" r="1.85"/>
<circle class="r" cx="148.0" cy="508.1" r="1.85"/>
<circle class="p" cx="90.2" cy="464.7" r="1.85"/>
<circle class="p" cx="89.3" cy="458.8" r="1.85"/>
<circle class="r" cx="232.8" cy="477.6" r="1.85"/>
<circle class="p" cx="83.5" cy="454.7" r="1.85"/>
<circle class="r" cx="205.8" cy="521.4" r="1.85"/>
<circle class="p" cx="58.4" cy="491.4" r="1.85"/>
<circle class="r" cx="161.6" cy="488.7" r="1.85"/>
<circle class="p" cx="80.6" cy="469.5" r="1.85"/>
<circle class="p" cx="130.6" cy="450.6" r="1.85"/>
<circle class="p" cx="49.3" cy="466.5" r="1.85"/>
<circle class="r" cx="223.5" cy="503.9" r="1.85"/>
<circle class="b" cx="331.9" cy="502.9" r="1.85"/>
<circle class="g" cx="123.4" cy="409.3" r="1.85"/>
<circle class="p" cx="60.6" cy="444.7" r="1.85"/>
<circle class="g" cx="104.2" cy="432.1" r="1.85"/>
<circle class="b" cx="402.8" cy="440.6" r="1.85"/>
<circle class="p" cx="57.6" cy="457.0" r="1.85"/>
<circle class="g" cx="73.2" cy="346.7" r="1.85"/>
<circle class="g" cx="244.6" cy="380.1" r="1.85"/>
<circle class="g" cx="89.0" cy="400.2" r="1.85"/>
<circle class="p" cx="127.4" cy="486.4" r="1.85"/>
<circle class="p" cx="90.4" cy="450.6" r="1.85"/>
<circle class="b" cx="462.6" cy="268.9" r="1.85"/>
<circle class="r" cx="155.1" cy="500.9" r="1.85"/>
<circle class="g" cx="69.0" cy="379.7" r="1.85"/>
<circle class="p" cx="100.7" cy="465.9" r="1.85"/>
<circle class="r" cx="241.1" cy="513.1" r="1.85"/>
<circle class="p" cx="43.2" cy="479.6" r="1.85"/>
<circle class="g" cx="73.3" cy="401.6" r="1.85"/>
<circle class="p" cx="54.5" cy="456.2" r="1.85"/>
<circle class="g" cx="52.9" cy="338.5" r="1.85"/>
<circle class="p" cx="114.6" cy="441.5" r="1.85"/>
<circle class="g" cx="122.2" cy="435.3" r="1.85"/>
<circle class="p" cx="134.3" cy="450.6" r="1.85"/>
<circle class="p" cx="133.5" cy="474.0" r="1.85"/>
<circle class="g" cx="96.1" cy="429.7" r="1.85"/>
<circle class="r" cx="297.9" cy="483.6" r="1.85"/>
<circle class="p" cx="107.4" cy="441.0" r="1.85"/>
<circle class="p" cx="45.6" cy="486.1" r="1.85"/>
<circle class="g" cx="94.7" cy="431.8" r="1.85"/>
<circle class="g" cx="73.8" cy="377.4" r="1.85"/>
<circle class="p" cx="112.0" cy="465.7" r="1.85"/>
<circle class="p" cx="95.6" cy="458.1" r="1.85"/>
<circle class="p" cx="126.3" cy="479.8" r="1.85"/>
<circle class="p" cx="66.1" cy="447.2" r="1.85"/>
<circle class="p" cx="48.4" cy="476.8" r="1.85"/>
<circle class="p" cx="53.7" cy="452.8" r="1.85"/>
<circle class="p" cx="78.5" cy="456.3" r="1.85"/>
<circle class="p" cx="82.0" cy="475.7" r="1.85"/>
<circle class="p" cx="76.2" cy="463.8" r="1.85"/>
<circle class="p" cx="104.6" cy="463.4" r="1.85"/>
<circle class="g" cx="106.8" cy="432.7" r="1.85"/>
<circle class="g" cx="148.0" cy="330.6" r="1.85"/>
<circle class="p" cx="50.3" cy="476.4" r="1.85"/>
<circle class="g" cx="123.3" cy="424.2" r="1.85"/>
<circle class="r" cx="291.1" cy="523.7" r="1.85"/>
<circle class="g" cx="93.6" cy="421.8" r="1.85"/>
<circle class="p" cx="95.3" cy="470.6" r="1.85"/>
<circle class="r" cx="153.1" cy="479.7" r="1.85"/>
<circle class="p" cx="131.7" cy="462.3" r="1.85"/>
<circle class="p" cx="50.8" cy="484.3" r="1.85"/>
<circle class="p" cx="40.4" cy="491.1" r="1.85"/>
<circle class="p" cx="139.0" cy="450.1" r="1.85"/>
<circle class="g" cx="39.7" cy="369.5" r="1.85"/>
<circle class="g" cx="99.0" cy="351.3" r="1.85"/>
<circle class="g" cx="61.6" cy="410.7" r="1.85"/>
<circle class="g" cx="47.1" cy="394.6" r="1.85"/>
<circle class="p" cx="82.4" cy="478.7" r="1.85"/>
<circle class="p" cx="139.7" cy="466.5" r="1.85"/>
<circle class="p" cx="66.8" cy="457.4" r="1.85"/>
<circle class="r" cx="194.8" cy="428.5" r="1.85"/>
<circle class="p" cx="94.9" cy="479.8" r="1.85"/>
<circle class="p" cx="99.8" cy="446.4" r="1.85"/>
<circle class="g" cx="43.6" cy="429.7" r="1.85"/>
<circle class="p" cx="130.1" cy="457.0" r="1.85"/>
<circle class="r" cx="194.0" cy="484.4" r="1.85"/>
<circle class="r" cx="312.9" cy="503.6" r="1.85"/>
<circle class="g" cx="63.3" cy="417.2" r="1.85"/>
<circle class="p" cx="68.6" cy="458.2" r="1.85"/>
<circle class="r" cx="129.4" cy="510.3" r="1.85"/>
<circle class="g" cx="100.3" cy="428.8" r="1.85"/>
<circle class="r" cx="235.3" cy="506.9" r="1.85"/>
<circle class="r" cx="144.7" cy="504.8" r="1.85"/>
<circle class="g" cx="180.8" cy="377.1" r="1.85"/>
<circle class="p" cx="95.3" cy="479.3" r="1.85"/>
<circle class="p" cx="90.6" cy="451.9" r="1.85"/>
<circle class="g" cx="67.2" cy="429.0" r="1.85"/>
<circle class="b" cx="373.7" cy="447.8" r="1.85"/>
<circle class="p" cx="63.6" cy="495.9" r="1.85"/>
<circle class="g" cx="73.8" cy="414.4" r="1.85"/>
<circle class="p" cx="60.5" cy="442.4" r="1.85"/>
<circle class="g" cx="80.6" cy="435.4" r="1.85"/>
<circle class="r" cx="136.0" cy="492.0" r="1.85"/>
<circle class="p" cx="57.4" cy="445.4" r="1.85"/>
<circle class="g" cx="68.0" cy="422.1" r="1.85"/>
<circle class="p" cx="101.5" cy="466.7" r="1.85"/>
<circle class="g" cx="120.5" cy="435.5" r="1.85"/>
<circle class="g" cx="90.7" cy="384.8" r="1.85"/>
<circle class="g" cx="56.5" cy="420.6" r="1.85"/>
<circle class="g" cx="44.8" cy="433.4" r="1.85"/>
<circle class="p" cx="76.0" cy="459.6" r="1.85"/>
<circle class="p" cx="59.2" cy="475.0" r="1.85"/>
<circle class="p" cx="78.2" cy="486.5" r="1.85"/>
<circle class="r" cx="187.5" cy="478.0" r="1.85"/>
<circle class="p" cx="86.8" cy="484.9" r="1.85"/>
<circle class="g" cx="82.9" cy="422.3" r="1.85"/>
<circle class="p" cx="89.3" cy="458.2" r="1.85"/>
<circle class="p" cx="102.9" cy="440.7" r="1.85"/>
<circle class="p" cx="64.8" cy="447.9" r="1.85"/>
<circle class="p" cx="46.4" cy="446.3" r="1.85"/>
<circle class="p" cx="39.0" cy="451.0" r="1.85"/>
<circle class="p" cx="47.2" cy="476.1" r="1.85"/>
<circle class="p" cx="73.2" cy="456.6" r="1.85"/>
<circle class="r" cx="138.1" cy="482.6" r="1.85"/>
<circle class="p" cx="104.1" cy="487.1" r="1.85"/>
<circle class="g" cx="84.4" cy="376.3" r="1.85"/>
<circle class="g" cx="92.7" cy="332.0" r="1.85"/>
<circle class="p" cx="54.5" cy="443.1" r="1.85"/>
<circle class="g" cx="58.9" cy="403.7" r="1.85"/>
<circle class="p" cx="67.8" cy="444.9" r="1.85"/>
<circle class="p" cx="55.5" cy="450.9" r="1.85"/>
<circle class="p" cx="38.3" cy="453.9" r="1.85"/>
<circle class="g" cx="44.7" cy="430.1" r="1.85"/>
<circle class="g" cx="133.1" cy="350.7" r="1.85"/>
<circle class="g" cx="95.2" cy="419.5" r="1.85"/>
<circle class="p" cx="121.1" cy="487.5" r="1.85"/>
<circle class="r" cx="207.0" cy="486.1" r="1.85"/>
<circle class="g" cx="62.4" cy="422.0" r="1.85"/>
<circle class="p" cx="101.4" cy="461.3" r="1.85"/>
<circle class="p" cx="46.1" cy="447.0" r="1.85"/>
<circle class="p" cx="83.3" cy="454.5" r="1.85"/>
<circle class="p" cx="112.4" cy="490.8" r="1.85"/>
<circle class="o" cx="39.8" cy="240.1" r="1.85"/>
<circle class="g" cx="75.4" cy="415.0" r="1.85"/>
<circle class="p" cx="101.5" cy="453.3" r="1.85"/>
<circle class="g" cx="96.5" cy="368.0" r="1.85"/>
<circle class="p" cx="57.1" cy="477.6" r="1.85"/>
<circle class="b" cx="454.6" cy="519.4" r="1.85"/>
<circle class="r" cx="250.6" cy="424.0" r="1.85"/>
<circle class="b" cx="368.2" cy="481.6" r="1.85"/>
<circle class="p" cx="89.6" cy="449.5" r="1.85"/>
<circle class="p" cx="79.1" cy="497.8" r="1.85"/>
<circle class="g" cx="86.8" cy="429.5" r="1.85"/>
<circle class="g" cx="53.8" cy="427.6" r="1.85"/>
<circle class="p" cx="88.2" cy="453.4" r="1.85"/>
<circle class="g" cx="85.8" cy="424.3" r="1.85"/>
<circle class="p" cx="96.1" cy="486.9" r="1.85"/>
<circle class="p" cx="54.5" cy="450.0" r="1.85"/>
<circle class="g" cx="119.5" cy="431.8" r="1.85"/>
<circle class="p" cx="103.2" cy="493.8" r="1.85"/>
<circle class="r" cx="174.8" cy="449.6" r="1.85"/>
<circle class="r" cx="141.3" cy="478.8" r="1.85"/>
<circle class="p" cx="57.5" cy="475.5" r="1.85"/>
<circle class="g" cx="112.4" cy="430.6" r="1.85"/>
<circle class="g" cx="46.4" cy="428.7" r="1.85"/>
<circle class="r" cx="131.5" cy="508.3" r="1.85"/>
<circle class="g" cx="55.9" cy="402.1" r="1.85"/>
<circle class="p" cx="125.6" cy="490.3" r="1.85"/>
<circle class="p" cx="55.1" cy="478.6" r="1.85"/>
<circle class="p" cx="120.2" cy="495.3" r="1.85"/>
<circle class="g" cx="80.0" cy="420.9" r="1.85"/>
<circle class="p" cx="85.7" cy="489.1" r="1.85"/>
<circle class="g" cx="108.1" cy="350.7" r="1.85"/>
<circle class="p" cx="71.0" cy="473.7" r="1.85"/>
<circle class="p" cx="79.6" cy="439.8" r="1.85"/>
<circle class="p" cx="69.8" cy="474.2" r="1.85"/>
<circle class="g" cx="58.9" cy="398.4" r="1.85"/>
<circle class="g" cx="76.9" cy="416.8" r="1.85"/>
<circle class="r" cx="321.2" cy="503.6" r="1.85"/>
<circle class="p" cx="110.8" cy="469.8" r="1.85"/>
<circle class="g" cx="87.5" cy="390.7" r="1.85"/>
<circle class="b" cx="590.8" cy="433.5" r="1.85"/>
<circle class="p" cx="94.6" cy="456.8" r="1.85"/>
<circle class="g" cx="100.4" cy="407.5" r="1.85"/>
<circle class="g" cx="104.6" cy="430.3" r="1.85"/>
<circle class="p" cx="90.6" cy="480.5" r="1.85"/>
<circle class="p" cx="103.6" cy="470.1" r="1.85"/>
<circle class="p" cx="98.5" cy="465.0" r="1.85"/>
<circle class="r" cx="169.1" cy="521.6" r="1.85"/>
<circle class="p" cx="101.1" cy="442.7" r="1.85"/>
<circle class="r" cx="173.2" cy="494.3" r="1.85"/>
<circle class="g" cx="49.0" cy="433.8" r="1.85"/>
<circle class="g" cx="86.4" cy="411.0" r="1.85"/>
<circle class="r" cx="156.8" cy="474.2" r="1.85"/>
<circle class="g" cx="60.1" cy="397.0" r="1.85"/>
<circle class="p" cx="77.5" cy="476.9" r="1.85"/>
<circle class="g" cx="139.0" cy="329.6" r="1.85"/>
<circle class="p" cx="76.1" cy="478.0" r="1.85"/>
<circle class="p" cx="51.4" cy="451.2" r="1.85"/>
<circle class="r" cx="147.0" cy="521.0" r="1.85"/>
<circle class="p" cx="96.9" cy="465.0" r="1.85"/>
<circle class="p" cx="54.9" cy="478.3" r="1.85"/>
<circle class="g" cx="95.6" cy="407.6" r="1.85"/>
<circle class="r" cx="180.1" cy="443.0" r="1.85"/>
<circle class="p" cx="42.5" cy="450.6" r="1.85"/>
<circle class="p" cx="104.0" cy="469.2" r="1.85"/>
<circle class="r" cx="312.7" cy="533.7" r="1.85"/>
<circle class="p" cx="137.4" cy="463.6" r="1.85"/>
<circle class="p" cx="68.2" cy="469.1" r="1.85"/>
<circle class="p" cx="72.5" cy="446.1" r="1.85"/>
<circle class="p" cx="114.8" cy="460.7" r="1.85"/>
<circle class="p" cx="101.1" cy="480.8" r="1.85"/>
<circle class="p" cx="64.9" cy="473.9" r="1.85"/>
<circle class="r" cx="259.3" cy="445.1" r="1.85"/>
<circle class="g" cx="76.2" cy="417.1" r="1.85"/>
<circle class="p" cx="125.2" cy="469.8" r="1.85"/>
<circle class="p" cx="59.3" cy="460.8" r="1.85"/>
<circle class="p" cx="37.5" cy="459.1" r="1.85"/>
<circle class="g" cx="100.0" cy="415.4" r="1.85"/>
<circle class="p" cx="60.5" cy="466.8" r="1.85"/>
<circle class="g" cx="69.5" cy="411.3" r="1.85"/>
<circle class="p" cx="82.4" cy="467.9" r="1.85"/>
<circle class="r" cx="248.3" cy="429.5" r="1.85"/>
<circle class="o" cx="71.6" cy="180.8" r="1.85"/>
<circle class="p" cx="91.4" cy="446.7" r="1.85"/>
<circle class="r" cx="224.3" cy="445.1" r="1.85"/>
<circle class="p" cx="47.9" cy="492.7" r="1.85"/>
<circle class="p" cx="47.2" cy="445.4" r="1.85"/>
<circle class="p" cx="83.0" cy="469.6" r="1.85"/>
<circle class="p" cx="88.0" cy="490.0" r="1.85"/>
<circle class="p" cx="75.0" cy="488.9" r="1.85"/>
<circle class="p" cx="99.9" cy="506.3" r="1.85"/>
<circle class="p" cx="86.5" cy="460.8" r="1.85"/>
<circle class="p" cx="39.9" cy="460.1" r="1.85"/>
<circle class="r" cx="213.3" cy="441.1" r="1.85"/>
<circle class="p" cx="47.1" cy="469.0" r="1.85"/>
<circle class="p" cx="89.6" cy="470.1" r="1.85"/>
<circle class="r" cx="298.1" cy="425.5" r="1.85"/>
<circle class="p" cx="96.2" cy="475.1" r="1.85"/>
<circle class="p" cx="46.9" cy="458.1" r="1.85"/>
<circle class="p" cx="112.8" cy="447.7" r="1.85"/>
<circle class="r" cx="174.6" cy="493.9" r="1.85"/>
<circle class="p" cx="102.2" cy="448.3" r="1.85"/>
<circle class="p" cx="54.0" cy="452.4" r="1.85"/>
<circle class="r" cx="160.7" cy="477.8" r="1.85"/>
<circle class="p" cx="75.1" cy="490.1" r="1.85"/>
<circle class="r" cx="172.6" cy="471.5" r="1.85"/>
<circle class="p" cx="60.1" cy="449.2" r="1.85"/>
<circle class="p" cx="87.6" cy="471.1" r="1.85"/>
<circle class="p" cx="44.7" cy="440.5" r="1.85"/>
<circle class="g" cx="113.9" cy="425.9" r="1.85"/>
<circle class="r" cx="242.3" cy="489.1" r="1.85"/>
<circle class="r" cx="144.2" cy="495.5" r="1.85"/>
<circle class="p" cx="118.3" cy="463.8" r="1.85"/>
<circle class="p" cx="86.9" cy="446.2" r="1.85"/>
<circle class="p" cx="79.0" cy="482.7" r="1.85"/>
<circle class="p" cx="61.5" cy="450.7" r="1.85"/>
<circle class="p" cx="67.1" cy="443.9" r="1.85"/>
<circle class="p" cx="45.4" cy="494.8" r="1.85"/>
<circle class="g" cx="115.3" cy="427.1" r="1.85"/>
<circle class="p" cx="77.3" cy="499.4" r="1.85"/>
<circle class="r" cx="198.8" cy="447.1" r="1.85"/>
<circle class="p" cx="41.8" cy="490.0" r="1.85"/>
<circle class="p" cx="101.9" cy="502.8" r="1.85"/>
<circle class="r" cx="183.6" cy="509.6" r="1.85"/>
<circle class="r" cx="135.1" cy="497.6" r="1.85"/>
<circle class="p" cx="109.7" cy="449.1" r="1.85"/>
<circle class="g" cx="50.3" cy="395.2" r="1.85"/>
<circle class="p" cx="125.9" cy="483.3" r="1.85"/>
<circle class="g" cx="60.1" cy="408.5" r="1.85"/>
<circle class="p" cx="115.2" cy="448.8" r="1.85"/>
<circle class="p" cx="81.8" cy="480.4" r="1.85"/>
<circle class="p" cx="116.5" cy="473.2" r="1.85"/>
<circle class="r" cx="177.9" cy="445.8" r="1.85"/>
<circle class="p" cx="111.3" cy="487.1" r="1.85"/>
<circle class="p" cx="128.8" cy="481.5" r="1.85"/>
<circle class="p" cx="79.4" cy="456.2" r="1.85"/>
<circle class="p" cx="114.3" cy="455.2" r="1.85"/>
<circle class="g" cx="123.5" cy="345.6" r="1.85"/>
<circle class="p" cx="58.2" cy="448.4" r="1.85"/>
<circle class="r" cx="167.2" cy="526.0" r="1.85"/>
<circle class="p" cx="58.4" cy="450.5" r="1.85"/>
<circle class="b" cx="530.4" cy="500.9" r="1.85"/>
<circle class="p" cx="78.9" cy="455.1" r="1.85"/>
<circle class="r" cx="158.9" cy="492.7" r="1.85"/>
<circle class="o" cx="57.6" cy="315.6" r="1.85"/>
<circle class="g" cx="69.2" cy="411.4" r="1.85"/>
<circle class="p" cx="53.9" cy="441.8" r="1.85"/>
<circle class="g" cx="82.6" cy="364.6" r="1.85"/>
<circle class="r" cx="293.1" cy="482.1" r="1.85"/>
<circle class="p" cx="49.6" cy="458.4" r="1.85"/>
<circle class="p" cx="118.8" cy="462.0" r="1.85"/>
<circle class="p" cx="103.8" cy="450.7" r="1.85"/>
<circle class="p" cx="56.7" cy="495.1" r="1.85"/>
<circle class="p" cx="77.0" cy="461.9" r="1.85"/>
<circle class="p" cx="65.4" cy="445.0" r="1.85"/>
<circle class="p" cx="126.4" cy="497.3" r="1.85"/>
<circle class="p" cx="127.8" cy="492.7" r="1.85"/>
<circle class="p" cx="111.3" cy="491.1" r="1.85"/>
<circle class="p" cx="50.0" cy="456.5" r="1.85"/>
<circle class="b" cx="539.7" cy="523.9" r="1.85"/>
<circle class="g" cx="44.7" cy="424.7" r="1.85"/>
<circle class="p" cx="53.9" cy="476.3" r="1.85"/>
<circle class="p" cx="66.5" cy="489.4" r="1.85"/>
<circle class="p" cx="37.5" cy="460.6" r="1.85"/>
<circle class="p" cx="136.5" cy="442.9" r="1.85"/>
<circle class="p" cx="72.9" cy="477.8" r="1.85"/>
<circle class="r" cx="158.9" cy="478.3" r="1.85"/>
<circle class="p" cx="120.9" cy="450.1" r="1.85"/>
<circle class="p" cx="46.9" cy="458.5" r="1.85"/>
<circle class="r" cx="140.4" cy="507.3" r="1.85"/>
<circle class="p" cx="119.7" cy="493.8" r="1.85"/>
<circle class="p" cx="78.6" cy="470.3" r="1.85"/>
<circle class="p" cx="89.3" cy="481.9" r="1.85"/>
<circle class="r" cx="231.1" cy="505.1" r="1.85"/>
<circle class="p" cx="99.4" cy="442.1" r="1.85"/>
<circle class="g" cx="210.8" cy="341.8" r="1.85"/>
<circle class="r" cx="260.1" cy="495.1" r="1.85"/>
<circle class="g" cx="165.3" cy="421.4" r="1.85"/>
<circle class="g" cx="98.9" cy="363.1" r="1.85"/>
<circle class="r" cx="253.3" cy="480.1" r="1.85"/>
<circle class="g" cx="132.8" cy="414.3" r="1.85"/>
<circle class="g" cx="112.8" cy="390.3" r="1.85"/>
<circle class="p" cx="70.1" cy="486.5" r="1.85"/>
<circle class="p" cx="49.8" cy="476.2" r="1.85"/>
<circle class="g" cx="90.1" cy="420.3" r="1.85"/>
<circle class="g" cx="59.5" cy="371.9" r="1.85"/>
<circle class="p" cx="94.3" cy="440.9" r="1.85"/>
<circle class="p" cx="98.0" cy="457.6" r="1.85"/>
<circle class="g" cx="71.6" cy="397.5" r="1.85"/>
<circle class="p" cx="95.7" cy="457.0" r="1.85"/>
<circle class="p" cx="100.4" cy="461.4" r="1.85"/>
<circle class="g" cx="93.0" cy="421.8" r="1.85"/>
<circle class="p" cx="117.2" cy="478.0" r="1.85"/>
<circle class="p" cx="139.8" cy="467.1" r="1.85"/>
<circle class="p" cx="74.5" cy="459.2" r="1.85"/>
<circle class="g" cx="100.0" cy="397.0" r="1.85"/>
<circle class="g" cx="104.4" cy="418.0" r="1.85"/>
<circle class="p" cx="75.2" cy="457.5" r="1.85"/>
<circle class="p" cx="102.0" cy="446.9" r="1.85"/>
<circle class="p" cx="98.1" cy="497.0" r="1.85"/>
<circle class="r" cx="158.7" cy="491.3" r="1.85"/>
<circle class="r" cx="246.6" cy="423.3" r="1.85"/>
<circle class="p" cx="61.1" cy="481.0" r="1.85"/>
<circle class="g" cx="85.4" cy="355.1" r="1.85"/>
<circle class="r" cx="151.0" cy="484.7" r="1.85"/>
<circle class="g" cx="66.1" cy="409.7" r="1.85"/>
<circle class="g" cx="90.1" cy="396.6" r="1.85"/>
<circle class="g" cx="151.4" cy="435.5" r="1.85"/>
<circle class="p" cx="77.6" cy="501.5" r="1.85"/>
<circle class="g" cx="65.7" cy="394.4" r="1.85"/>
<circle class="p" cx="66.2" cy="462.1" r="1.85"/>
<circle class="p" cx="78.0" cy="489.9" r="1.85"/>
<circle class="g" cx="105.8" cy="422.4" r="1.85"/>
<circle class="p" cx="98.0" cy="475.3" r="1.85"/>
<circle class="g" cx="64.0" cy="434.2" r="1.85"/>
<circle class="g" cx="54.5" cy="436.3" r="1.85"/>
<circle class="p" cx="104.6" cy="511.9" r="1.85"/>
<circle class="p" cx="96.7" cy="451.0" r="1.85"/>
<circle class="p" cx="96.3" cy="448.9" r="1.85"/>
<circle class="p" cx="73.5" cy="490.5" r="1.85"/>
<circle class="p" cx="92.5" cy="468.6" r="1.85"/>
<circle class="g" cx="119.5" cy="398.7" r="1.85"/>
<circle class="g" cx="80.4" cy="426.6" r="1.85"/>
<circle class="g" cx="201.3" cy="400.4" r="1.85"/>
<circle class="g" cx="90.0" cy="422.7" r="1.85"/>
<circle class="p" cx="74.4" cy="474.9" r="1.85"/>
<circle class="b" cx="631.3" cy="511.9" r="1.85"/>
<circle class="p" cx="86.4" cy="467.6" r="1.85"/>
<circle class="g" cx="94.2" cy="367.5" r="1.85"/>
<circle class="p" cx="92.9" cy="470.4" r="1.85"/>
<circle class="p" cx="49.8" cy="476.1" r="1.85"/>
<circle class="p" cx="65.9" cy="458.0" r="1.85"/>
<circle class="p" cx="96.0" cy="479.8" r="1.85"/>
<circle class="g" cx="79.1" cy="377.6" r="1.85"/>
<circle class="p" cx="125.6" cy="497.7" r="1.85"/>
<circle class="p" cx="102.2" cy="482.4" r="1.85"/>
<circle class="r" cx="279.9" cy="501.9" r="1.85"/>
<circle class="p" cx="97.0" cy="504.9" r="1.85"/>
<circle class="r" cx="232.3" cy="475.6" r="1.85"/>
<circle class="p" cx="123.9" cy="483.1" r="1.85"/>
<circle class="g" cx="46.7" cy="356.5" r="1.85"/>
<circle class="g" cx="83.8" cy="425.2" r="1.85"/>
<circle class="p" cx="41.0" cy="484.2" r="1.85"/>
<circle class="r" cx="199.3" cy="520.9" r="1.85"/>
<circle class="p" cx="75.1" cy="441.7" r="1.85"/>
<circle class="p" cx="125.0" cy="443.2" r="1.85"/>
<circle class="r" cx="248.6" cy="434.5" r="1.85"/>
<circle class="p" cx="77.4" cy="441.1" r="1.85"/>
<circle class="b" cx="438.6" cy="530.9" r="1.85"/>
<circle class="p" cx="76.6" cy="457.8" r="1.85"/>
<circle class="p" cx="85.7" cy="467.2" r="1.85"/>
<circle class="r" cx="257.1" cy="455.6" r="1.85"/>
<circle class="p" cx="114.8" cy="465.1" r="1.85"/>
<circle class="r" cx="149.3" cy="495.4" r="1.85"/>
<circle class="p" cx="55.1" cy="444.0" r="1.85"/>
<circle class="p" cx="116.9" cy="507.6" r="1.85"/>
<circle class="g" cx="101.1" cy="434.3" r="1.85"/>
<circle class="r" cx="193.5" cy="450.3" r="1.85"/>
<circle class="r" cx="146.5" cy="488.9" r="1.85"/>
<circle class="g" cx="142.6" cy="435.5" r="1.85"/>
<circle class="p" cx="58.0" cy="440.6" r="1.85"/>
<circle class="p" cx="95.2" cy="448.1" r="1.85"/>
<circle class="p" cx="62.3" cy="501.7" r="1.85"/>
<circle class="p" cx="90.9" cy="480.6" r="1.85"/>
<circle class="p" cx="106.8" cy="445.7" r="1.85"/>
<circle class="r" cx="283.6" cy="524.4" r="1.85"/>
<circle class="p" cx="58.9" cy="492.6" r="1.85"/>
<circle class="p" cx="37.7" cy="476.2" r="1.85"/>
<circle class="p" cx="93.9" cy="440.0" r="1.85"/>
<circle class="p" cx="88.7" cy="457.1" r="1.85"/>
<circle class="p" cx="106.1" cy="465.9" r="1.85"/>
<circle class="p" cx="87.8" cy="494.1" r="1.85"/>
<circle class="g" cx="125.6" cy="414.7" r="1.85"/>
<circle class="p" cx="102.7" cy="454.4" r="1.85"/>
<circle class="g" cx="60.2" cy="419.1" r="1.85"/>
<circle class="r" cx="265.3" cy="476.1" r="1.85"/>
<circle class="p" cx="91.0" cy="447.0" r="1.85"/>
<circle class="p" cx="60.4" cy="480.3" r="1.85"/>
<circle class="p" cx="53.4" cy="459.9" r="1.85"/>
<circle class="r" cx="249.6" cy="506.1" r="1.85"/>
<circle class="p" cx="103.2" cy="453.3" r="1.85"/>
<circle class="p" cx="122.6" cy="444.2" r="1.85"/>
<circle class="g" cx="53.2" cy="333.4" r="1.85"/>
<circle class="p" cx="104.3" cy="465.6" r="1.85"/>
<circle class="p" cx="69.1" cy="440.1" r="1.85"/>
<circle class="p" cx="100.5" cy="476.9" r="1.85"/>
<circle class="g" cx="110.4" cy="421.4" r="1.85"/>
<circle class="p" cx="41.2" cy="483.6" r="1.85"/>
<circle class="b" cx="444.3" cy="477.1" r="1.85"/>
<circle class="g" cx="135.7" cy="427.9" r="1.85"/>
<circle class="g" cx="51.4" cy="404.1" r="1.85"/>
<circle class="p" cx="103.1" cy="514.4" r="1.85"/>
<circle class="p" cx="52.4" cy="462.1" r="1.85"/>
<circle class="p" cx="57.6" cy="472.3" r="1.85"/>
<circle class="g" cx="91.0" cy="394.9" r="1.85"/>
<circle class="p" cx="79.2" cy="456.4" r="1.85"/>
<circle class="p" cx="53.8" cy="484.5" r="1.85"/>
<circle class="p" cx="100.8" cy="469.7" r="1.85"/>
<circle class="p" cx="92.3" cy="470.4" r="1.85"/>
<circle class="g" cx="74.7" cy="388.2" r="1.85"/>
<circle class="p" cx="117.5" cy="483.4" r="1.85"/>
<circle class="r" cx="138.4" cy="494.5" r="1.85"/>
<circle class="g" cx="70.7" cy="390.4" r="1.85"/>
<circle class="p" cx="79.8" cy="482.5" r="1.85"/>
<circle class="g" cx="118.8" cy="428.5" r="1.85"/>
<circle class="p" cx="46.7" cy="455.9" r="1.85"/>
<circle class="g" cx="84.5" cy="411.1" r="1.85"/>
<circle class="g" cx="58.1" cy="394.1" r="1.85"/>
<circle class="p" cx="66.2" cy="482.7" r="1.85"/>
<circle class="p" cx="67.7" cy="481.4" r="1.85"/>
<circle class="p" cx="44.8" cy="462.5" r="1.85"/>
<circle class="p" cx="47.6" cy="442.8" r="1.85"/>
<circle class="r" cx="144.5" cy="461.6" r="1.85"/>
<circle class="p" cx="75.3" cy="494.1" r="1.85"/>
<circle class="p" cx="90.8" cy="474.1" r="1.85"/>
<circle class="r" cx="145.6" cy="469.9" r="1.85"/>
<circle class="p" cx="81.8" cy="482.7" r="1.85"/>
<circle class="g" cx="49.9" cy="433.0" r="1.85"/>
<circle class="p" cx="106.1" cy="443.5" r="1.85"/>
<circle class="g" cx="57.8" cy="340.5" r="1.85"/>
<circle class="r" cx="153.0" cy="474.8" r="1.85"/>
<circle class="b" cx="651.1" cy="399.2" r="1.85"/>
<circle class="p" cx="116.5" cy="468.7" r="1.85"/>
<circle class="p" cx="55.6" cy="466.0" r="1.85"/>
<circle class="g" cx="122.4" cy="401.7" r="1.85"/>
<circle class="g" cx="85.7" cy="332.0" r="1.85"/>
<circle class="g" cx="74.3" cy="429.9" r="1.85"/>
<circle class="r" cx="192.8" cy="479.4" r="1.85"/>
<circle class="g" cx="97.6" cy="412.8" r="1.85"/>
<circle class="g" cx="86.3" cy="421.4" r="1.85"/>
<circle class="p" cx="43.3" cy="459.3" r="1.85"/>
<circle class="p" cx="112.2" cy="448.7" r="1.85"/>
<circle class="g" cx="58.7" cy="365.7" r="1.85"/>
<circle class="g" cx="51.2" cy="410.9" r="1.85"/>
<circle class="r" cx="161.5" cy="469.8" r="1.85"/>
<circle class="r" cx="182.8" cy="504.5" r="1.85"/>
<circle class="p" cx="109.0" cy="483.9" r="1.85"/>
<circle class="p" cx="83.4" cy="463.4" r="1.85"/>
<circle class="g" cx="68.5" cy="420.1" r="1.85"/>
<circle class="p" cx="74.8" cy="487.7" r="1.85"/>
<circle class="p" cx="95.5" cy="501.9" r="1.85"/>
<circle class="p" cx="88.9" cy="440.8" r="1.85"/>
<circle class="p" cx="44.5" cy="444.2" r="1.85"/>
<circle class="g" cx="53.6" cy="430.4" r="1.85"/>
<circle class="p" cx="53.4" cy="439.9" r="1.85"/>
<circle class="g" cx="81.6" cy="377.8" r="1.85"/>
<circle class="p" cx="131.1" cy="474.1" r="1.85"/>
<circle class="g" cx="114.5" cy="414.7" r="1.85"/>
<circle class="r" cx="162.4" cy="506.9" r="1.85"/>
<circle class="p" cx="61.8" cy="489.3" r="1.85"/>
<circle class="g" cx="71.3" cy="364.7" r="1.85"/>
<circle class="p" cx="100.1" cy="456.4" r="1.85"/>
<circle class="r" cx="165.1" cy="517.8" r="1.85"/>
<circle class="g" cx="85.3" cy="419.0" r="1.85"/>
<circle class="p" cx="130.9" cy="447.9" r="1.85"/>
<circle class="p" cx="42.0" cy="441.5" r="1.85"/>
<circle class="p" cx="85.4" cy="479.1" r="1.85"/>
<circle class="p" cx="42.3" cy="449.0" r="1.85"/>
<circle class="p" cx="92.8" cy="472.4" r="1.85"/>
<circle class="p" cx="118.5" cy="478.1" r="1.85"/>
<circle class="p" cx="48.8" cy="498.9" r="1.85"/>
<circle class="o" cx="76.6" cy="304.0" r="1.85"/>
<circle class="p" cx="67.8" cy="489.5" r="1.85"/>
<circle class="p" cx="123.1" cy="447.0" r="1.85"/>
<circle class="p" cx="96.4" cy="452.7" r="1.85"/>
<circle class="p" cx="38.1" cy="495.1" r="1.85"/>
<circle class="b" cx="382.5" cy="504.4" r="1.85"/>
<circle class="r" cx="265.8" cy="466.8" r="1.85"/>
<circle class="p" cx="43.4" cy="483.1" r="1.85"/>
<circle class="b" cx="364.0" cy="443.6" r="1.85"/>
<circle class="o" cx="120.7" cy="189.3" r="1.85"/>
<circle class="g" cx="107.2" cy="376.3" r="1.85"/>
<circle class="p" cx="96.8" cy="440.2" r="1.85"/>
<circle class="p" cx="80.8" cy="458.6" r="1.85"/>
<circle class="b" cx="721.4" cy="466.3" r="1.85"/>
<circle class="p" cx="118.7" cy="499.9" r="1.85"/>
<circle class="g" cx="85.8" cy="411.1" r="1.85"/>
<circle class="r" cx="204.0" cy="495.6" r="1.85"/>
<circle class="p" cx="54.5" cy="474.2" r="1.85"/>
<circle class="p" cx="115.4" cy="476.7" r="1.85"/>
<circle class="g" cx="73.2" cy="437.4" r="1.85"/>
<circle class="p" cx="67.3" cy="481.3" r="1.85"/>
<circle class="p" cx="88.8" cy="478.1" r="1.85"/>
<circle class="p" cx="76.5" cy="460.0" r="1.85"/>
<circle class="p" cx="47.7" cy="471.3" r="1.85"/>
<circle class="p" cx="122.5" cy="486.2" r="1.85"/>
<circle class="p" cx="120.5" cy="443.5" r="1.85"/>
<circle class="p" cx="63.1" cy="455.9" r="1.85"/>
<circle class="p" cx="65.2" cy="501.7" r="1.85"/>
<circle class="b" cx="491.9" cy="368.9" r="1.85"/>
<circle class="p" cx="124.8" cy="451.6" r="1.85"/>
<circle class="p" cx="106.4" cy="448.1" r="1.85"/>
<circle class="b" cx="393.8" cy="507.6" r="1.85"/>
<circle class="p" cx="52.7" cy="464.9" r="1.85"/>
<circle class="p" cx="79.9" cy="471.9" r="1.85"/>
<circle class="p" cx="77.5" cy="454.3" r="1.85"/>
<circle class="r" cx="153.7" cy="488.7" r="1.85"/>
<circle class="g" cx="116.3" cy="434.7" r="1.85"/>
<circle class="g" cx="95.2" cy="438.1" r="1.85"/>
<circle class="p" cx="70.0" cy="474.5" r="1.85"/>
<circle class="p" cx="80.7" cy="478.5" r="1.85"/>
<circle class="p" cx="45.7" cy="472.4" r="1.85"/>
<circle class="p" cx="126.8" cy="491.7" r="1.85"/>
<circle class="p" cx="104.7" cy="473.0" r="1.85"/>
<circle class="p" cx="91.6" cy="479.3" r="1.85"/>
<circle class="g" cx="38.6" cy="411.1" r="1.85"/>
<circle class="p" cx="38.7" cy="470.9" r="1.85"/>
<circle class="p" cx="103.7" cy="479.9" r="1.85"/>
<circle class="r" cx="223.5" cy="498.1" r="1.85"/>
<circle class="p" cx="129.1" cy="490.5" r="1.85"/>
<circle class="p" cx="71.6" cy="447.3" r="1.85"/>
<circle class="p" cx="137.1" cy="440.3" r="1.85"/>
<circle class="g" cx="47.1" cy="417.9" r="1.85"/>
<circle class="p" cx="86.2" cy="479.8" r="1.85"/>
<circle class="p" cx="91.4" cy="481.5" r="1.85"/>
<circle class="g" cx="147.7" cy="376.7" r="1.85"/>
<circle class="g" cx="110.0" cy="438.1" r="1.85"/>
<circle class="r" cx="174.6" cy="485.2" r="1.85"/>
<circle class="b" cx="387.5" cy="437.3" r="1.85"/>
<circle class="r" cx="243.3" cy="485.1" r="1.85"/>
<circle class="p" cx="39.5" cy="476.5" r="1.85"/>
<circle class="b" cx="436.8" cy="463.6" r="1.85"/>
<circle class="p" cx="116.3" cy="451.7" r="1.85"/>
<circle class="p" cx="78.7" cy="453.6" r="1.85"/>
<circle class="g" cx="80.2" cy="434.9" r="1.85"/>
<circle class="p" cx="95.1" cy="464.8" r="1.85"/>
<circle class="g" cx="151.7" cy="410.9" r="1.85"/>
<circle class="p" cx="47.7" cy="454.2" r="1.85"/>
<circle class="p" cx="38.9" cy="503.1" r="1.85"/>
<circle class="g" cx="96.4" cy="418.3" r="1.85"/>
<circle class="r" cx="194.0" cy="509.1" r="1.85"/>
<circle class="p" cx="76.2" cy="444.7" r="1.85"/>
<circle class="p" cx="75.2" cy="445.5" r="1.85"/>
<circle class="p" cx="81.2" cy="440.7" r="1.85"/>
<circle class="p" cx="116.7" cy="479.5" r="1.85"/>
<circle class="p" cx="105.3" cy="456.3" r="1.85"/>
<circle class="g" cx="49.1" cy="346.7" r="1.85"/>
<circle class="p" cx="124.1" cy="476.6" r="1.85"/>
<circle class="p" cx="73.8" cy="475.1" r="1.85"/>
<circle class="p" cx="56.0" cy="469.7" r="1.85"/>
<circle class="b" cx="410.3" cy="504.9" r="1.85"/>
<circle class="p" cx="140.0" cy="467.7" r="1.85"/>
<circle class="p" cx="120.4" cy="460.2" r="1.85"/>
<circle class="g" cx="48.2" cy="420.8" r="1.85"/>
<circle class="p" cx="93.5" cy="444.2" r="1.85"/>
<circle class="r" cx="162.2" cy="516.6" r="1.85"/>
<circle class="o" cx="62.6" cy="290.8" r="1.85"/>
<circle class="r" cx="190.5" cy="454.6" r="1.85"/>
<circle class="g" cx="103.5" cy="431.3" r="1.85"/>
<circle class="p" cx="97.0" cy="468.4" r="1.85"/>
<circle class="r" cx="149.0" cy="475.3" r="1.85"/>
<circle class="p" cx="101.7" cy="469.1" r="1.85"/>
<circle class="r" cx="247.3" cy="488.1" r="1.85"/>
<circle class="g" cx="61.6" cy="435.6" r="1.85"/>
<circle class="g" cx="136.3" cy="430.5" r="1.85"/>
<circle class="g" cx="114.7" cy="396.0" r="1.85"/>
<circle class="p" cx="70.9" cy="460.6" r="1.85"/>
<circle class="r" cx="246.3" cy="434.5" r="1.85"/>
<circle class="g" cx="98.1" cy="421.5" r="1.85"/>
<circle class="p" cx="93.2" cy="445.0" r="1.85"/>
<circle class="g" cx="91.7" cy="415.4" r="1.85"/>
<circle class="p" cx="110.1" cy="465.0" r="1.85"/>
<circle class="p" cx="92.7" cy="488.3" r="1.85"/>
<circle class="r" cx="146.5" cy="501.2" r="1.85"/>
<circle class="p" cx="97.5" cy="520.1" r="1.85"/>
<circle class="p" cx="63.8" cy="459.5" r="1.85"/>
<circle class="g" cx="56.7" cy="428.8" r="1.85"/>
<circle class="p" cx="92.7" cy="471.6" r="1.85"/>
<circle class="g" cx="84.7" cy="402.3" r="1.85"/>
<circle class="g" cx="55.7" cy="420.7" r="1.85"/>
<circle class="r" cx="166.0" cy="488.6" r="1.85"/>
<circle class="p" cx="109.1" cy="458.4" r="1.85"/>
<circle class="b" cx="367.7" cy="462.6" r="1.85"/>
<circle class="b" cx="468.1" cy="471.8" r="1.85"/>
<circle class="p" cx="69.9" cy="454.2" r="1.85"/>
<circle class="p" cx="110.9" cy="467.7" r="1.85"/>
<circle class="p" cx="79.5" cy="444.1" r="1.85"/>
<circle class="r" cx="215.0" cy="467.8" r="1.85"/>
<circle class="p" cx="90.7" cy="469.6" r="1.85"/>
<circle class="p" cx="74.9" cy="478.3" r="1.85"/>
<circle class="p" cx="88.0" cy="441.5" r="1.85"/>
<circle class="r" cx="226.8" cy="507.6" r="1.85"/>
<circle class="r" cx="256.1" cy="434.0" r="1.85"/>
<circle class="r" cx="254.3" cy="455.3" r="1.85"/>
<circle class="p" cx="67.7" cy="451.2" r="1.85"/>
<circle class="p" cx="44.4" cy="444.8" r="1.85"/>
<circle class="p" cx="64.3" cy="458.0" r="1.85"/>
<circle class="b" cx="374.5" cy="439.6" r="1.85"/>
<circle class="p" cx="101.7" cy="446.5" r="1.85"/>
<circle class="p" cx="108.6" cy="449.8" r="1.85"/>
<circle class="g" cx="95.3" cy="406.5" r="1.85"/>
<circle class="p" cx="103.1" cy="479.0" r="1.85"/>
<circle class="p" cx="43.8" cy="492.8" r="1.85"/>
<circle class="p" cx="93.1" cy="443.9" r="1.85"/>
<circle class="o" cx="80.4" cy="32.5" r="1.85"/>
<circle class="p" cx="89.8" cy="499.9" r="1.85"/>
<circle class="p" cx="42.1" cy="491.4" r="1.85"/>
<circle class="p" cx="100.1" cy="440.9" r="1.85"/>
<circle class="g" cx="98.1" cy="416.5" r="1.85"/>
<circle class="g" cx="53.4" cy="408.9" r="1.85"/>
<circle class="p" cx="49.8" cy="462.2" r="1.85"/>
<circle class="p" cx="110.6" cy="494.8" r="1.85"/>
<circle class="p" cx="45.0" cy="484.6" r="1.85"/>
<circle class="r" cx="148.5" cy="477.1" r="1.85"/>
<circle class="g" cx="112.3" cy="437.5" r="1.85"/>
<circle class="r" cx="148.7" cy="488.9" r="1.85"/>
<circle class="p" cx="77.6" cy="463.9" r="1.85"/>
<circle class="g" cx="72.8" cy="382.9" r="1.85"/>
<circle class="p" cx="98.7" cy="458.5" r="1.85"/>
<circle class="p" cx="105.5" cy="501.1" r="1.85"/>
<circle class="g" cx="85.0" cy="402.8" r="1.85"/>
<circle class="r" cx="167.2" cy="468.5" r="1.85"/>
<circle class="r" cx="146.2" cy="497.6" r="1.85"/>
<circle class="g" cx="186.1" cy="383.0" r="1.85"/>
<circle class="r" cx="150.5" cy="493.7" r="1.85"/>
<circle class="p" cx="91.0" cy="474.4" r="1.85"/>
<circle class="p" cx="107.3" cy="488.1" r="1.85"/>
<circle class="p" cx="109.1" cy="444.7" r="1.85"/>
<circle class="p" cx="96.0" cy="461.3" r="1.85"/>
<circle class="p" cx="80.5" cy="477.7" r="1.85"/>
<circle class="p" cx="56.7" cy="498.0" r="1.85"/>
<circle class="p" cx="100.9" cy="486.3" r="1.85"/>
<circle class="p" cx="119.1" cy="471.4" r="1.85"/>
<circle class="p" cx="81.7" cy="463.7" r="1.85"/>
<circle class="p" cx="101.5" cy="499.7" r="1.85"/>
<circle class="g" cx="89.2" cy="406.4" r="1.85"/>
<circle class="p" cx="91.9" cy="490.7" r="1.85"/>
<circle class="p" cx="109.5" cy="475.0" r="1.85"/>
<circle class="p" cx="111.5" cy="474.8" r="1.85"/>
<circle class="r" cx="149.3" cy="471.5" r="1.85"/>
<circle class="r" cx="160.9" cy="471.8" r="1.85"/>
<circle class="b" cx="418.0" cy="481.6" r="1.85"/>
<circle class="p" cx="82.1" cy="466.7" r="1.85"/>
<circle class="p" cx="53.5" cy="454.0" r="1.85"/>
<circle class="p" cx="128.4" cy="458.5" r="1.85"/>
<circle class="p" cx="81.3" cy="496.5" r="1.85"/>
<circle class="g" cx="41.1" cy="435.9" r="1.85"/>
<circle class="p" cx="79.2" cy="440.6" r="1.85"/>
<circle class="p" cx="124.8" cy="457.7" r="1.85"/>
<circle class="p" cx="72.2" cy="471.1" r="1.85"/>
<circle class="p" cx="87.3" cy="481.4" r="1.85"/>
<circle class="r" cx="149.8" cy="487.3" r="1.85"/>
<circle class="g" cx="98.9" cy="427.9" r="1.85"/>
<circle class="g" cx="66.5" cy="375.3" r="1.85"/>
<circle class="p" cx="63.1" cy="446.8" r="1.85"/>
<circle class="g" cx="97.8" cy="384.1" r="1.85"/>
<circle class="p" cx="96.2" cy="477.0" r="1.85"/>
<circle class="r" cx="183.6" cy="469.8" r="1.85"/>
<circle class="r" cx="159.2" cy="481.7" r="1.85"/>
<circle class="o" cx="50.1" cy="315.6" r="1.85"/>
<circle class="g" cx="125.9" cy="385.1" r="1.85"/>
<circle class="p" cx="45.8" cy="445.4" r="1.85"/>
<circle class="p" cx="79.1" cy="445.5" r="1.85"/>
<circle class="p" cx="56.9" cy="451.4" r="1.85"/>
<circle class="p" cx="136.1" cy="444.0" r="1.85"/>
<circle class="p" cx="63.0" cy="488.3" r="1.85"/>
<circle class="r" cx="199.5" cy="523.2" r="1.85"/>
<circle class="g" cx="81.4" cy="405.4" r="1.85"/>
<circle class="p" cx="54.6" cy="490.3" r="1.85"/>
<circle class="p" cx="117.8" cy="459.2" r="1.85"/>
<circle class="p" cx="78.6" cy="446.1" r="1.85"/>
<circle class="p" cx="62.9" cy="456.3" r="1.85"/>
<circle class="p" cx="53.7" cy="473.9" r="1.85"/>
<circle class="p" cx="95.2" cy="486.7" r="1.85"/>
<circle class="p" cx="55.9" cy="490.5" r="1.85"/>
<circle class="p" cx="140.2" cy="457.8" r="1.85"/>
<circle class="g" cx="74.8" cy="437.2" r="1.85"/>
<circle class="p" cx="41.9" cy="487.0" r="1.85"/>
<circle class="g" cx="39.4" cy="409.5" r="1.85"/>
<circle class="r" cx="147.0" cy="494.3" r="1.85"/>
<circle class="r" cx="179.9" cy="471.2" r="1.85"/>
<circle class="p" cx="80.6" cy="475.0" r="1.85"/>
<circle class="p" cx="38.4" cy="443.3" r="1.85"/>
<circle class="p" cx="76.4" cy="458.2" r="1.85"/>
<circle class="g" cx="47.1" cy="408.8" r="1.85"/>
<circle class="g" cx="103.4" cy="391.5" r="1.85"/>
<circle class="p" cx="77.0" cy="451.2" r="1.85"/>
<circle class="r" cx="208.5" cy="508.1" r="1.85"/>
<circle class="p" cx="65.9" cy="464.0" r="1.85"/>
<circle class="p" cx="57.2" cy="494.1" r="1.85"/>
<circle class="g" cx="59.8" cy="424.3" r="1.85"/>
<circle class="p" cx="93.9" cy="480.3" r="1.85"/>
<circle class="p" cx="69.1" cy="464.5" r="1.85"/>
<circle class="o" cx="81.9" cy="52.3" r="1.85"/>
<circle class="g" cx="264.1" cy="390.7" r="1.85"/>
<circle class="p" cx="86.6" cy="467.4" r="1.85"/>
<circle class="p" cx="46.6" cy="492.0" r="1.85"/>
<circle class="p" cx="79.1" cy="488.9" r="1.85"/>
<circle class="g" cx="93.0" cy="427.3" r="1.85"/>
<circle class="p" cx="133.8" cy="465.8" r="1.85"/>
<circle class="p" cx="111.2" cy="443.4" r="1.85"/>
<circle class="p" cx="38.6" cy="446.8" r="1.85"/>
<circle class="p" cx="103.7" cy="495.4" r="1.85"/>
<circle class="p" cx="54.0" cy="482.5" r="1.85"/>
<circle class="r" cx="199.5" cy="508.6" r="1.85"/>
<circle class="p" cx="54.5" cy="446.9" r="1.85"/>
<circle class="r" cx="141.2" cy="483.9" r="1.85"/>
<circle class="p" cx="84.2" cy="450.0" r="1.85"/>
<circle class="p" cx="52.5" cy="455.7" r="1.85"/>
<circle class="p" cx="131.4" cy="453.3" r="1.85"/>
<circle class="p" cx="86.4" cy="465.9" r="1.85"/>
<circle class="p" cx="71.8" cy="460.2" r="1.85"/>
<circle class="p" cx="110.2" cy="459.4" r="1.85"/>
<circle class="r" cx="145.1" cy="469.2" r="1.85"/>
<circle class="p" cx="51.6" cy="441.4" r="1.85"/>
<circle class="g" cx="86.4" cy="372.1" r="1.85"/>
<circle class="r" cx="226.8" cy="469.3" r="1.85"/>
<circle class="r" cx="143.2" cy="472.3" r="1.85"/>
<circle class="p" cx="96.9" cy="479.8" r="1.85"/>
<circle class="p" cx="82.5" cy="442.2" r="1.85"/>
<circle class="r" cx="216.0" cy="465.3" r="1.85"/>
<circle class="p" cx="70.6" cy="458.8" r="1.85"/>
<circle class="p" cx="114.7" cy="470.3" r="1.85"/>
<circle class="p" cx="40.1" cy="476.1" r="1.85"/>
<circle class="r" cx="137.0" cy="501.1" r="1.85"/>
<circle class="p" cx="115.2" cy="489.9" r="1.85"/>
<circle class="r" cx="256.1" cy="473.8" r="1.85"/>
<circle class="p" cx="96.0" cy="455.3" r="1.85"/>
<circle class="b" cx="679.4" cy="463.3" r="1.85"/>
<circle class="p" cx="84.5" cy="451.3" r="1.85"/>
<circle class="g" cx="93.4" cy="417.8" r="1.85"/>
<circle class="g" cx="72.1" cy="433.1" r="1.85"/>
<circle class="p" cx="114.1" cy="448.8" r="1.85"/>
<circle class="r" cx="270.1" cy="499.4" r="1.85"/>
<circle class="g" cx="160.0" cy="430.1" r="1.85"/>
<circle class="p" cx="125.3" cy="452.4" r="1.85"/>
<circle class="p" cx="72.7" cy="466.5" r="1.85"/>
<circle class="p" cx="66.4" cy="441.4" r="1.85"/>
<circle class="p" cx="65.9" cy="468.8" r="1.85"/>
<circle class="p" cx="115.4" cy="461.4" r="1.85"/>
<circle class="g" cx="149.5" cy="434.0" r="1.85"/>
<circle class="o" cx="56.3" cy="227.4" r="1.85"/>
<circle class="p" cx="109.3" cy="445.6" r="1.85"/>
<circle class="p" cx="72.5" cy="496.2" r="1.85"/>
<circle class="g" cx="64.6" cy="364.9" r="1.85"/>
<circle class="g" cx="87.5" cy="432.3" r="1.85"/>
<circle class="r" cx="186.1" cy="514.1" r="1.85"/>
<circle class="p" cx="68.9" cy="448.5" r="1.85"/>
<circle class="g" cx="99.8" cy="406.6" r="1.85"/>
<circle class="r" cx="160.9" cy="467.3" r="1.85"/>
<circle class="p" cx="127.9" cy="492.7" r="1.85"/>
<circle class="g" cx="156.7" cy="396.0" r="1.85"/>
<circle class="g" cx="91.9" cy="435.5" r="1.85"/>
<circle class="r" cx="147.9" cy="507.5" r="1.85"/>
<circle class="p" cx="129.3" cy="453.4" r="1.85"/>
<circle class="p" cx="48.8" cy="464.6" r="1.85"/>
<circle class="p" cx="92.2" cy="477.1" r="1.85"/>
<circle class="p" cx="104.5" cy="487.2" r="1.85"/>
<circle class="g" cx="125.8" cy="403.3" r="1.85"/>
<circle class="b" cx="464.1" cy="492.9" r="1.85"/>
<circle class="g" cx="73.6" cy="393.3" r="1.85"/>
<circle class="r" cx="158.8" cy="484.8" r="1.85"/>
<circle class="b" cx="338.7" cy="510.9" r="1.85"/>
<circle class="p" cx="96.4" cy="477.8" r="1.85"/>
<circle class="p" cx="123.7" cy="452.0" r="1.85"/>
<circle class="r" cx="144.4" cy="494.0" r="1.85"/>
<circle class="p" cx="120.9" cy="465.6" r="1.85"/>
<circle class="b" cx="304.9" cy="418.2" r="1.85"/>
<circle class="p" cx="83.8" cy="490.2" r="1.85"/>
<circle class="p" cx="93.9" cy="442.5" r="1.85"/>
<circle class="p" cx="78.4" cy="458.6" r="1.85"/>
<circle class="p" cx="100.1" cy="449.8" r="1.85"/>
<circle class="p" cx="132.3" cy="484.4" r="1.85"/>
<circle class="g" cx="159.3" cy="423.5" r="1.85"/>
<circle class="p" cx="58.5" cy="447.3" r="1.85"/>
<circle class="g" cx="131.5" cy="395.1" r="1.85"/>
<circle class="p" cx="92.2" cy="457.2" r="1.85"/>
<circle class="p" cx="101.9" cy="472.8" r="1.85"/>
<circle class="p" cx="79.1" cy="468.8" r="1.85"/>
<circle class="p" cx="58.0" cy="474.9" r="1.85"/>
<circle class="p" cx="74.7" cy="451.0" r="1.85"/>
<circle class="g" cx="63.1" cy="336.8" r="1.85"/>
<circle class="g" cx="75.7" cy="434.6" r="1.85"/>
<circle class="p" cx="120.5" cy="457.8" r="1.85"/>
<circle class="p" cx="55.1" cy="451.4" r="1.85"/>
<circle class="p" cx="92.4" cy="480.9" r="1.85"/>
<circle class="p" cx="104.1" cy="466.0" r="1.85"/>
<circle class="p" cx="53.4" cy="473.0" r="1.85"/>
<circle class="g" cx="108.7" cy="397.3" r="1.85"/>
<circle class="g" cx="62.2" cy="423.7" r="1.85"/>
<circle class="g" cx="58.3" cy="385.0" r="1.85"/>
<circle class="g" cx="80.6" cy="353.0" r="1.85"/>
<circle class="g" cx="66.7" cy="418.2" r="1.85"/>
<circle class="p" cx="51.8" cy="477.2" r="1.85"/>
<circle class="p" cx="41.1" cy="477.9" r="1.85"/>
<circle class="p" cx="55.1" cy="464.8" r="1.85"/>
<circle class="g" cx="66.6" cy="397.3" r="1.85"/>
<circle class="p" cx="104.7" cy="449.5" r="1.85"/>
<circle class="p" cx="93.8" cy="454.2" r="1.85"/>
<circle class="p" cx="70.6" cy="474.3" r="1.85"/>
<circle class="b" cx="323.7" cy="442.1" r="1.85"/>
<circle class="p" cx="53.6" cy="481.6" r="1.85"/>
<circle class="p" cx="74.2" cy="471.2" r="1.85"/>
<circle class="p" cx="69.4" cy="476.7" r="1.85"/>
<circle class="r" cx="154.8" cy="493.7" r="1.85"/>
<circle class="p" cx="66.3" cy="447.4" r="1.85"/>
<circle class="g" cx="58.6" cy="403.1" r="1.85"/>
<circle class="g" cx="73.8" cy="410.7" r="1.85"/>
<circle class="p" cx="119.3" cy="474.0" r="1.85"/>
<circle class="p" cx="61.0" cy="451.1" r="1.85"/>
<circle class="g" cx="74.9" cy="430.2" r="1.85"/>
<circle class="b" cx="438.1" cy="372.6" r="1.85"/>
<circle class="g" cx="51.7" cy="418.2" r="1.85"/>
<circle class="p" cx="90.8" cy="450.3" r="1.85"/>
<circle class="p" cx="134.4" cy="470.6" r="1.85"/>
<circle class="p" cx="108.5" cy="455.1" r="1.85"/>
<circle class="p" cx="40.8" cy="469.0" r="1.85"/>
<circle class="p" cx="97.1" cy="448.3" r="1.85"/>
<circle class="p" cx="50.2" cy="445.0" r="1.85"/>
<circle class="p" cx="122.4" cy="451.9" r="1.85"/>
<circle class="g" cx="75.9" cy="355.1" r="1.85"/>
<circle class="p" cx="106.9" cy="464.3" r="1.85"/>
<circle class="g" cx="69.7" cy="427.5" r="1.85"/>
<circle class="p" cx="53.8" cy="445.6" r="1.85"/>
<circle class="p" cx="122.2" cy="490.2" r="1.85"/>
<circle class="o" cx="366.0" cy="199.3" r="1.85"/>
<circle class="r" cx="199.3" cy="503.1" r="1.85"/>
<circle class="o" cx="99.4" cy="41.6" r="1.85"/>
<circle class="g" cx="46.4" cy="420.1" r="1.85"/>
<circle class="g" cx="112.4" cy="406.2" r="1.85"/>
<circle class="p" cx="45.2" cy="459.1" r="1.85"/>
<circle class="p" cx="96.6" cy="458.5" r="1.85"/>
<circle class="r" cx="290.6" cy="518.7" r="1.85"/>
<circle class="p" cx="115.1" cy="487.3" r="1.85"/>
<circle class="p" cx="102.4" cy="455.2" r="1.85"/>
<circle class="g" cx="57.7" cy="426.6" r="1.85"/>
<circle class="g" cx="62.8" cy="435.0" r="1.85"/>
<circle class="p" cx="130.6" cy="486.5" r="1.85"/>
<circle class="p" cx="68.1" cy="447.2" r="1.85"/>
<circle class="p" cx="75.2" cy="453.8" r="1.85"/>
<circle class="p" cx="91.5" cy="447.8" r="1.85"/>
<circle class="p" cx="79.6" cy="475.0" r="1.85"/>
<circle class="p" cx="62.5" cy="446.1" r="1.85"/>
<circle class="g" cx="115.9" cy="405.2" r="1.85"/>
<circle class="g" cx="90.3" cy="419.0" r="1.85"/>
<circle class="p" cx="96.9" cy="472.8" r="1.85"/>
<circle class="p" cx="41.4" cy="471.8" r="1.85"/>
<circle class="p" cx="111.7" cy="490.4" r="1.85"/>
<circle class="p" cx="82.2" cy="476.1" r="1.85"/>
<circle class="p" cx="98.7" cy="494.8" r="1.85"/>
<circle class="p" cx="42.3" cy="452.8" r="1.85"/>
<circle class="r" cx="136.9" cy="502.7" r="1.85"/>
<circle class="p" cx="113.7" cy="467.4" r="1.85"/>
<circle class="r" cx="177.7" cy="497.2" r="1.85"/>
<circle class="p" cx="71.2" cy="470.0" r="1.85"/>
<circle class="g" cx="62.4" cy="374.3" r="1.85"/>
<circle class="r" cx="155.0" cy="484.0" r="1.85"/>
<circle class="o" cx="60.1" cy="299.8" r="1.85"/>
<circle class="p" cx="48.5" cy="482.8" r="1.85"/>
<circle class="b" cx="636.8" cy="283.9" r="1.85"/>
<circle class="g" cx="52.1" cy="434.0" r="1.85"/>
<circle class="g" cx="58.4" cy="392.6" r="1.85"/>
<circle class="p" cx="89.8" cy="465.2" r="1.85"/>
<circle class="p" cx="106.8" cy="440.6" r="1.85"/>
<circle class="p" cx="98.2" cy="456.0" r="1.85"/>
<circle class="b" cx="454.3" cy="410.2" r="1.85"/>
<circle class="o" cx="59.1" cy="311.8" r="1.85"/>
<circle class="p" cx="67.2" cy="456.3" r="1.85"/>
<circle class="p" cx="50.1" cy="440.3" r="1.85"/>
<circle class="p" cx="49.8" cy="481.5" r="1.85"/>
<circle class="b" cx="539.7" cy="451.8" r="1.85"/>
<circle class="p" cx="45.4" cy="480.1" r="1.85"/>
<circle class="p" cx="114.2" cy="454.1" r="1.85"/>
<circle class="p" cx="93.1" cy="467.8" r="1.85"/>
<circle class="o" cx="122.9" cy="180.0" r="1.85"/>
<circle class="p" cx="47.0" cy="463.8" r="1.85"/>
<circle class="p" cx="43.7" cy="485.4" r="1.85"/>
<circle class="o" cx="59.1" cy="232.9" r="1.85"/>
<circle class="b" cx="510.7" cy="497.9" r="1.85"/>
<circle class="p" cx="54.1" cy="506.6" r="1.85"/>
<circle class="p" cx="78.3" cy="447.7" r="1.85"/>
<circle class="g" cx="96.6" cy="416.1" r="1.85"/>
<circle class="p" cx="40.4" cy="460.5" r="1.85"/>
<circle class="p" cx="85.9" cy="458.3" r="1.85"/>
<circle class="p" cx="113.5" cy="491.7" r="1.85"/>
<circle class="o" cx="99.9" cy="277.2" r="1.85"/>
<circle class="r" cx="147.2" cy="487.6" r="1.85"/>
<circle class="p" cx="43.7" cy="479.0" r="1.85"/>
<circle class="p" cx="117.1" cy="448.1" r="1.85"/>
<circle class="g" cx="122.9" cy="363.9" r="1.85"/>
<circle class="p" cx="90.0" cy="478.2" r="1.85"/>
<circle class="g" cx="55.7" cy="438.0" r="1.85"/>
<circle class="p" cx="69.2" cy="448.2" r="1.85"/>
<circle class="p" cx="68.8" cy="452.9" r="1.85"/>
<circle class="p" cx="37.7" cy="478.4" r="1.85"/>
<circle class="p" cx="46.0" cy="486.1" r="1.85"/>
<circle class="p" cx="99.0" cy="450.8" r="1.85"/>
<circle class="g" cx="102.0" cy="399.7" r="1.85"/>
<circle class="g" cx="98.9" cy="424.9" r="1.85"/>
<circle class="p" cx="47.2" cy="491.3" r="1.85"/>
<circle class="p" cx="113.8" cy="478.0" r="1.85"/>
<circle class="p" cx="78.1" cy="487.2" r="1.85"/>
<circle class="g" cx="51.0" cy="362.3" r="1.85"/>
<circle class="p" cx="47.3" cy="442.1" r="1.85"/>
<circle class="p" cx="144.3" cy="454.0" r="1.85"/>
<circle class="p" cx="90.2" cy="493.5" r="1.85"/>
<circle class="o" cx="46.3" cy="196.3" r="1.85"/>
<circle class="p" cx="51.2" cy="451.6" r="1.85"/>
<circle class="p" cx="51.0" cy="453.9" r="1.85"/>
<circle class="r" cx="147.6" cy="465.4" r="1.85"/>
<circle class="p" cx="114.5" cy="490.9" r="1.85"/>
<circle class="p" cx="79.6" cy="478.7" r="1.85"/>
<circle class="r" cx="273.9" cy="457.3" r="1.85"/>
<circle class="p" cx="122.4" cy="478.1" r="1.85"/>
<circle class="g" cx="72.3" cy="428.7" r="1.85"/>
<circle class="p" cx="105.4" cy="499.2" r="1.85"/>
<circle class="p" cx="61.4" cy="451.8" r="1.85"/>
<circle class="p" cx="107.1" cy="507.0" r="1.85"/>
<circle class="p" cx="102.1" cy="443.6" r="1.85"/>
<circle class="g" cx="87.3" cy="427.5" r="1.85"/>
<circle class="g" cx="110.7" cy="424.2" r="1.85"/>
<circle class="p" cx="62.6" cy="464.4" r="1.85"/>
<circle class="p" cx="81.2" cy="456.7" r="1.85"/>
<circle class="p" cx="60.1" cy="492.0" r="1.85"/>
<circle class="p" cx="67.3" cy="488.5" r="1.85"/>
<circle class="p" cx="88.8" cy="482.0" r="1.85"/>
<circle class="p" cx="37.9" cy="465.0" r="1.85"/>
<circle class="g" cx="80.8" cy="395.3" r="1.85"/>
<circle class="p" cx="51.8" cy="493.0" r="1.85"/>
<circle class="p" cx="66.2" cy="440.9" r="1.85"/>
<circle class="p" cx="51.5" cy="449.5" r="1.85"/>
<circle class="g" cx="77.7" cy="399.0" r="1.85"/>
<circle class="r" cx="216.0" cy="503.1" r="1.85"/>
<circle class="p" cx="54.4" cy="458.5" r="1.85"/>
<circle class="p" cx="81.2" cy="487.3" r="1.85"/>
<circle class="r" cx="237.8" cy="493.9" r="1.85"/>
<circle class="g" cx="64.8" cy="437.9" r="1.85"/>
<circle class="g" cx="46.3" cy="352.8" r="1.85"/>
<circle class="g" cx="58.2" cy="430.8" r="1.85"/>
<circle class="p" cx="107.1" cy="469.8" r="1.85"/>
<circle class="p" cx="37.6" cy="446.6" r="1.85"/>
<circle class="p" cx="80.6" cy="461.3" r="1.85"/>
<circle class="b" cx="323.4" cy="416.4" r="1.85"/>
<circle class="p" cx="90.6" cy="467.4" r="1.85"/>
<circle class="p" cx="109.0" cy="499.8" r="1.85"/>
<circle class="g" cx="59.1" cy="408.2" r="1.85"/>
<circle class="g" cx="79.1" cy="411.8" r="1.85"/>
<circle class="p" cx="38.6" cy="472.1" r="1.85"/>
<circle class="p" cx="94.1" cy="460.9" r="1.85"/>
<circle class="g" cx="118.3" cy="413.8" r="1.85"/>
<circle class="p" cx="103.7" cy="481.4" r="1.85"/>
<circle class="g" cx="61.3" cy="432.2" r="1.85"/>
<circle class="p" cx="74.0" cy="490.6" r="1.85"/>
<circle class="g" cx="75.7" cy="373.8" r="1.85"/>
<circle class="r" cx="174.1" cy="469.2" r="1.85"/>
<circle class="p" cx="95.6" cy="453.4" r="1.85"/>
<circle class="p" cx="73.2" cy="468.7" r="1.85"/>
<circle class="p" cx="83.2" cy="448.7" r="1.85"/>
<circle class="r" cx="148.8" cy="486.8" r="1.85"/>
<circle class="p" cx="49.1" cy="477.0" r="1.85"/>
<circle class="o" cx="43.3" cy="203.1" r="1.85"/>
<circle class="p" cx="79.1" cy="476.9" r="1.85"/>
<circle class="p" cx="41.7" cy="489.4" r="1.85"/>
<circle class="r" cx="140.3" cy="501.7" r="1.85"/>
<circle class="p" cx="50.4" cy="491.2" r="1.85"/>
<circle class="p" cx="105.3" cy="445.8" r="1.85"/>
<circle class="b" cx="369.2" cy="505.6" r="1.85"/>
<circle class="p" cx="56.8" cy="457.7" r="1.85"/>
<circle class="p" cx="51.6" cy="481.4" r="1.85"/>
<circle class="p" cx="53.3" cy="460.2" r="1.85"/>
<circle class="p" cx="63.0" cy="445.8" r="1.85"/>
<circle class="p" cx="37.6" cy="476.3" r="1.85"/>
<circle class="p" cx="113.2" cy="479.3" r="1.85"/>
<circle class="o" cx="75.8" cy="293.8" r="1.85"/>
<circle class="p" cx="49.0" cy="468.3" r="1.85"/>
<circle class="p" cx="109.0" cy="455.9" r="1.85"/>
<circle class="p" cx="68.0" cy="442.7" r="1.85"/>
<circle class="p" cx="52.4" cy="440.9" r="1.85"/>
<circle class="g" cx="94.8" cy="408.8" r="1.85"/>
<circle class="p" cx="124.1" cy="443.0" r="1.85"/>
<circle class="p" cx="46.0" cy="464.2" r="1.85"/>
<circle class="p" cx="50.8" cy="458.7" r="1.85"/>
<circle class="g" cx="73.5" cy="418.4" r="1.85"/>
<circle class="g" cx="78.6" cy="411.9" r="1.85"/>
<circle class="p" cx="56.3" cy="469.7" r="1.85"/>
<circle class="p" cx="139.9" cy="449.0" r="1.85"/>
<circle class="p" cx="100.7" cy="448.1" r="1.85"/>
<circle class="p" cx="45.8" cy="477.0" r="1.85"/>
<circle class="p" cx="78.4" cy="442.0" r="1.85"/>
<circle class="p" cx="88.5" cy="485.2" r="1.85"/>
<circle class="p" cx="100.7" cy="468.5" r="1.85"/>
<circle class="p" cx="64.8" cy="481.8" r="1.85"/>
<circle class="p" cx="101.2" cy="464.0" r="1.85"/>
<circle class="p" cx="74.8" cy="484.1" r="1.85"/>
<circle class="p" cx="134.7" cy="446.3" r="1.85"/>
<circle class="g" cx="112.2" cy="417.9" r="1.85"/>
<circle class="r" cx="193.5" cy="511.1" r="1.85"/>
<circle class="g" cx="99.4" cy="426.8" r="1.85"/>
<circle class="p" cx="104.1" cy="469.8" r="1.85"/>
<circle class="b" cx="511.2" cy="527.7" r="1.85"/>
<circle class="g" cx="69.3" cy="392.0" r="1.85"/>
<circle class="p" cx="57.3" cy="510.6" r="1.85"/>
<circle class="r" cx="241.1" cy="480.1" r="1.85"/>
<circle class="p" cx="133.5" cy="459.1" r="1.85"/>
<circle class="p" cx="94.1" cy="477.8" r="1.85"/>
<circle class="g" cx="61.2" cy="378.7" r="1.85"/>
<circle class="g" cx="44.7" cy="402.3" r="1.85"/>
<circle class="p" cx="42.4" cy="488.0" r="1.85"/>
<circle class="p" cx="88.2" cy="486.1" r="1.85"/>
</g>
<g><text x="29.3" y="552.7" text-anchor="middle">0</text><text x="170.9" y="552.7" text-anchor="middle">20</text><text x="312.5" y="552.7" text-anchor="middle">40</text><text x="454.1" y="552.7" text-anchor="middle">60</text><text x="595.7" y="552.7" text-anchor="middle">80</text><text x="737.3" y="552.7" text-anchor="middle">100</text><text x="23.3" y="544.3" text-anchor="end">0</text><text x="23.3" y="410.9" text-anchor="end">5</text><text x="23.3" y="278.9" text-anchor="end">10</text><text x="23.3" y="146.0" text-anchor="end">15</text><text x="23.3" y="12.5" text-anchor="end">20</text></g>
</svg>
</body></html>
